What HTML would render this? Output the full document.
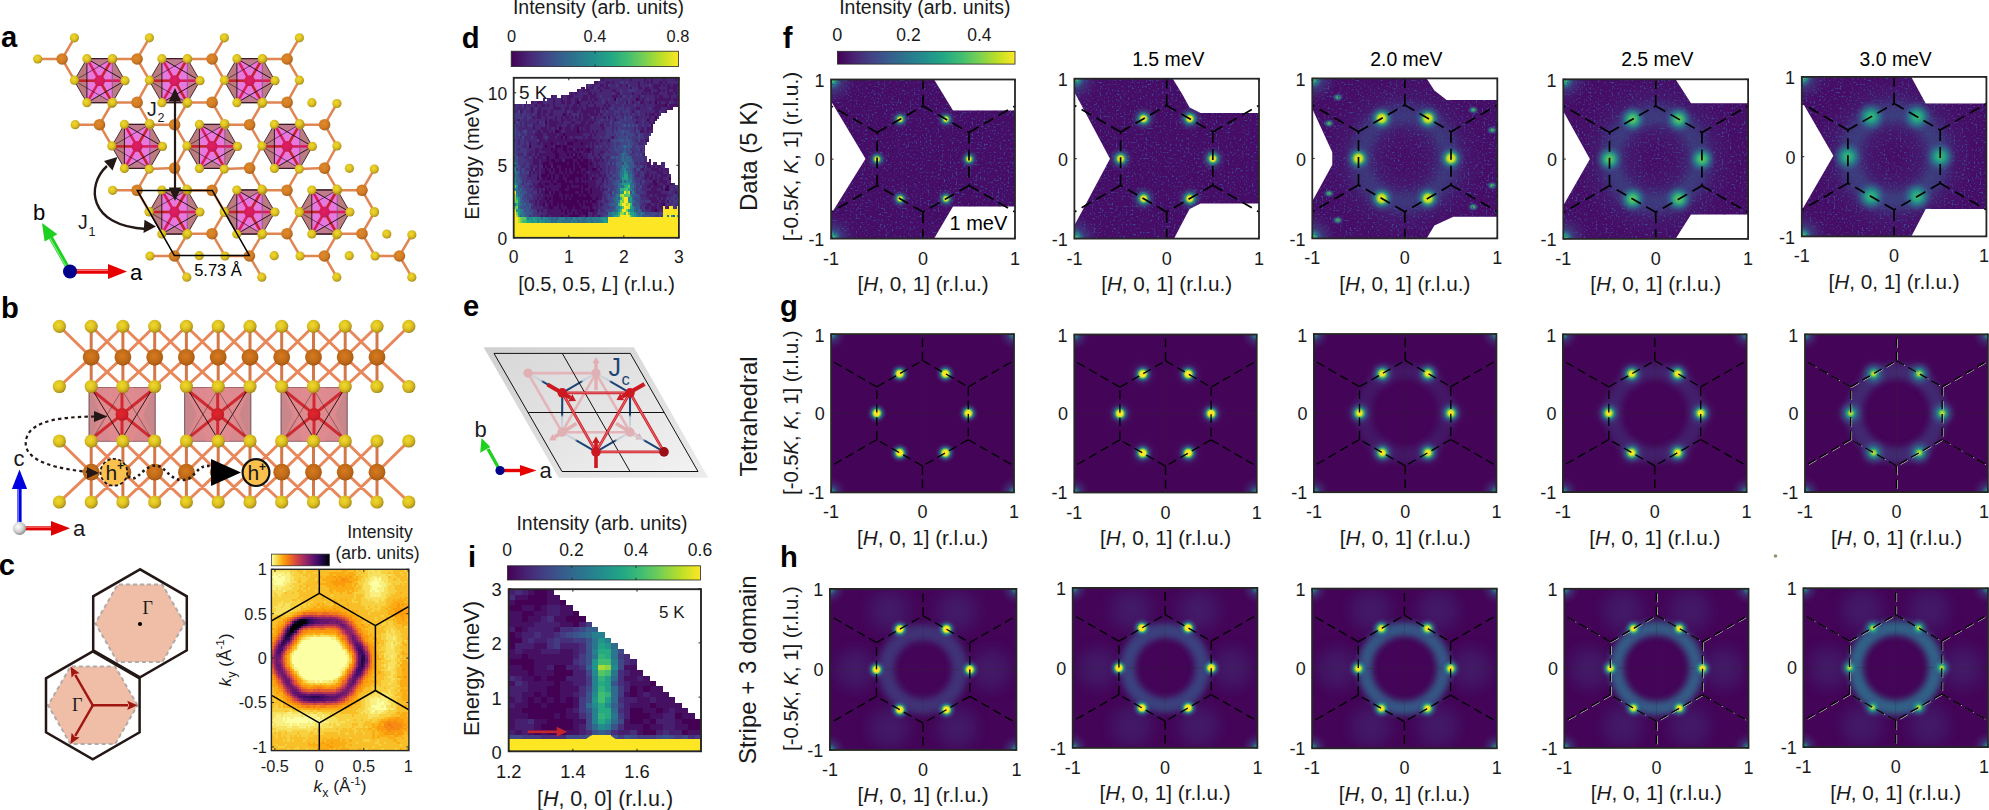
<!DOCTYPE html>
<html><head><meta charset="utf-8"><title>Figure</title>
<style>html,body{margin:0;padding:0;background:#fff}svg{display:block}text{font-family:'Liberation Sans', Arial, Helvetica, sans-serif}</style>
</head><body>
<svg width="1989" height="810" viewBox="0 0 1989 810">
<rect width="1989" height="810" fill="#fff"/>
<defs><filter id="nz" x="0" y="0" width="100%" height="100%" color-interpolation-filters="sRGB"><feTurbulence type="fractalNoise" baseFrequency="0.5" numOctaves="2" seed="7" result="t"/><feColorMatrix in="t" type="matrix" values="0 0 0 0 0.23  0 0 0 0 0.27  0 0 0 0 0.56  3.4 3.4 0 0 -3.62"/><feComposite in2="SourceGraphic" operator="in"/></filter><radialGradient id="sg"><stop offset="0" stop-color="#fde725" stop-opacity="1"/><stop offset="0.25" stop-color="#fde725" stop-opacity="1"/><stop offset="0.36" stop-color="#7ad151" stop-opacity="0.95"/><stop offset="0.5" stop-color="#21908d" stop-opacity="0.75"/><stop offset="0.7" stop-color="#375a8c" stop-opacity="0.4"/><stop offset="1" stop-color="#482475" stop-opacity="0"/></radialGradient><radialGradient id="sg2"><stop offset="0" stop-color="#fde725" stop-opacity="1"/><stop offset="0.2" stop-color="#eae525" stop-opacity="1"/><stop offset="0.33" stop-color="#5ec861" stop-opacity="0.92"/><stop offset="0.5" stop-color="#238b8d" stop-opacity="0.7"/><stop offset="0.72" stop-color="#39578b" stop-opacity="0.35"/><stop offset="1" stop-color="#482475" stop-opacity="0"/></radialGradient><radialGradient id="sg3"><stop offset="0" stop-color="#cae126" stop-opacity="1"/><stop offset="0.14" stop-color="#9bd83c" stop-opacity="0.97"/><stop offset="0.3" stop-color="#22a884" stop-opacity="0.85"/><stop offset="0.55" stop-color="#2c738e" stop-opacity="0.5"/><stop offset="1" stop-color="#44347e" stop-opacity="0"/></radialGradient><radialGradient id="sd1"><stop offset="0" stop-color="#fde725" stop-opacity="1"/><stop offset="0.2" stop-color="#dde326" stop-opacity="1"/><stop offset="0.35" stop-color="#22a884" stop-opacity="0.85"/><stop offset="0.6" stop-color="#306c8e" stop-opacity="0.4"/><stop offset="1" stop-color="#44347e" stop-opacity="0"/></radialGradient><radialGradient id="sd3"><stop offset="0" stop-color="#fde725" stop-opacity="1"/><stop offset="0.25" stop-color="#bddf26" stop-opacity="1"/><stop offset="0.45" stop-color="#229c88" stop-opacity="0.8"/><stop offset="0.7" stop-color="#355f8d" stop-opacity="0.4"/><stop offset="1" stop-color="#44347e" stop-opacity="0"/></radialGradient><radialGradient id="sd4"><stop offset="0" stop-color="#7ad151" stop-opacity="1"/><stop offset="0.3" stop-color="#32b37a" stop-opacity="0.95"/><stop offset="0.55" stop-color="#26848e" stop-opacity="0.7"/><stop offset="0.8" stop-color="#375a8c" stop-opacity="0.3"/><stop offset="1" stop-color="#44347e" stop-opacity="0"/></radialGradient><radialGradient id="sd5"><stop offset="0" stop-color="#42be71" stop-opacity="1"/><stop offset="0.3" stop-color="#22a386" stop-opacity="0.95"/><stop offset="0.6" stop-color="#2a788e" stop-opacity="0.6"/><stop offset="0.85" stop-color="#3b528a" stop-opacity="0.2"/><stop offset="1" stop-color="#44347e" stop-opacity="0"/></radialGradient><radialGradient id="cg"><stop offset="0" stop-color="#5ec861" stop-opacity="1"/><stop offset="0.15" stop-color="#21908d" stop-opacity="0.9"/><stop offset="0.4" stop-color="#355f8d" stop-opacity="0.5"/><stop offset="1" stop-color="#482475" stop-opacity="0"/></radialGradient><radialGradient id="glow"><stop offset="0" stop-color="#461264" stop-opacity="0"/><stop offset="0.25" stop-color="#414487" stop-opacity="0.3"/><stop offset="0.5" stop-color="#3c4f89" stop-opacity="1"/><stop offset="0.75" stop-color="#414487" stop-opacity="0.5"/><stop offset="1" stop-color="#44347e" stop-opacity="0"/></radialGradient><radialGradient id="halo"><stop offset="0" stop-color="#355f8d" stop-opacity="0.5"/><stop offset="0.6" stop-color="#3b528a" stop-opacity="0.3"/><stop offset="1" stop-color="#482475" stop-opacity="0"/></radialGradient><filter id="b3" x="-20%" y="-20%" width="140%" height="140%"><feGaussianBlur stdDeviation="3"/></filter><filter id="b5" x="-20%" y="-20%" width="140%" height="140%"><feGaussianBlur stdDeviation="5"/></filter><filter id="b8" x="-30%" y="-30%" width="160%" height="160%"><feGaussianBlur stdDeviation="8"/></filter><radialGradient id="gY" cx="0.42" cy="0.4" r="0.62"><stop offset="0" stop-color="#eed92e"/><stop offset="0.5" stop-color="#dfc421"/><stop offset="0.85" stop-color="#bfa01b"/><stop offset="1" stop-color="#937b17"/></radialGradient><radialGradient id="gO" cx="0.42" cy="0.4" r="0.62"><stop offset="0" stop-color="#e08a2c"/><stop offset="0.6" stop-color="#d27c24"/><stop offset="0.88" stop-color="#b5681e"/><stop offset="1" stop-color="#96561c"/></radialGradient><radialGradient id="gC" cx="0.45" cy="0.42" r="0.6"><stop offset="0" stop-color="#e01e62"/><stop offset="0.7" stop-color="#d41b5c"/><stop offset="1" stop-color="#b8174f"/></radialGradient><radialGradient id="gR" cx="0.45" cy="0.42" r="0.6"><stop offset="0" stop-color="#e0262e"/><stop offset="0.7" stop-color="#d01f28"/><stop offset="1" stop-color="#b01a22"/></radialGradient><radialGradient id="gW" cx="0.4" cy="0.38" r="0.65"><stop offset="0" stop-color="#ffffff"/><stop offset="0.6" stop-color="#d0d0d0"/><stop offset="1" stop-color="#8a8a8a"/></radialGradient><radialGradient id="gO2" cx="0.45" cy="0.42" r="0.62"><stop offset="0" stop-color="#d67a1e"/><stop offset="0.6" stop-color="#c06a18"/><stop offset="0.9" stop-color="#a85a14"/><stop offset="1" stop-color="#8e4c14"/></radialGradient><linearGradient id="gPl" x1="0" y1="0" x2="1" y2="1"><stop offset="0" stop-color="#d8d8d8"/><stop offset="0.5" stop-color="#e4e4e4"/><stop offset="1" stop-color="#f2f2f2"/></linearGradient><linearGradient id="gPo" x1="0" y1="0" x2="1" y2="1"><stop offset="0" stop-color="#d0d0d0"/><stop offset="1" stop-color="#ececec"/></linearGradient></defs>
<clipPath id="cpf1"><polygon points="831.1,79.5 934.1,79.5 953,110.5 1015,110.5 1015,206.5 953,206.5 934.1,238.6 831.1,238.6 831.1,213.9 865.5,158.7 831.1,101.3"/></clipPath><g clip-path="url(#cpf1)"><rect x="831.1" y="79.5" width="183.9" height="159.1" fill="#470c66"/><circle cx="831.1" cy="79.5" r="26" fill="url(#cg)"/><circle cx="831.1" cy="79.5" r="11" fill="url(#sd4)"/><circle cx="831.1" cy="238.6" r="26" fill="url(#cg)"/><circle cx="831.1" cy="238.6" r="11" fill="url(#sd4)"/><rect x="831.1" y="79.5" width="183.9" height="159.1" fill="#4a8ab0" filter="url(#nz)"/><circle cx="969" cy="159.1" r="10" fill="url(#sd1)"/><circle cx="877.1" cy="159.1" r="10" fill="url(#sd1)"/><circle cx="946" cy="119.3" r="10" fill="url(#sd1)"/><circle cx="900.1" cy="119.3" r="10" fill="url(#sd1)"/><circle cx="946" cy="198.8" r="10" fill="url(#sd1)"/><circle cx="900.1" cy="198.8" r="10" fill="url(#sd1)"/></g><path d="M923 106L969 132.5M969 132.5L969 185.6M969 185.6L923 212.1M923 212.1L877.1 185.6M877.1 185.6L877.1 132.5M877.1 132.5L923 106M923 106L923 79.5M969 132.5L1015 106M969 185.6L1015 212.1M923 212.1L923 238.6M877.1 185.6L831.1 212.1M877.1 132.5L831.1 106" fill="none" stroke="#000" stroke-width="1.7" stroke-dasharray="11 6"/><clipPath id="cpf2"><polygon points="1074.4,78.7 1172.8,78.7 1182.4,94.4 1189.6,107.6 1200.5,113.1 1259,113.1 1259,203.4 1200.5,203.4 1189.6,209 1182.4,222.6 1174.1,238.6 1074.4,238.6 1074.4,225.6 1110,158.8 1074.4,92.1"/></clipPath><g clip-path="url(#cpf2)"><rect x="1074.4" y="78.7" width="184.6" height="159.9" fill="#470c66"/><circle cx="1074.4" cy="78.7" r="26" fill="url(#cg)"/><circle cx="1074.4" cy="78.7" r="11" fill="url(#sd4)"/><circle cx="1074.4" cy="238.6" r="26" fill="url(#cg)"/><circle cx="1074.4" cy="238.6" r="11" fill="url(#sd4)"/><rect x="1074.4" y="78.7" width="184.6" height="159.9" fill="#4a8ab0" filter="url(#nz)"/><circle cx="1212.8" cy="158.7" r="13" fill="url(#sd1)"/><circle cx="1120.6" cy="158.7" r="13" fill="url(#sd1)"/><circle cx="1189.8" cy="118.7" r="13" fill="url(#sd1)"/><circle cx="1143.6" cy="118.7" r="13" fill="url(#sd1)"/><circle cx="1189.8" cy="198.6" r="13" fill="url(#sd1)"/><circle cx="1143.6" cy="198.6" r="13" fill="url(#sd1)"/></g><path d="M1166.7 105.4L1212.8 132M1212.8 132L1212.8 185.3M1212.8 185.3L1166.7 211.9M1166.7 211.9L1120.6 185.3M1120.6 185.3L1120.6 132M1120.6 132L1166.7 105.4M1166.7 105.4L1166.7 78.7M1212.8 132L1259 105.4M1212.8 185.3L1259 211.9M1166.7 211.9L1166.7 238.6M1120.6 185.3L1074.4 211.9M1120.6 132L1074.4 105.4" fill="none" stroke="#000" stroke-width="1.7" stroke-dasharray="11 6"/><clipPath id="cpf3"><polygon points="1312.3,78.4 1426.6,78.4 1434.4,90.4 1446.6,100 1497.3,100 1497.3,216.8 1453.3,216.8 1434.4,225.6 1426.6,238.4 1312.3,238.4 1312.3,201.3 1332.3,164.8 1332.3,152.3 1312.3,108.8"/></clipPath><g clip-path="url(#cpf3)"><rect x="1312.3" y="78.4" width="185" height="160" fill="#470c66"/><circle cx="1404.8" cy="158.4" r="80" fill="url(#glow)" opacity="0.36"/><circle cx="1404.8" cy="158.4" r="45" fill="none" stroke="#32668d" stroke-width="20" opacity="0.3" filter="url(#b5)"/><ellipse cx="1337.8" cy="97.3" rx="6" ry="4.5" fill="url(#sd4)" opacity="0.85"/><ellipse cx="1337.8" cy="220.2" rx="6" ry="4.5" fill="url(#sd4)" opacity="0.85"/><ellipse cx="1492.1" cy="130.1" rx="6" ry="4.5" fill="url(#sd4)" opacity="0.85"/><ellipse cx="1492.1" cy="185.6" rx="6" ry="4.5" fill="url(#sd4)" opacity="0.85"/><ellipse cx="1473.2" cy="109.9" rx="6" ry="4.5" fill="url(#sd4)" opacity="0.85"/><ellipse cx="1473.2" cy="206.9" rx="6" ry="4.5" fill="url(#sd4)" opacity="0.85"/><ellipse cx="1329" cy="123.4" rx="6" ry="4.5" fill="url(#sd4)" opacity="0.85"/><ellipse cx="1329" cy="193.4" rx="6" ry="4.5" fill="url(#sd4)" opacity="0.85"/><circle cx="1312.3" cy="78.4" r="26" fill="url(#cg)"/><circle cx="1312.3" cy="78.4" r="11" fill="url(#sd4)"/><circle cx="1312.3" cy="238.4" r="26" fill="url(#cg)"/><circle cx="1312.3" cy="238.4" r="11" fill="url(#sd4)"/><rect x="1312.3" y="78.4" width="185" height="160" fill="#4a8ab0" filter="url(#nz)"/><circle cx="1451" cy="158.4" r="14.5" fill="url(#sd3)"/><circle cx="1358.5" cy="158.4" r="14.5" fill="url(#sd3)"/><circle cx="1427.9" cy="118.4" r="14.5" fill="url(#sd3)"/><circle cx="1381.7" cy="118.4" r="14.5" fill="url(#sd3)"/><circle cx="1427.9" cy="198.4" r="14.5" fill="url(#sd3)"/><circle cx="1381.7" cy="198.4" r="14.5" fill="url(#sd3)"/></g><path d="M1404.8 105.1L1451 131.7M1451 131.7L1451 185.1M1451 185.1L1404.8 211.7M1404.8 211.7L1358.5 185.1M1358.5 185.1L1358.5 131.7M1358.5 131.7L1404.8 105.1M1404.8 105.1L1404.8 78.4M1451 131.7L1497.3 105.1M1451 185.1L1497.3 211.7M1404.8 211.7L1404.8 238.4M1358.5 185.1L1312.3 211.7M1358.5 131.7L1312.3 105.1" fill="none" stroke="#000" stroke-width="1.7" stroke-dasharray="11 6"/><clipPath id="cpf4"><polygon points="1563.3,79.3 1675.5,79.3 1691,103.2 1748.1,103.2 1748.1,214.5 1691,214.5 1675.5,238.9 1563.3,238.9 1563.3,205.5 1589.9,158.9 1563.3,111.2"/></clipPath><g clip-path="url(#cpf4)"><rect x="1563.3" y="79.3" width="184.8" height="159.6" fill="#470c66"/><circle cx="1655.7" cy="159.1" r="80" fill="url(#glow)" opacity="0.4"/><circle cx="1655.7" cy="159.1" r="45" fill="none" stroke="#32668d" stroke-width="20" opacity="0.33" filter="url(#b5)"/><circle cx="1563.3" cy="79.3" r="26" fill="url(#cg)"/><circle cx="1563.3" cy="79.3" r="11" fill="url(#sd4)"/><circle cx="1563.3" cy="238.9" r="26" fill="url(#cg)"/><circle cx="1563.3" cy="238.9" r="11" fill="url(#sd4)"/><rect x="1563.3" y="79.3" width="184.8" height="159.6" fill="#4a8ab0" filter="url(#nz)"/><circle cx="1701.9" cy="159.1" r="15" fill="url(#sd4)"/><circle cx="1609.5" cy="159.1" r="15" fill="url(#sd4)"/><circle cx="1678.8" cy="119.2" r="15" fill="url(#sd4)"/><circle cx="1632.6" cy="119.2" r="15" fill="url(#sd4)"/><circle cx="1678.8" cy="199" r="15" fill="url(#sd4)"/><circle cx="1632.6" cy="199" r="15" fill="url(#sd4)"/></g><path d="M1655.7 105.9L1701.9 132.5M1701.9 132.5L1701.9 185.7M1701.9 185.7L1655.7 212.3M1655.7 212.3L1609.5 185.7M1609.5 185.7L1609.5 132.5M1609.5 132.5L1655.7 105.9M1655.7 105.9L1655.7 79.3M1701.9 132.5L1748.1 105.9M1701.9 185.7L1748.1 212.3M1655.7 212.3L1655.7 238.9M1609.5 185.7L1563.3 212.3M1609.5 132.5L1563.3 105.9" fill="none" stroke="#000" stroke-width="1.7" stroke-dasharray="11 6"/><clipPath id="cpf5"><polygon points="1801.8,76.9 1911.3,76.9 1925.7,103.5 1986.4,103.5 1986.4,209.1 1925.7,209.1 1911.3,236.4 1801.8,236.4 1801.8,210.2 1833.4,155.7 1801.8,101.3"/></clipPath><g clip-path="url(#cpf5)"><rect x="1801.8" y="76.9" width="184.6" height="159.5" fill="#470c66"/><circle cx="1894.1" cy="156.7" r="80" fill="url(#glow)" opacity="0.42"/><circle cx="1894.1" cy="156.7" r="45" fill="none" stroke="#32668d" stroke-width="20" opacity="0.36" filter="url(#b5)"/><circle cx="1801.8" cy="76.9" r="26" fill="url(#cg)"/><circle cx="1801.8" cy="76.9" r="11" fill="url(#sd4)"/><circle cx="1801.8" cy="236.4" r="26" fill="url(#cg)"/><circle cx="1801.8" cy="236.4" r="11" fill="url(#sd4)"/><rect x="1801.8" y="76.9" width="184.6" height="159.5" fill="#4a8ab0" filter="url(#nz)"/><circle cx="1940.2" cy="156.7" r="16.5" fill="url(#sd5)"/><circle cx="1847.9" cy="156.7" r="16.5" fill="url(#sd5)"/><circle cx="1917.2" cy="116.8" r="16.5" fill="url(#sd5)"/><circle cx="1871" cy="116.8" r="16.5" fill="url(#sd5)"/><circle cx="1917.2" cy="196.5" r="16.5" fill="url(#sd5)"/><circle cx="1871" cy="196.5" r="16.5" fill="url(#sd5)"/></g><path d="M1894.1 103.5L1940.2 130.1M1940.2 130.1L1940.2 183.2M1940.2 183.2L1894.1 209.8M1894.1 209.8L1847.9 183.2M1847.9 183.2L1847.9 130.1M1847.9 130.1L1894.1 103.5M1894.1 103.5L1894.1 76.9M1940.2 130.1L1986.4 103.5M1940.2 183.2L1986.4 209.8M1894.1 209.8L1894.1 236.4M1847.9 183.2L1801.8 209.8M1847.9 130.1L1801.8 103.5" fill="none" stroke="#000" stroke-width="1.7" stroke-dasharray="11 6"/><clipPath id="cpg1"><rect x="831.1" y="334.1" width="182.9" height="158.3"/></clipPath><g clip-path="url(#cpg1)"><rect x="831.1" y="334.1" width="182.9" height="158.3" fill="#440457"/><circle cx="831.1" cy="334.1" r="16" fill="url(#cg)"/><circle cx="831.1" cy="492.4" r="16" fill="url(#cg)"/><circle cx="1014" cy="334.1" r="16" fill="url(#cg)"/><circle cx="1014" cy="492.4" r="16" fill="url(#cg)"/><path d="M922.5 334.1V492.4M831.1 413.2H1014" stroke="#2a2a2a" stroke-width="0.7" opacity="0.4" fill="none"/><circle cx="968.3" cy="413.2" r="10.5" fill="url(#sg)"/><circle cx="876.8" cy="413.2" r="10.5" fill="url(#sg)"/><circle cx="945.4" cy="373.7" r="10.5" fill="url(#sg)"/><circle cx="899.7" cy="373.7" r="10.5" fill="url(#sg)"/><circle cx="945.4" cy="452.8" r="10.5" fill="url(#sg)"/><circle cx="899.7" cy="452.8" r="10.5" fill="url(#sg)"/></g><path d="M922.5 360.5L968.3 386.9M968.3 386.9L968.3 439.6M968.3 439.6L922.5 466M922.5 466L876.8 439.6M876.8 439.6L876.8 386.9M876.8 386.9L922.5 360.5M922.5 360.5L922.5 334.1M968.3 386.9L1014 360.5M968.3 439.6L1014 466M922.5 466L922.5 492.4M876.8 439.6L831.1 466M876.8 386.9L831.1 360.5" fill="none" stroke="#000" stroke-width="1.35" stroke-dasharray="8.8 4.7"/><clipPath id="cpg2"><rect x="1074.3" y="334.5" width="182.4" height="158"/></clipPath><g clip-path="url(#cpg2)"><rect x="1074.3" y="334.5" width="182.4" height="158" fill="#440457"/><circle cx="1211.1" cy="413.5" r="17" fill="url(#halo)" opacity="0.35"/><circle cx="1119.9" cy="413.5" r="17" fill="url(#halo)" opacity="0.35"/><circle cx="1188.3" cy="374" r="17" fill="url(#halo)" opacity="0.35"/><circle cx="1142.7" cy="374" r="17" fill="url(#halo)" opacity="0.35"/><circle cx="1188.3" cy="453" r="17" fill="url(#halo)" opacity="0.35"/><circle cx="1142.7" cy="453" r="17" fill="url(#halo)" opacity="0.35"/><circle cx="1074.3" cy="334.5" r="16" fill="url(#cg)"/><circle cx="1074.3" cy="492.5" r="16" fill="url(#cg)"/><circle cx="1256.7" cy="334.5" r="16" fill="url(#cg)"/><circle cx="1256.7" cy="492.5" r="16" fill="url(#cg)"/><path d="M1165.5 334.5V492.5M1074.3 413.5H1256.7" stroke="#2a2a2a" stroke-width="0.7" opacity="0.4" fill="none"/><circle cx="1211.1" cy="413.5" r="11" fill="url(#sg)"/><circle cx="1119.9" cy="413.5" r="11" fill="url(#sg)"/><circle cx="1188.3" cy="374" r="11" fill="url(#sg)"/><circle cx="1142.7" cy="374" r="11" fill="url(#sg)"/><circle cx="1188.3" cy="453" r="11" fill="url(#sg)"/><circle cx="1142.7" cy="453" r="11" fill="url(#sg)"/></g><path d="M1165.5 360.8L1211.1 387.2M1211.1 387.2L1211.1 439.8M1211.1 439.8L1165.5 466.2M1165.5 466.2L1119.9 439.8M1119.9 439.8L1119.9 387.2M1119.9 387.2L1165.5 360.8M1165.5 360.8L1165.5 334.5M1211.1 387.2L1256.7 360.8M1211.1 439.8L1256.7 466.2M1165.5 466.2L1165.5 492.5M1119.9 439.8L1074.3 466.2M1119.9 387.2L1074.3 360.8" fill="none" stroke="#000" stroke-width="1.35" stroke-dasharray="8.8 4.7"/><clipPath id="cpg3"><rect x="1313.9" y="334" width="182.5" height="158.2"/></clipPath><g clip-path="url(#cpg3)"><rect x="1313.9" y="334" width="182.5" height="158.2" fill="#440457"/><circle cx="1405.2" cy="413.1" r="42" fill="none" stroke="#414487" stroke-width="16" opacity="0.3" filter="url(#b3)"/><circle cx="1450.8" cy="413.1" r="17" fill="url(#halo)" opacity="0.5"/><circle cx="1359.5" cy="413.1" r="17" fill="url(#halo)" opacity="0.5"/><circle cx="1428" cy="373.6" r="17" fill="url(#halo)" opacity="0.5"/><circle cx="1382.3" cy="373.6" r="17" fill="url(#halo)" opacity="0.5"/><circle cx="1428" cy="452.7" r="17" fill="url(#halo)" opacity="0.5"/><circle cx="1382.3" cy="452.7" r="17" fill="url(#halo)" opacity="0.5"/><circle cx="1313.9" cy="334" r="16" fill="url(#cg)"/><circle cx="1313.9" cy="492.2" r="16" fill="url(#cg)"/><circle cx="1496.4" cy="334" r="16" fill="url(#cg)"/><circle cx="1496.4" cy="492.2" r="16" fill="url(#cg)"/><path d="M1405.2 334V492.2M1313.9 413.1H1496.4" stroke="#2a2a2a" stroke-width="0.7" opacity="0.4" fill="none"/><circle cx="1450.8" cy="413.1" r="12" fill="url(#sg2)"/><circle cx="1359.5" cy="413.1" r="12" fill="url(#sg2)"/><circle cx="1428" cy="373.6" r="12" fill="url(#sg2)"/><circle cx="1382.3" cy="373.6" r="12" fill="url(#sg2)"/><circle cx="1428" cy="452.7" r="12" fill="url(#sg2)"/><circle cx="1382.3" cy="452.7" r="12" fill="url(#sg2)"/></g><path d="M1405.2 360.4L1450.8 386.7M1450.8 386.7L1450.8 439.5M1450.8 439.5L1405.2 465.8M1405.2 465.8L1359.5 439.5M1359.5 439.5L1359.5 386.7M1359.5 386.7L1405.2 360.4M1405.2 360.4L1405.2 334M1450.8 386.7L1496.4 360.4M1450.8 439.5L1496.4 465.8M1405.2 465.8L1405.2 492.2M1359.5 439.5L1313.9 465.8M1359.5 386.7L1313.9 360.4" fill="none" stroke="#000" stroke-width="1.35" stroke-dasharray="8.8 4.7"/><clipPath id="cpg4"><rect x="1562.9" y="334.3" width="183.7" height="157.8"/></clipPath><g clip-path="url(#cpg4)"><rect x="1562.9" y="334.3" width="183.7" height="157.8" fill="#440457"/><circle cx="1654.8" cy="413.2" r="42" fill="none" stroke="#3f4988" stroke-width="16" opacity="0.4" filter="url(#b3)"/><circle cx="1700.7" cy="413.2" r="17" fill="url(#halo)" opacity="0.6"/><circle cx="1608.8" cy="413.2" r="17" fill="url(#halo)" opacity="0.6"/><circle cx="1677.7" cy="373.8" r="17" fill="url(#halo)" opacity="0.6"/><circle cx="1631.8" cy="373.8" r="17" fill="url(#halo)" opacity="0.6"/><circle cx="1677.7" cy="452.7" r="17" fill="url(#halo)" opacity="0.6"/><circle cx="1631.8" cy="452.7" r="17" fill="url(#halo)" opacity="0.6"/><circle cx="1562.9" cy="334.3" r="16" fill="url(#cg)"/><circle cx="1562.9" cy="492.1" r="16" fill="url(#cg)"/><circle cx="1746.6" cy="334.3" r="16" fill="url(#cg)"/><circle cx="1746.6" cy="492.1" r="16" fill="url(#cg)"/><path d="M1654.8 334.3V492.1M1562.9 413.2H1746.6" stroke="#2a2a2a" stroke-width="0.7" opacity="0.4" fill="none"/><circle cx="1700.7" cy="413.2" r="12" fill="url(#sg2)"/><circle cx="1608.8" cy="413.2" r="12" fill="url(#sg2)"/><circle cx="1677.7" cy="373.8" r="12" fill="url(#sg2)"/><circle cx="1631.8" cy="373.8" r="12" fill="url(#sg2)"/><circle cx="1677.7" cy="452.7" r="12" fill="url(#sg2)"/><circle cx="1631.8" cy="452.7" r="12" fill="url(#sg2)"/></g><path d="M1654.8 360.6L1700.7 386.9M1700.7 386.9L1700.7 439.5M1700.7 439.5L1654.8 465.8M1654.8 465.8L1608.8 439.5M1608.8 439.5L1608.8 386.9M1608.8 386.9L1654.8 360.6M1654.8 360.6L1654.8 334.3M1700.7 386.9L1746.6 360.6M1700.7 439.5L1746.6 465.8M1654.8 465.8L1654.8 492.1M1608.8 439.5L1562.9 465.8M1608.8 386.9L1562.9 360.6" fill="none" stroke="#000" stroke-width="1.35" stroke-dasharray="8.8 4.7"/><clipPath id="cpg5"><rect x="1805" y="334.3" width="182.9" height="157.8"/></clipPath><g clip-path="url(#cpg5)"><rect x="1805" y="334.3" width="182.9" height="157.8" fill="#440457"/><circle cx="1896.5" cy="413.2" r="42" fill="none" stroke="#3c4f89" stroke-width="16" opacity="0.5" filter="url(#b3)"/><circle cx="1942.2" cy="413.2" r="17" fill="url(#halo)" opacity="0.7"/><circle cx="1850.7" cy="413.2" r="17" fill="url(#halo)" opacity="0.7"/><circle cx="1919.3" cy="373.8" r="17" fill="url(#halo)" opacity="0.7"/><circle cx="1873.6" cy="373.8" r="17" fill="url(#halo)" opacity="0.7"/><circle cx="1919.3" cy="452.7" r="17" fill="url(#halo)" opacity="0.7"/><circle cx="1873.6" cy="452.7" r="17" fill="url(#halo)" opacity="0.7"/><circle cx="1805" cy="334.3" r="16" fill="url(#cg)"/><circle cx="1805" cy="492.1" r="16" fill="url(#cg)"/><circle cx="1987.9" cy="334.3" r="16" fill="url(#cg)"/><circle cx="1987.9" cy="492.1" r="16" fill="url(#cg)"/><path d="M1896.5 334.3V492.1M1805 413.2H1987.9" stroke="#2a2a2a" stroke-width="0.7" opacity="0.4" fill="none"/><circle cx="1942.2" cy="413.2" r="13" fill="url(#sg3)"/><circle cx="1850.7" cy="413.2" r="13" fill="url(#sg3)"/><circle cx="1919.3" cy="373.8" r="13" fill="url(#sg3)"/><circle cx="1873.6" cy="373.8" r="13" fill="url(#sg3)"/><circle cx="1919.3" cy="452.7" r="13" fill="url(#sg3)"/><circle cx="1873.6" cy="452.7" r="13" fill="url(#sg3)"/></g><g transform="translate(0.9,0.6)"><path d="M1896.5 360.6L1942.2 386.9M1942.2 386.9L1942.2 439.5M1942.2 439.5L1896.5 465.8M1896.5 465.8L1850.7 439.5M1850.7 439.5L1850.7 386.9M1850.7 386.9L1896.5 360.6M1896.5 360.6L1896.5 334.3M1942.2 386.9L1987.9 360.6M1942.2 439.5L1987.9 465.8M1896.5 465.8L1896.5 492.1M1850.7 439.5L1805 465.8M1850.7 386.9L1805 360.6" fill="none" stroke="#cfcfcf" stroke-width="0.9" stroke-dasharray="8.8 4.7"/></g><path d="M1896.5 360.6L1942.2 386.9M1942.2 386.9L1942.2 439.5M1942.2 439.5L1896.5 465.8M1896.5 465.8L1850.7 439.5M1850.7 439.5L1850.7 386.9M1850.7 386.9L1896.5 360.6M1896.5 360.6L1896.5 334.3M1942.2 386.9L1987.9 360.6M1942.2 439.5L1987.9 465.8M1896.5 465.8L1896.5 492.1M1850.7 439.5L1805 465.8M1850.7 386.9L1805 360.6" fill="none" stroke="#000" stroke-width="1.35" stroke-dasharray="8.8 4.7"/><clipPath id="cph1"><rect x="829.9" y="588.9" width="186.5" height="161.1"/></clipPath><g clip-path="url(#cph1)"><rect x="829.9" y="588.9" width="186.5" height="161.1" fill="#440457"/><circle cx="990.8" cy="669.5" r="20" fill="#414487" opacity="0.35" filter="url(#b8)"/><circle cx="855.5" cy="669.5" r="20" fill="#414487" opacity="0.35" filter="url(#b8)"/><circle cx="957" cy="611.1" r="20" fill="#414487" opacity="0.35" filter="url(#b8)"/><circle cx="889.3" cy="611.1" r="20" fill="#414487" opacity="0.35" filter="url(#b8)"/><circle cx="957" cy="727.8" r="20" fill="#414487" opacity="0.35" filter="url(#b8)"/><circle cx="889.3" cy="727.8" r="20" fill="#414487" opacity="0.35" filter="url(#b8)"/><circle cx="923.1" cy="669.5" r="37" fill="none" stroke="#3c4f89" stroke-width="16" opacity="0.62" filter="url(#b3)"/><circle cx="829.9" cy="588.9" r="16" fill="url(#cg)"/><circle cx="829.9" cy="750" r="16" fill="url(#cg)"/><circle cx="1016.4" cy="588.9" r="16" fill="url(#cg)"/><circle cx="1016.4" cy="750" r="16" fill="url(#cg)"/><path d="M923.1 588.9V750M829.9 669.5H1016.4" stroke="#2a2a2a" stroke-width="0.7" opacity="0.4" fill="none"/><circle cx="969.8" cy="669.5" r="10.5" fill="url(#sg)"/><circle cx="876.5" cy="669.5" r="10.5" fill="url(#sg)"/><circle cx="946.5" cy="629.2" r="10.5" fill="url(#sg)"/><circle cx="899.8" cy="629.2" r="10.5" fill="url(#sg)"/><circle cx="946.5" cy="709.7" r="10.5" fill="url(#sg)"/><circle cx="899.8" cy="709.7" r="10.5" fill="url(#sg)"/></g><path d="M923.1 615.8L969.8 642.6M969.8 642.6L969.8 696.3M969.8 696.3L923.1 723.2M923.1 723.2L876.5 696.3M876.5 696.3L876.5 642.6M876.5 642.6L923.1 615.8M923.1 615.8L923.1 588.9M969.8 642.6L1016.4 615.8M969.8 696.3L1016.4 723.2M923.1 723.2L923.1 750M876.5 696.3L829.9 723.2M876.5 642.6L829.9 615.8" fill="none" stroke="#000" stroke-width="1.35" stroke-dasharray="8.8 4.7"/><clipPath id="cph2"><rect x="1072.7" y="587.9" width="184.7" height="160"/></clipPath><g clip-path="url(#cph2)"><rect x="1072.7" y="587.9" width="184.7" height="160" fill="#440457"/><circle cx="1232" cy="667.9" r="20" fill="#414487" opacity="0.35" filter="url(#b8)"/><circle cx="1098.1" cy="667.9" r="20" fill="#414487" opacity="0.35" filter="url(#b8)"/><circle cx="1198.5" cy="609.9" r="20" fill="#414487" opacity="0.35" filter="url(#b8)"/><circle cx="1131.6" cy="609.9" r="20" fill="#414487" opacity="0.35" filter="url(#b8)"/><circle cx="1198.5" cy="725.9" r="20" fill="#414487" opacity="0.35" filter="url(#b8)"/><circle cx="1131.6" cy="725.9" r="20" fill="#414487" opacity="0.35" filter="url(#b8)"/><circle cx="1165.1" cy="667.9" r="37.5" fill="none" stroke="#39578b" stroke-width="15" opacity="0.75" filter="url(#b3)"/><circle cx="1072.7" cy="587.9" r="16" fill="url(#cg)"/><circle cx="1072.7" cy="747.9" r="16" fill="url(#cg)"/><circle cx="1257.4" cy="587.9" r="16" fill="url(#cg)"/><circle cx="1257.4" cy="747.9" r="16" fill="url(#cg)"/><path d="M1165.1 587.9V747.9M1072.7 667.9H1257.4" stroke="#2a2a2a" stroke-width="0.7" opacity="0.4" fill="none"/><circle cx="1211.2" cy="667.9" r="10.5" fill="url(#sg)"/><circle cx="1118.9" cy="667.9" r="10.5" fill="url(#sg)"/><circle cx="1188.1" cy="627.9" r="10.5" fill="url(#sg)"/><circle cx="1142" cy="627.9" r="10.5" fill="url(#sg)"/><circle cx="1188.1" cy="707.9" r="10.5" fill="url(#sg)"/><circle cx="1142" cy="707.9" r="10.5" fill="url(#sg)"/></g><path d="M1165.1 614.6L1211.2 641.2M1211.2 641.2L1211.2 694.6M1211.2 694.6L1165.1 721.2M1165.1 721.2L1118.9 694.6M1118.9 694.6L1118.9 641.2M1118.9 641.2L1165.1 614.6M1165.1 614.6L1165.1 587.9M1211.2 641.2L1257.4 614.6M1211.2 694.6L1257.4 721.2M1165.1 721.2L1165.1 747.9M1118.9 694.6L1072.7 721.2M1118.9 641.2L1072.7 614.6" fill="none" stroke="#000" stroke-width="1.35" stroke-dasharray="8.8 4.7"/><clipPath id="cph3"><rect x="1312.1" y="588.6" width="184.7" height="159.7"/></clipPath><g clip-path="url(#cph3)"><rect x="1312.1" y="588.6" width="184.7" height="159.7" fill="#440457"/><circle cx="1471.4" cy="668.5" r="20" fill="#414487" opacity="0.35" filter="url(#b8)"/><circle cx="1337.5" cy="668.5" r="20" fill="#414487" opacity="0.35" filter="url(#b8)"/><circle cx="1437.9" cy="610.6" r="20" fill="#414487" opacity="0.35" filter="url(#b8)"/><circle cx="1371" cy="610.6" r="20" fill="#414487" opacity="0.35" filter="url(#b8)"/><circle cx="1437.9" cy="726.3" r="20" fill="#414487" opacity="0.35" filter="url(#b8)"/><circle cx="1371" cy="726.3" r="20" fill="#414487" opacity="0.35" filter="url(#b8)"/><circle cx="1404.4" cy="668.5" r="39.5" fill="none" stroke="#32668d" stroke-width="14" opacity="0.85" filter="url(#b3)"/><circle cx="1312.1" cy="588.6" r="16" fill="url(#cg)"/><circle cx="1312.1" cy="748.3" r="16" fill="url(#cg)"/><circle cx="1496.8" cy="588.6" r="16" fill="url(#cg)"/><circle cx="1496.8" cy="748.3" r="16" fill="url(#cg)"/><path d="M1404.4 588.6V748.3M1312.1 668.5H1496.8" stroke="#2a2a2a" stroke-width="0.7" opacity="0.4" fill="none"/><circle cx="1450.6" cy="668.5" r="11" fill="url(#sg2)"/><circle cx="1358.3" cy="668.5" r="11" fill="url(#sg2)"/><circle cx="1427.5" cy="628.5" r="11" fill="url(#sg2)"/><circle cx="1381.4" cy="628.5" r="11" fill="url(#sg2)"/><circle cx="1427.5" cy="708.4" r="11" fill="url(#sg2)"/><circle cx="1381.4" cy="708.4" r="11" fill="url(#sg2)"/></g><path d="M1404.4 615.2L1450.6 641.8M1450.6 641.8L1450.6 695.1M1450.6 695.1L1404.4 721.7M1404.4 721.7L1358.3 695.1M1358.3 695.1L1358.3 641.8M1358.3 641.8L1404.4 615.2M1404.4 615.2L1404.4 588.6M1450.6 641.8L1496.8 615.2M1450.6 695.1L1496.8 721.7M1404.4 721.7L1404.4 748.3M1358.3 695.1L1312.1 721.7M1358.3 641.8L1312.1 615.2" fill="none" stroke="#000" stroke-width="1.35" stroke-dasharray="8.8 4.7"/><clipPath id="cph4"><rect x="1564.3" y="588.8" width="184.2" height="159.1"/></clipPath><g clip-path="url(#cph4)"><rect x="1564.3" y="588.8" width="184.2" height="159.1" fill="#440457"/><circle cx="1723.2" cy="668.3" r="20" fill="#414487" opacity="0.35" filter="url(#b8)"/><circle cx="1589.6" cy="668.3" r="20" fill="#414487" opacity="0.35" filter="url(#b8)"/><circle cx="1689.8" cy="610.7" r="20" fill="#414487" opacity="0.35" filter="url(#b8)"/><circle cx="1623" cy="610.7" r="20" fill="#414487" opacity="0.35" filter="url(#b8)"/><circle cx="1689.8" cy="726" r="20" fill="#414487" opacity="0.35" filter="url(#b8)"/><circle cx="1623" cy="726" r="20" fill="#414487" opacity="0.35" filter="url(#b8)"/><circle cx="1656.4" cy="668.3" r="40" fill="none" stroke="#306c8e" stroke-width="14" opacity="0.85" filter="url(#b3)"/><circle cx="1564.3" cy="588.8" r="16" fill="url(#cg)"/><circle cx="1564.3" cy="747.9" r="16" fill="url(#cg)"/><circle cx="1748.5" cy="588.8" r="16" fill="url(#cg)"/><circle cx="1748.5" cy="747.9" r="16" fill="url(#cg)"/><path d="M1656.4 588.8V747.9M1564.3 668.3H1748.5" stroke="#2a2a2a" stroke-width="0.7" opacity="0.4" fill="none"/><circle cx="1702.5" cy="668.3" r="10.5" fill="url(#sg2)"/><circle cx="1610.4" cy="668.3" r="10.5" fill="url(#sg2)"/><circle cx="1679.4" cy="628.6" r="10.5" fill="url(#sg2)"/><circle cx="1633.4" cy="628.6" r="10.5" fill="url(#sg2)"/><circle cx="1679.4" cy="708.1" r="10.5" fill="url(#sg2)"/><circle cx="1633.4" cy="708.1" r="10.5" fill="url(#sg2)"/></g><g transform="translate(0.9,0.6)"><path d="M1656.4 615.3L1702.5 641.8M1702.5 641.8L1702.5 694.9M1702.5 694.9L1656.4 721.4M1656.4 721.4L1610.4 694.9M1610.4 694.9L1610.4 641.8M1610.4 641.8L1656.4 615.3M1656.4 615.3L1656.4 588.8M1702.5 641.8L1748.5 615.3M1702.5 694.9L1748.5 721.4M1656.4 721.4L1656.4 747.9M1610.4 694.9L1564.3 721.4M1610.4 641.8L1564.3 615.3" fill="none" stroke="#cfcfcf" stroke-width="0.9" stroke-dasharray="8.8 4.7"/></g><path d="M1656.4 615.3L1702.5 641.8M1702.5 641.8L1702.5 694.9M1702.5 694.9L1656.4 721.4M1656.4 721.4L1610.4 694.9M1610.4 694.9L1610.4 641.8M1610.4 641.8L1656.4 615.3M1656.4 615.3L1656.4 588.8M1702.5 641.8L1748.5 615.3M1702.5 694.9L1748.5 721.4M1656.4 721.4L1656.4 747.9M1610.4 694.9L1564.3 721.4M1610.4 641.8L1564.3 615.3" fill="none" stroke="#000" stroke-width="1.35" stroke-dasharray="8.8 4.7"/><clipPath id="cph5"><rect x="1803.4" y="588.2" width="184.6" height="158.9"/></clipPath><g clip-path="url(#cph5)"><rect x="1803.4" y="588.2" width="184.6" height="158.9" fill="#440457"/><circle cx="1962.6" cy="667.7" r="20" fill="#414487" opacity="0.35" filter="url(#b8)"/><circle cx="1828.8" cy="667.7" r="20" fill="#414487" opacity="0.35" filter="url(#b8)"/><circle cx="1929.2" cy="610" r="20" fill="#414487" opacity="0.35" filter="url(#b8)"/><circle cx="1862.2" cy="610" r="20" fill="#414487" opacity="0.35" filter="url(#b8)"/><circle cx="1929.2" cy="725.3" r="20" fill="#414487" opacity="0.35" filter="url(#b8)"/><circle cx="1862.2" cy="725.3" r="20" fill="#414487" opacity="0.35" filter="url(#b8)"/><circle cx="1895.7" cy="667.7" r="40" fill="none" stroke="#2d708e" stroke-width="14.5" opacity="0.88" filter="url(#b3)"/><circle cx="1803.4" cy="588.2" r="16" fill="url(#cg)"/><circle cx="1803.4" cy="747.1" r="16" fill="url(#cg)"/><circle cx="1988" cy="588.2" r="16" fill="url(#cg)"/><circle cx="1988" cy="747.1" r="16" fill="url(#cg)"/><path d="M1895.7 588.2V747.1M1803.4 667.7H1988" stroke="#2a2a2a" stroke-width="0.7" opacity="0.4" fill="none"/><circle cx="1941.8" cy="667.7" r="11" fill="url(#sg3)"/><circle cx="1849.6" cy="667.7" r="11" fill="url(#sg3)"/><circle cx="1918.8" cy="627.9" r="11" fill="url(#sg3)"/><circle cx="1872.6" cy="627.9" r="11" fill="url(#sg3)"/><circle cx="1918.8" cy="707.4" r="11" fill="url(#sg3)"/><circle cx="1872.6" cy="707.4" r="11" fill="url(#sg3)"/></g><g transform="translate(0.9,0.6)"><path d="M1895.7 614.7L1941.8 641.2M1941.8 641.2L1941.8 694.1M1941.8 694.1L1895.7 720.6M1895.7 720.6L1849.6 694.1M1849.6 694.1L1849.6 641.2M1849.6 641.2L1895.7 614.7M1895.7 614.7L1895.7 588.2M1941.8 641.2L1988 614.7M1941.8 694.1L1988 720.6M1895.7 720.6L1895.7 747.1M1849.6 694.1L1803.4 720.6M1849.6 641.2L1803.4 614.7" fill="none" stroke="#cfcfcf" stroke-width="0.9" stroke-dasharray="8.8 4.7"/></g><path d="M1895.7 614.7L1941.8 641.2M1941.8 641.2L1941.8 694.1M1941.8 694.1L1895.7 720.6M1895.7 720.6L1849.6 694.1M1849.6 694.1L1849.6 641.2M1849.6 641.2L1895.7 614.7M1895.7 614.7L1895.7 588.2M1941.8 641.2L1988 614.7M1941.8 694.1L1988 720.6M1895.7 720.6L1895.7 747.1M1849.6 694.1L1803.4 720.6M1849.6 641.2L1803.4 614.7" fill="none" stroke="#000" stroke-width="1.35" stroke-dasharray="8.8 4.7"/><rect x="831.1" y="79.5" width="183.9" height="159.1" fill="none" stroke="#262626" stroke-width="1.8"/><path d="M831.1 238.6v-2.5M831.1 79.5v2.5M923 238.6v-2.5M923 79.5v2.5M1015 238.6v-2.5M1015 79.5v2.5M831.1 79.5h2.5M1015 79.5h-2.5M831.1 159.1h2.5M1015 159.1h-2.5M831.1 238.6h2.5M1015 238.6h-2.5" stroke="#262626" stroke-width="1" fill="none"/><text x="831.1" y="264.6" font-size="18" text-anchor="middle" fill="#1a1a1a">-1</text><text x="923" y="264.6" font-size="18" text-anchor="middle" fill="#1a1a1a">0</text><text x="1015" y="264.6" font-size="18" text-anchor="middle" fill="#1a1a1a">1</text><text x="824.4" y="86.8" font-size="18" text-anchor="end" fill="#1a1a1a">1</text><text x="824.7" y="166.4" font-size="18" text-anchor="end" fill="#1a1a1a">0</text><text x="824.4" y="246.1" font-size="18" text-anchor="end" fill="#1a1a1a">-1</text><text x="923" y="291" font-size="20.7" text-anchor="middle" fill="#1a1a1a">[<tspan font-style="italic">H</tspan>, 0, 1] (r.l.u.)</text><rect x="1074.4" y="78.7" width="184.6" height="159.9" fill="none" stroke="#262626" stroke-width="1.8"/><path d="M1074.4 238.6v-2.5M1074.4 78.7v2.5M1166.7 238.6v-2.5M1166.7 78.7v2.5M1259 238.6v-2.5M1259 78.7v2.5M1074.4 78.7h2.5M1259 78.7h-2.5M1074.4 158.7h2.5M1259 158.7h-2.5M1074.4 238.6h2.5M1259 238.6h-2.5" stroke="#262626" stroke-width="1" fill="none"/><text x="1074.4" y="264.6" font-size="18" text-anchor="middle" fill="#1a1a1a">-1</text><text x="1166.7" y="264.6" font-size="18" text-anchor="middle" fill="#1a1a1a">0</text><text x="1259" y="264.6" font-size="18" text-anchor="middle" fill="#1a1a1a">1</text><text x="1067.7" y="86" font-size="18" text-anchor="end" fill="#1a1a1a">1</text><text x="1068" y="166" font-size="18" text-anchor="end" fill="#1a1a1a">0</text><text x="1067.7" y="246.1" font-size="18" text-anchor="end" fill="#1a1a1a">-1</text><text x="1166.7" y="291" font-size="20.7" text-anchor="middle" fill="#1a1a1a">[<tspan font-style="italic">H</tspan>, 0, 1] (r.l.u.)</text><text x="1168.3" y="66" font-size="19.4" text-anchor="middle" fill="#000">1.5 meV</text><rect x="1312.3" y="78.4" width="185" height="160" fill="none" stroke="#262626" stroke-width="1.8"/><path d="M1312.3 238.4v-2.5M1312.3 78.4v2.5M1404.8 238.4v-2.5M1404.8 78.4v2.5M1497.3 238.4v-2.5M1497.3 78.4v2.5M1312.3 78.4h2.5M1497.3 78.4h-2.5M1312.3 158.4h2.5M1497.3 158.4h-2.5M1312.3 238.4h2.5M1497.3 238.4h-2.5" stroke="#262626" stroke-width="1" fill="none"/><text x="1312.3" y="264.4" font-size="18" text-anchor="middle" fill="#1a1a1a">-1</text><text x="1404.8" y="264.4" font-size="18" text-anchor="middle" fill="#1a1a1a">0</text><text x="1497.3" y="264.4" font-size="18" text-anchor="middle" fill="#1a1a1a">1</text><text x="1305.6" y="85.7" font-size="18" text-anchor="end" fill="#1a1a1a">1</text><text x="1305.9" y="165.7" font-size="18" text-anchor="end" fill="#1a1a1a">0</text><text x="1305.6" y="245.9" font-size="18" text-anchor="end" fill="#1a1a1a">-1</text><text x="1404.8" y="290.8" font-size="20.7" text-anchor="middle" fill="#1a1a1a">[<tspan font-style="italic">H</tspan>, 0, 1] (r.l.u.)</text><text x="1406.4" y="66" font-size="19.4" text-anchor="middle" fill="#000">2.0 meV</text><rect x="1563.3" y="79.3" width="184.8" height="159.6" fill="none" stroke="#262626" stroke-width="1.8"/><path d="M1563.3 238.9v-2.5M1563.3 79.3v2.5M1655.7 238.9v-2.5M1655.7 79.3v2.5M1748.1 238.9v-2.5M1748.1 79.3v2.5M1563.3 79.3h2.5M1748.1 79.3h-2.5M1563.3 159.1h2.5M1748.1 159.1h-2.5M1563.3 238.9h2.5M1748.1 238.9h-2.5" stroke="#262626" stroke-width="1" fill="none"/><text x="1563.3" y="264.9" font-size="18" text-anchor="middle" fill="#1a1a1a">-1</text><text x="1655.7" y="264.9" font-size="18" text-anchor="middle" fill="#1a1a1a">0</text><text x="1748.1" y="264.9" font-size="18" text-anchor="middle" fill="#1a1a1a">1</text><text x="1556.6" y="86.6" font-size="18" text-anchor="end" fill="#1a1a1a">1</text><text x="1556.9" y="166.4" font-size="18" text-anchor="end" fill="#1a1a1a">0</text><text x="1556.6" y="246.4" font-size="18" text-anchor="end" fill="#1a1a1a">-1</text><text x="1655.7" y="291.3" font-size="20.7" text-anchor="middle" fill="#1a1a1a">[<tspan font-style="italic">H</tspan>, 0, 1] (r.l.u.)</text><text x="1657.3" y="66" font-size="19.4" text-anchor="middle" fill="#000">2.5 meV</text><rect x="1801.8" y="76.9" width="184.6" height="159.5" fill="none" stroke="#262626" stroke-width="1.8"/><path d="M1801.8 236.4v-2.5M1801.8 76.9v2.5M1894.1 236.4v-2.5M1894.1 76.9v2.5M1986.4 236.4v-2.5M1986.4 76.9v2.5M1801.8 76.9h2.5M1986.4 76.9h-2.5M1801.8 156.7h2.5M1986.4 156.7h-2.5M1801.8 236.4h2.5M1986.4 236.4h-2.5" stroke="#262626" stroke-width="1" fill="none"/><text x="1801.8" y="262.4" font-size="18" text-anchor="middle" fill="#1a1a1a">-1</text><text x="1894.1" y="262.4" font-size="18" text-anchor="middle" fill="#1a1a1a">0</text><text x="1984" y="262.4" font-size="18" text-anchor="middle" fill="#1a1a1a">1</text><text x="1795.1" y="84.2" font-size="18" text-anchor="end" fill="#1a1a1a">1</text><text x="1795.4" y="164" font-size="18" text-anchor="end" fill="#1a1a1a">0</text><text x="1795.1" y="243.9" font-size="18" text-anchor="end" fill="#1a1a1a">-1</text><text x="1894.1" y="288.8" font-size="20.7" text-anchor="middle" fill="#1a1a1a">[<tspan font-style="italic">H</tspan>, 0, 1] (r.l.u.)</text><text x="1895.7" y="66" font-size="19.4" text-anchor="middle" fill="#000">3.0 meV</text><rect x="831.1" y="334.1" width="182.9" height="158.3" fill="none" stroke="#262626" stroke-width="1.8"/><path d="M831.1 492.4v-2.5M831.1 334.1v2.5M922.5 492.4v-2.5M922.5 334.1v2.5M1014 492.4v-2.5M1014 334.1v2.5M831.1 334.1h2.5M1014 334.1h-2.5M831.1 413.2h2.5M1014 413.2h-2.5M831.1 492.4h2.5M1014 492.4h-2.5" stroke="#262626" stroke-width="1" fill="none"/><text x="831.1" y="518.4" font-size="18" text-anchor="middle" fill="#1a1a1a">-1</text><text x="922.5" y="518.4" font-size="18" text-anchor="middle" fill="#1a1a1a">0</text><text x="1014" y="518.4" font-size="18" text-anchor="middle" fill="#1a1a1a">1</text><text x="824.4" y="341.6" font-size="18" text-anchor="end" fill="#1a1a1a">1</text><text x="824.7" y="420.1" font-size="18" text-anchor="end" fill="#1a1a1a">0</text><text x="824.4" y="499.3" font-size="18" text-anchor="end" fill="#1a1a1a">-1</text><text x="922.5" y="544.8" font-size="20.7" text-anchor="middle" fill="#1a1a1a">[<tspan font-style="italic">H</tspan>, 0, 1] (r.l.u.)</text><rect x="1074.3" y="334.5" width="182.4" height="158" fill="none" stroke="#262626" stroke-width="1.8"/><path d="M1074.3 492.5v-2.5M1074.3 334.5v2.5M1165.5 492.5v-2.5M1165.5 334.5v2.5M1256.7 492.5v-2.5M1256.7 334.5v2.5M1074.3 334.5h2.5M1256.7 334.5h-2.5M1074.3 413.5h2.5M1256.7 413.5h-2.5M1074.3 492.5h2.5M1256.7 492.5h-2.5" stroke="#262626" stroke-width="1" fill="none"/><text x="1074.3" y="518.5" font-size="18" text-anchor="middle" fill="#1a1a1a">-1</text><text x="1165.5" y="518.5" font-size="18" text-anchor="middle" fill="#1a1a1a">0</text><text x="1256.7" y="518.5" font-size="18" text-anchor="middle" fill="#1a1a1a">1</text><text x="1067.6" y="342" font-size="18" text-anchor="end" fill="#1a1a1a">1</text><text x="1067.9" y="420.4" font-size="18" text-anchor="end" fill="#1a1a1a">0</text><text x="1067.6" y="499.4" font-size="18" text-anchor="end" fill="#1a1a1a">-1</text><text x="1165.5" y="544.9" font-size="20.7" text-anchor="middle" fill="#1a1a1a">[<tspan font-style="italic">H</tspan>, 0, 1] (r.l.u.)</text><rect x="1313.9" y="334" width="182.5" height="158.2" fill="none" stroke="#262626" stroke-width="1.8"/><path d="M1313.9 492.2v-2.5M1313.9 334v2.5M1405.2 492.2v-2.5M1405.2 334v2.5M1496.4 492.2v-2.5M1496.4 334v2.5M1313.9 334h2.5M1496.4 334h-2.5M1313.9 413.1h2.5M1496.4 413.1h-2.5M1313.9 492.2h2.5M1496.4 492.2h-2.5" stroke="#262626" stroke-width="1" fill="none"/><text x="1313.9" y="518.2" font-size="18" text-anchor="middle" fill="#1a1a1a">-1</text><text x="1405.2" y="518.2" font-size="18" text-anchor="middle" fill="#1a1a1a">0</text><text x="1496.4" y="518.2" font-size="18" text-anchor="middle" fill="#1a1a1a">1</text><text x="1307.2" y="341.5" font-size="18" text-anchor="end" fill="#1a1a1a">1</text><text x="1307.5" y="420" font-size="18" text-anchor="end" fill="#1a1a1a">0</text><text x="1307.2" y="499.1" font-size="18" text-anchor="end" fill="#1a1a1a">-1</text><text x="1405.2" y="544.6" font-size="20.7" text-anchor="middle" fill="#1a1a1a">[<tspan font-style="italic">H</tspan>, 0, 1] (r.l.u.)</text><rect x="1562.9" y="334.3" width="183.7" height="157.8" fill="none" stroke="#262626" stroke-width="1.8"/><path d="M1562.9 492.1v-2.5M1562.9 334.3v2.5M1654.8 492.1v-2.5M1654.8 334.3v2.5M1746.6 492.1v-2.5M1746.6 334.3v2.5M1562.9 334.3h2.5M1746.6 334.3h-2.5M1562.9 413.2h2.5M1746.6 413.2h-2.5M1562.9 492.1h2.5M1746.6 492.1h-2.5" stroke="#262626" stroke-width="1" fill="none"/><text x="1562.9" y="518.1" font-size="18" text-anchor="middle" fill="#1a1a1a">-1</text><text x="1654.8" y="518.1" font-size="18" text-anchor="middle" fill="#1a1a1a">0</text><text x="1746.6" y="518.1" font-size="18" text-anchor="middle" fill="#1a1a1a">1</text><text x="1556.2" y="341.8" font-size="18" text-anchor="end" fill="#1a1a1a">1</text><text x="1556.5" y="420.1" font-size="18" text-anchor="end" fill="#1a1a1a">0</text><text x="1556.2" y="499" font-size="18" text-anchor="end" fill="#1a1a1a">-1</text><text x="1654.8" y="544.5" font-size="20.7" text-anchor="middle" fill="#1a1a1a">[<tspan font-style="italic">H</tspan>, 0, 1] (r.l.u.)</text><rect x="1805" y="334.3" width="182.9" height="157.8" fill="none" stroke="#262626" stroke-width="1.8"/><path d="M1805 492.1v-2.5M1805 334.3v2.5M1896.5 492.1v-2.5M1896.5 334.3v2.5M1987.9 492.1v-2.5M1987.9 334.3v2.5M1805 334.3h2.5M1987.9 334.3h-2.5M1805 413.2h2.5M1987.9 413.2h-2.5M1805 492.1h2.5M1987.9 492.1h-2.5" stroke="#262626" stroke-width="1" fill="none"/><text x="1805" y="518.1" font-size="18" text-anchor="middle" fill="#1a1a1a">-1</text><text x="1896.5" y="518.1" font-size="18" text-anchor="middle" fill="#1a1a1a">0</text><text x="1984" y="518.1" font-size="18" text-anchor="middle" fill="#1a1a1a">1</text><text x="1798.3" y="341.8" font-size="18" text-anchor="end" fill="#1a1a1a">1</text><text x="1798.6" y="420.1" font-size="18" text-anchor="end" fill="#1a1a1a">0</text><text x="1798.3" y="499" font-size="18" text-anchor="end" fill="#1a1a1a">-1</text><text x="1896.5" y="544.5" font-size="20.7" text-anchor="middle" fill="#1a1a1a">[<tspan font-style="italic">H</tspan>, 0, 1] (r.l.u.)</text><rect x="829.9" y="588.9" width="186.5" height="161.1" fill="none" stroke="#262626" stroke-width="1.8"/><path d="M829.9 750v-2.5M829.9 588.9v2.5M923.1 750v-2.5M923.1 588.9v2.5M1016.4 750v-2.5M1016.4 588.9v2.5M829.9 588.9h2.5M1016.4 588.9h-2.5M829.9 669.5h2.5M1016.4 669.5h-2.5M829.9 750h2.5M1016.4 750h-2.5" stroke="#262626" stroke-width="1" fill="none"/><text x="829.9" y="776" font-size="18" text-anchor="middle" fill="#1a1a1a">-1</text><text x="923.1" y="776" font-size="18" text-anchor="middle" fill="#1a1a1a">0</text><text x="1016.4" y="776" font-size="18" text-anchor="middle" fill="#1a1a1a">1</text><text x="823.2" y="595.8" font-size="18" text-anchor="end" fill="#1a1a1a">1</text><text x="823.5" y="676.2" font-size="18" text-anchor="end" fill="#1a1a1a">0</text><text x="823.2" y="756.8" font-size="18" text-anchor="end" fill="#1a1a1a">-1</text><text x="923.1" y="802.4" font-size="20.7" text-anchor="middle" fill="#1a1a1a">[<tspan font-style="italic">H</tspan>, 0, 1] (r.l.u.)</text><rect x="1072.7" y="587.9" width="184.7" height="160" fill="none" stroke="#262626" stroke-width="1.8"/><path d="M1072.7 747.9v-2.5M1072.7 587.9v2.5M1165.1 747.9v-2.5M1165.1 587.9v2.5M1257.4 747.9v-2.5M1257.4 587.9v2.5M1072.7 587.9h2.5M1257.4 587.9h-2.5M1072.7 667.9h2.5M1257.4 667.9h-2.5M1072.7 747.9h2.5M1257.4 747.9h-2.5" stroke="#262626" stroke-width="1" fill="none"/><text x="1072.7" y="773.9" font-size="18" text-anchor="middle" fill="#1a1a1a">-1</text><text x="1165.1" y="773.9" font-size="18" text-anchor="middle" fill="#1a1a1a">0</text><text x="1257.4" y="773.9" font-size="18" text-anchor="middle" fill="#1a1a1a">1</text><text x="1066" y="594.8" font-size="18" text-anchor="end" fill="#1a1a1a">1</text><text x="1066.3" y="674.6" font-size="18" text-anchor="end" fill="#1a1a1a">0</text><text x="1066" y="754.7" font-size="18" text-anchor="end" fill="#1a1a1a">-1</text><text x="1165.1" y="800.3" font-size="20.7" text-anchor="middle" fill="#1a1a1a">[<tspan font-style="italic">H</tspan>, 0, 1] (r.l.u.)</text><rect x="1312.1" y="588.6" width="184.7" height="159.7" fill="none" stroke="#262626" stroke-width="1.8"/><path d="M1312.1 748.3v-2.5M1312.1 588.6v2.5M1404.4 748.3v-2.5M1404.4 588.6v2.5M1496.8 748.3v-2.5M1496.8 588.6v2.5M1312.1 588.6h2.5M1496.8 588.6h-2.5M1312.1 668.5h2.5M1496.8 668.5h-2.5M1312.1 748.3h2.5M1496.8 748.3h-2.5" stroke="#262626" stroke-width="1" fill="none"/><text x="1312.1" y="774.3" font-size="18" text-anchor="middle" fill="#1a1a1a">-1</text><text x="1404.4" y="774.3" font-size="18" text-anchor="middle" fill="#1a1a1a">0</text><text x="1496.8" y="774.3" font-size="18" text-anchor="middle" fill="#1a1a1a">1</text><text x="1305.4" y="595.5" font-size="18" text-anchor="end" fill="#1a1a1a">1</text><text x="1305.7" y="675.2" font-size="18" text-anchor="end" fill="#1a1a1a">0</text><text x="1305.4" y="755.1" font-size="18" text-anchor="end" fill="#1a1a1a">-1</text><text x="1404.4" y="800.7" font-size="20.7" text-anchor="middle" fill="#1a1a1a">[<tspan font-style="italic">H</tspan>, 0, 1] (r.l.u.)</text><rect x="1564.3" y="588.8" width="184.2" height="159.1" fill="none" stroke="#262626" stroke-width="1.8"/><path d="M1564.3 747.9v-2.5M1564.3 588.8v2.5M1656.4 747.9v-2.5M1656.4 588.8v2.5M1748.5 747.9v-2.5M1748.5 588.8v2.5M1564.3 588.8h2.5M1748.5 588.8h-2.5M1564.3 668.3h2.5M1748.5 668.3h-2.5M1564.3 747.9h2.5M1748.5 747.9h-2.5" stroke="#262626" stroke-width="1" fill="none"/><text x="1564.3" y="773.9" font-size="18" text-anchor="middle" fill="#1a1a1a">-1</text><text x="1656.4" y="773.9" font-size="18" text-anchor="middle" fill="#1a1a1a">0</text><text x="1748.5" y="773.9" font-size="18" text-anchor="middle" fill="#1a1a1a">1</text><text x="1557.6" y="595.7" font-size="18" text-anchor="end" fill="#1a1a1a">1</text><text x="1557.9" y="675" font-size="18" text-anchor="end" fill="#1a1a1a">0</text><text x="1557.6" y="754.7" font-size="18" text-anchor="end" fill="#1a1a1a">-1</text><text x="1656.4" y="800.3" font-size="20.7" text-anchor="middle" fill="#1a1a1a">[<tspan font-style="italic">H</tspan>, 0, 1] (r.l.u.)</text><rect x="1803.4" y="588.2" width="184.6" height="158.9" fill="none" stroke="#262626" stroke-width="1.8"/><path d="M1803.4 747.1v-2.5M1803.4 588.2v2.5M1895.7 747.1v-2.5M1895.7 588.2v2.5M1988 747.1v-2.5M1988 588.2v2.5M1803.4 588.2h2.5M1988 588.2h-2.5M1803.4 667.7h2.5M1988 667.7h-2.5M1803.4 747.1h2.5M1988 747.1h-2.5" stroke="#262626" stroke-width="1" fill="none"/><text x="1803.4" y="773.1" font-size="18" text-anchor="middle" fill="#1a1a1a">-1</text><text x="1895.7" y="773.1" font-size="18" text-anchor="middle" fill="#1a1a1a">0</text><text x="1984" y="773.1" font-size="18" text-anchor="middle" fill="#1a1a1a">1</text><text x="1796.7" y="595.1" font-size="18" text-anchor="end" fill="#1a1a1a">1</text><text x="1797" y="674.4" font-size="18" text-anchor="end" fill="#1a1a1a">0</text><text x="1796.7" y="753.9" font-size="18" text-anchor="end" fill="#1a1a1a">-1</text><text x="1895.7" y="799.5" font-size="20.7" text-anchor="middle" fill="#1a1a1a">[<tspan font-style="italic">H</tspan>, 0, 1] (r.l.u.)</text><text x="1007.3" y="230" font-size="20" text-anchor="end" fill="#000">1 meV</text><linearGradient id="virg"><stop offset="0" stop-color="#440154"/><stop offset="0.1" stop-color="#482475"/><stop offset="0.2" stop-color="#414487"/><stop offset="0.3" stop-color="#355f8d"/><stop offset="0.4" stop-color="#2a788e"/><stop offset="0.5" stop-color="#21908d"/><stop offset="0.6" stop-color="#22a884"/><stop offset="0.7" stop-color="#42be71"/><stop offset="0.8" stop-color="#7ad151"/><stop offset="0.9" stop-color="#bddf26"/><stop offset="1" stop-color="#fde725"/></linearGradient><rect x="837.4" y="51.3" width="177.6" height="12.8" fill="url(#virg)" stroke="#262626" stroke-width="0.8"/><text x="837.2" y="40.6" font-size="18" text-anchor="middle" fill="#1a1a1a">0</text><text x="908.5" y="40.6" font-size="17.5" text-anchor="middle" fill="#1a1a1a">0.2</text><text x="979.4" y="40.6" font-size="17.5" text-anchor="middle" fill="#1a1a1a">0.4</text><text x="924.8" y="14.3" font-size="19.5" text-anchor="middle" fill="#1a1a1a">Intensity (arb. units)</text><text x="782.8" y="47.6" font-size="29.2" font-weight="bold" fill="#000">f</text><text x="780" y="315.7" font-size="29.2" font-weight="bold" fill="#000">g</text><text x="780" y="566.9" font-size="29.2" font-weight="bold" fill="#000">h</text><text x="756.7" y="156.3" font-size="24" text-anchor="middle" fill="#1a1a1a" transform="rotate(-90 756.7 156.3)">Data (5 K)</text><text x="756.7" y="416.4" font-size="24" text-anchor="middle" fill="#1a1a1a" transform="rotate(-90 756.7 416.4)">Tetrahedral</text><text x="756.2" y="669.7" font-size="24" text-anchor="middle" fill="#1a1a1a" transform="rotate(-90 756.2 669.7)">Stripe + 3 domain</text><text x="798.3" y="156.5" font-size="20.9" text-anchor="middle" fill="#1a1a1a" transform="rotate(-90 798.3 156.5)">[-0.5<tspan font-style="italic">K</tspan>, <tspan font-style="italic">K</tspan>, 1] (r.l.u.)</text><text x="798.3" y="412.7" font-size="20.3" text-anchor="middle" fill="#1a1a1a" transform="rotate(-90 798.3 412.7)">[-0.5<tspan font-style="italic">K</tspan>, <tspan font-style="italic">K</tspan>, 1] (r.l.u.)</text><text x="798" y="668.6" font-size="20.3" text-anchor="middle" fill="#1a1a1a" transform="rotate(-90 798 668.6)">[-0.5<tspan font-style="italic">K</tspan>, <tspan font-style="italic">K</tspan>, 1] (r.l.u.)</text><circle cx="1775.5" cy="556" r="1.8" fill="#8a9a6a"/><path d="M62.1 59L37.7 59M62.1 59L74.4 37.8M62.1 59L74.4 80.2M137.1 59L112.7 59M137.1 59L149.4 37.8M137.1 59L149.4 80.2M212.1 59L187.7 59M212.1 59L224.4 37.8M212.1 59L224.4 80.2M287.1 59L262.7 59M287.1 59L299.4 37.8M287.1 59L299.4 80.2M99.5 124.7L75.2 124.7M99.5 124.7L111.8 103.5M99.5 124.7L111.8 145.9M174.6 124.7L150.2 124.7M174.6 124.7L186.9 103.5M174.6 124.7L186.9 145.9M249.6 124.7L225.2 124.7M249.6 124.7L261.9 103.5M249.6 124.7L261.9 145.9M324.6 124.7L300.2 124.7M324.6 124.7L336.9 103.5M324.6 124.7L336.9 145.9M137 190.3L112.6 190.3M137 190.3L149.3 169.1M137 190.3L149.3 211.5M212 190.3L187.6 190.3M212 190.3L224.3 169.1M212 190.3L224.3 211.5M287 190.3L262.6 190.3M287 190.3L299.3 169.1M287 190.3L299.3 211.5M362 190.3L337.6 190.3M362 190.3L374.3 169.1M362 190.3L374.3 211.5M174.4 256L150 256M174.4 256L186.8 234.8M174.4 256L186.8 277.2M249.4 256L225 256M249.4 256L261.8 234.8M249.4 256L261.8 277.2M324.4 256L300.1 256M324.4 256L336.8 234.8M324.4 256L336.8 277.2M399.4 256L375.1 256M399.4 256L411.8 234.8M399.4 256L411.8 277.2M137.1 102.4L112.7 102.4M137.1 102.4L149.4 80.2M137.1 102.4L149.4 123.6M212.1 102.4L187.7 102.4M212.1 102.4L224.4 80.2M212.1 102.4L224.4 123.6M287.1 102.4L262.7 102.4M287.1 102.4L299.4 80.2M287.1 102.4L299.4 123.6M174.6 168.1L149.3 169.1M174.6 168.1L186.9 145.9M174.6 168.1L186.9 189.2M249.6 168.1L224.3 169.1M249.6 168.1L261.9 145.9M249.6 168.1L261.9 189.2M324.6 168.1L299.3 169.1M324.6 168.1L336.9 145.9M324.6 168.1L336.9 189.2M212 233.7L187.6 233.7M212 233.7L224.3 212.5M212 233.7L225 256M287 233.7L262.6 233.7M287 233.7L299.3 212.5M287 233.7L300.1 256M362 233.7L337.6 233.7M362 233.7L374.3 212.5M362 233.7L375.1 256" stroke="#e08652" stroke-width="2.5" fill="none" stroke-linecap="round"/><polygon points="86.9,58.7 112.3,58.7 125,80.7 112.3,102.7 86.9,102.7 74.2,80.7" fill="#bb7c80" stroke="#3a1c20" stroke-width="0.9" stroke-linejoin="round"/><polygon points="86.9,58.7 99.6,66.1 112.3,58.7 112.3,102.7 99.6,95.3 86.9,102.7" fill="#e678de"/><polygon points="112.3,73.4 125,80.7 112.3,88" fill="#c9789a"/><polygon points="86.9,58.7 99.6,66.1 112.3,58.7" fill="#c07c8c"/><polygon points="86.9,102.7 99.6,95.3 112.3,102.7" fill="#c07c8c"/><path d="M99.6 80.7L112.3 58.7" stroke="#c4242e" stroke-width="2.6"/><path d="M99.6 80.7L112.3 102.7" stroke="#c4242e" stroke-width="2.6"/><path d="M99.6 80.7L74.2 80.7" stroke="#c4242e" stroke-width="2.6"/><path d="M99.6 80.7L86.9 58.7" stroke="#d81f5c" stroke-width="2.6"/><path d="M99.6 80.7L125 80.7" stroke="#d81f5c" stroke-width="2.6"/><path d="M99.6 80.7L86.9 102.7" stroke="#d81f5c" stroke-width="2.6"/><path d="M74.2 80.7L112.3 58.7M74.2 80.7L112.3 102.7" stroke="#2a1018" stroke-width="0.6" fill="none"/><path d="M112.3 58.7L112.3 102.7" stroke="#8a4a9a" stroke-width="0.8" fill="none"/><path d="M86.9 58.7L86.9 102.7L125 80.7Z" stroke="#1a0a10" stroke-width="0.9" fill="none" stroke-linejoin="round"/><path d="M86.9 58.7L112.3 58.7M86.9 102.7L112.3 102.7" stroke="#3a1c24" stroke-width="1.3" fill="none"/><circle cx="99.6" cy="80.7" r="5.4" fill="url(#gC)"/><polygon points="161.9,58.7 187.3,58.7 200,80.7 187.3,102.7 161.9,102.7 149.2,80.7" fill="#bb7c80" stroke="#3a1c20" stroke-width="0.9" stroke-linejoin="round"/><polygon points="161.9,58.7 174.6,66.1 187.3,58.7 187.3,102.7 174.6,95.3 161.9,102.7" fill="#e678de"/><polygon points="187.3,73.4 200,80.7 187.3,88" fill="#c9789a"/><polygon points="161.9,58.7 174.6,66.1 187.3,58.7" fill="#c07c8c"/><polygon points="161.9,102.7 174.6,95.3 187.3,102.7" fill="#c07c8c"/><path d="M174.6 80.7L187.3 58.7" stroke="#c4242e" stroke-width="2.6"/><path d="M174.6 80.7L187.3 102.7" stroke="#c4242e" stroke-width="2.6"/><path d="M174.6 80.7L149.2 80.7" stroke="#c4242e" stroke-width="2.6"/><path d="M174.6 80.7L161.9 58.7" stroke="#d81f5c" stroke-width="2.6"/><path d="M174.6 80.7L200 80.7" stroke="#d81f5c" stroke-width="2.6"/><path d="M174.6 80.7L161.9 102.7" stroke="#d81f5c" stroke-width="2.6"/><path d="M149.2 80.7L187.3 58.7M149.2 80.7L187.3 102.7" stroke="#2a1018" stroke-width="0.6" fill="none"/><path d="M187.3 58.7L187.3 102.7" stroke="#8a4a9a" stroke-width="0.8" fill="none"/><path d="M161.9 58.7L161.9 102.7L200 80.7Z" stroke="#1a0a10" stroke-width="0.9" fill="none" stroke-linejoin="round"/><path d="M161.9 58.7L187.3 58.7M161.9 102.7L187.3 102.7" stroke="#3a1c24" stroke-width="1.3" fill="none"/><circle cx="174.6" cy="80.7" r="5.4" fill="url(#gC)"/><polygon points="236.9,58.7 262.3,58.7 275,80.7 262.3,102.7 236.9,102.7 224.2,80.7" fill="#bb7c80" stroke="#3a1c20" stroke-width="0.9" stroke-linejoin="round"/><polygon points="236.9,58.7 249.6,66.1 262.3,58.7 262.3,102.7 249.6,95.3 236.9,102.7" fill="#e678de"/><polygon points="262.3,73.4 275,80.7 262.3,88" fill="#c9789a"/><polygon points="236.9,58.7 249.6,66.1 262.3,58.7" fill="#c07c8c"/><polygon points="236.9,102.7 249.6,95.3 262.3,102.7" fill="#c07c8c"/><path d="M249.6 80.7L262.3 58.7" stroke="#c4242e" stroke-width="2.6"/><path d="M249.6 80.7L262.3 102.7" stroke="#c4242e" stroke-width="2.6"/><path d="M249.6 80.7L224.2 80.7" stroke="#c4242e" stroke-width="2.6"/><path d="M249.6 80.7L236.9 58.7" stroke="#d81f5c" stroke-width="2.6"/><path d="M249.6 80.7L275 80.7" stroke="#d81f5c" stroke-width="2.6"/><path d="M249.6 80.7L236.9 102.7" stroke="#d81f5c" stroke-width="2.6"/><path d="M224.2 80.7L262.3 58.7M224.2 80.7L262.3 102.7" stroke="#2a1018" stroke-width="0.6" fill="none"/><path d="M262.3 58.7L262.3 102.7" stroke="#8a4a9a" stroke-width="0.8" fill="none"/><path d="M236.9 58.7L236.9 102.7L275 80.7Z" stroke="#1a0a10" stroke-width="0.9" fill="none" stroke-linejoin="round"/><path d="M236.9 58.7L262.3 58.7M236.9 102.7L262.3 102.7" stroke="#3a1c24" stroke-width="1.3" fill="none"/><circle cx="249.6" cy="80.7" r="5.4" fill="url(#gC)"/><polygon points="124.4,124.4 149.8,124.4 162.5,146.4 149.8,168.4 124.4,168.4 111.7,146.4" fill="#bb7c80" stroke="#3a1c20" stroke-width="0.9" stroke-linejoin="round"/><polygon points="124.4,124.4 137.1,131.7 149.8,124.4 149.8,168.4 137.1,161 124.4,168.4" fill="#e678de"/><polygon points="149.8,139.1 162.5,146.4 149.8,153.6" fill="#c9789a"/><polygon points="124.4,124.4 137.1,131.7 149.8,124.4" fill="#c07c8c"/><polygon points="124.4,168.4 137.1,161 149.8,168.4" fill="#c07c8c"/><path d="M137.1 146.4L149.8 124.4" stroke="#c4242e" stroke-width="2.6"/><path d="M137.1 146.4L149.8 168.4" stroke="#c4242e" stroke-width="2.6"/><path d="M137.1 146.4L111.7 146.4" stroke="#c4242e" stroke-width="2.6"/><path d="M137.1 146.4L124.4 124.4" stroke="#d81f5c" stroke-width="2.6"/><path d="M137.1 146.4L162.5 146.4" stroke="#d81f5c" stroke-width="2.6"/><path d="M137.1 146.4L124.4 168.4" stroke="#d81f5c" stroke-width="2.6"/><path d="M111.7 146.4L149.8 124.4M111.7 146.4L149.8 168.4" stroke="#2a1018" stroke-width="0.6" fill="none"/><path d="M149.8 124.4L149.8 168.4" stroke="#8a4a9a" stroke-width="0.8" fill="none"/><path d="M124.4 124.4L124.4 168.4L162.5 146.4Z" stroke="#1a0a10" stroke-width="0.9" fill="none" stroke-linejoin="round"/><path d="M124.4 124.4L149.8 124.4M124.4 168.4L149.8 168.4" stroke="#3a1c24" stroke-width="1.3" fill="none"/><circle cx="137.1" cy="146.4" r="5.4" fill="url(#gC)"/><polygon points="199.4,124.4 224.8,124.4 237.5,146.4 224.8,168.4 199.4,168.4 186.7,146.4" fill="#bb7c80" stroke="#3a1c20" stroke-width="0.9" stroke-linejoin="round"/><polygon points="199.4,124.4 212.1,131.7 224.8,124.4 224.8,168.4 212.1,161 199.4,168.4" fill="#e678de"/><polygon points="224.8,139.1 237.5,146.4 224.8,153.6" fill="#c9789a"/><polygon points="199.4,124.4 212.1,131.7 224.8,124.4" fill="#c07c8c"/><polygon points="199.4,168.4 212.1,161 224.8,168.4" fill="#c07c8c"/><path d="M212.1 146.4L224.8 124.4" stroke="#c4242e" stroke-width="2.6"/><path d="M212.1 146.4L224.8 168.4" stroke="#c4242e" stroke-width="2.6"/><path d="M212.1 146.4L186.7 146.4" stroke="#c4242e" stroke-width="2.6"/><path d="M212.1 146.4L199.4 124.4" stroke="#d81f5c" stroke-width="2.6"/><path d="M212.1 146.4L237.5 146.4" stroke="#d81f5c" stroke-width="2.6"/><path d="M212.1 146.4L199.4 168.4" stroke="#d81f5c" stroke-width="2.6"/><path d="M186.7 146.4L224.8 124.4M186.7 146.4L224.8 168.4" stroke="#2a1018" stroke-width="0.6" fill="none"/><path d="M224.8 124.4L224.8 168.4" stroke="#8a4a9a" stroke-width="0.8" fill="none"/><path d="M199.4 124.4L199.4 168.4L237.5 146.4Z" stroke="#1a0a10" stroke-width="0.9" fill="none" stroke-linejoin="round"/><path d="M199.4 124.4L224.8 124.4M199.4 168.4L224.8 168.4" stroke="#3a1c24" stroke-width="1.3" fill="none"/><circle cx="212.1" cy="146.4" r="5.4" fill="url(#gC)"/><polygon points="274.4,124.4 299.8,124.4 312.4,146.4 299.8,168.4 274.4,168.4 261.7,146.4" fill="#bb7c80" stroke="#3a1c20" stroke-width="0.9" stroke-linejoin="round"/><polygon points="274.4,124.4 287.1,131.7 299.8,124.4 299.8,168.4 287.1,161 274.4,168.4" fill="#e678de"/><polygon points="299.8,139.1 312.4,146.4 299.8,153.6" fill="#c9789a"/><polygon points="274.4,124.4 287.1,131.7 299.8,124.4" fill="#c07c8c"/><polygon points="274.4,168.4 287.1,161 299.8,168.4" fill="#c07c8c"/><path d="M287.1 146.4L299.8 124.4" stroke="#c4242e" stroke-width="2.6"/><path d="M287.1 146.4L299.8 168.4" stroke="#c4242e" stroke-width="2.6"/><path d="M287.1 146.4L261.7 146.4" stroke="#c4242e" stroke-width="2.6"/><path d="M287.1 146.4L274.4 124.4" stroke="#d81f5c" stroke-width="2.6"/><path d="M287.1 146.4L312.4 146.4" stroke="#d81f5c" stroke-width="2.6"/><path d="M287.1 146.4L274.4 168.4" stroke="#d81f5c" stroke-width="2.6"/><path d="M261.7 146.4L299.8 124.4M261.7 146.4L299.8 168.4" stroke="#2a1018" stroke-width="0.6" fill="none"/><path d="M299.8 124.4L299.8 168.4" stroke="#8a4a9a" stroke-width="0.8" fill="none"/><path d="M274.4 124.4L274.4 168.4L312.4 146.4Z" stroke="#1a0a10" stroke-width="0.9" fill="none" stroke-linejoin="round"/><path d="M274.4 124.4L299.8 124.4M274.4 168.4L299.8 168.4" stroke="#3a1c24" stroke-width="1.3" fill="none"/><circle cx="287.1" cy="146.4" r="5.4" fill="url(#gC)"/><polygon points="161.8,190 187.2,190 199.9,212 187.2,234 161.8,234 149.1,212" fill="#bb7c80" stroke="#3a1c20" stroke-width="0.9" stroke-linejoin="round"/><polygon points="161.8,190 174.5,197.4 187.2,190 187.2,234 174.5,226.6 161.8,234" fill="#e678de"/><polygon points="187.2,204.7 199.9,212 187.2,219.3" fill="#c9789a"/><polygon points="161.8,190 174.5,197.4 187.2,190" fill="#c07c8c"/><polygon points="161.8,234 174.5,226.6 187.2,234" fill="#c07c8c"/><path d="M174.5 212L187.2 190" stroke="#c4242e" stroke-width="2.6"/><path d="M174.5 212L187.2 234" stroke="#c4242e" stroke-width="2.6"/><path d="M174.5 212L149.1 212" stroke="#c4242e" stroke-width="2.6"/><path d="M174.5 212L161.8 190" stroke="#d81f5c" stroke-width="2.6"/><path d="M174.5 212L199.9 212" stroke="#d81f5c" stroke-width="2.6"/><path d="M174.5 212L161.8 234" stroke="#d81f5c" stroke-width="2.6"/><path d="M149.1 212L187.2 190M149.1 212L187.2 234" stroke="#2a1018" stroke-width="0.6" fill="none"/><path d="M187.2 190L187.2 234" stroke="#8a4a9a" stroke-width="0.8" fill="none"/><path d="M161.8 190L161.8 234L199.9 212Z" stroke="#1a0a10" stroke-width="0.9" fill="none" stroke-linejoin="round"/><path d="M161.8 190L187.2 190M161.8 234L187.2 234" stroke="#3a1c24" stroke-width="1.3" fill="none"/><circle cx="174.5" cy="212" r="5.4" fill="url(#gC)"/><polygon points="236.8,190 262.2,190 274.9,212 262.2,234 236.8,234 224.1,212" fill="#bb7c80" stroke="#3a1c20" stroke-width="0.9" stroke-linejoin="round"/><polygon points="236.8,190 249.5,197.4 262.2,190 262.2,234 249.5,226.6 236.8,234" fill="#e678de"/><polygon points="262.2,204.7 274.9,212 262.2,219.3" fill="#c9789a"/><polygon points="236.8,190 249.5,197.4 262.2,190" fill="#c07c8c"/><polygon points="236.8,234 249.5,226.6 262.2,234" fill="#c07c8c"/><path d="M249.5 212L262.2 190" stroke="#c4242e" stroke-width="2.6"/><path d="M249.5 212L262.2 234" stroke="#c4242e" stroke-width="2.6"/><path d="M249.5 212L224.1 212" stroke="#c4242e" stroke-width="2.6"/><path d="M249.5 212L236.8 190" stroke="#d81f5c" stroke-width="2.6"/><path d="M249.5 212L274.9 212" stroke="#d81f5c" stroke-width="2.6"/><path d="M249.5 212L236.8 234" stroke="#d81f5c" stroke-width="2.6"/><path d="M224.1 212L262.2 190M224.1 212L262.2 234" stroke="#2a1018" stroke-width="0.6" fill="none"/><path d="M262.2 190L262.2 234" stroke="#8a4a9a" stroke-width="0.8" fill="none"/><path d="M236.8 190L236.8 234L274.9 212Z" stroke="#1a0a10" stroke-width="0.9" fill="none" stroke-linejoin="round"/><path d="M236.8 190L262.2 190M236.8 234L262.2 234" stroke="#3a1c24" stroke-width="1.3" fill="none"/><circle cx="249.5" cy="212" r="5.4" fill="url(#gC)"/><polygon points="311.8,190 337.2,190 349.9,212 337.2,234 311.8,234 299.1,212" fill="#bb7c80" stroke="#3a1c20" stroke-width="0.9" stroke-linejoin="round"/><polygon points="311.8,190 324.5,197.4 337.2,190 337.2,234 324.5,226.6 311.8,234" fill="#e678de"/><polygon points="337.2,204.7 349.9,212 337.2,219.3" fill="#c9789a"/><polygon points="311.8,190 324.5,197.4 337.2,190" fill="#c07c8c"/><polygon points="311.8,234 324.5,226.6 337.2,234" fill="#c07c8c"/><path d="M324.5 212L337.2 190" stroke="#c4242e" stroke-width="2.6"/><path d="M324.5 212L337.2 234" stroke="#c4242e" stroke-width="2.6"/><path d="M324.5 212L299.1 212" stroke="#c4242e" stroke-width="2.6"/><path d="M324.5 212L311.8 190" stroke="#d81f5c" stroke-width="2.6"/><path d="M324.5 212L349.9 212" stroke="#d81f5c" stroke-width="2.6"/><path d="M324.5 212L311.8 234" stroke="#d81f5c" stroke-width="2.6"/><path d="M299.1 212L337.2 190M299.1 212L337.2 234" stroke="#2a1018" stroke-width="0.6" fill="none"/><path d="M337.2 190L337.2 234" stroke="#8a4a9a" stroke-width="0.8" fill="none"/><path d="M311.8 190L311.8 234L349.9 212Z" stroke="#1a0a10" stroke-width="0.9" fill="none" stroke-linejoin="round"/><path d="M311.8 190L337.2 190M311.8 234L337.2 234" stroke="#3a1c24" stroke-width="1.3" fill="none"/><circle cx="324.5" cy="212" r="5.4" fill="url(#gC)"/><circle cx="62.1" cy="59" r="5.8" fill="url(#gO)"/><circle cx="137.1" cy="59" r="5.8" fill="url(#gO)"/><circle cx="212.1" cy="59" r="5.8" fill="url(#gO)"/><circle cx="287.1" cy="59" r="5.8" fill="url(#gO)"/><circle cx="99.5" cy="124.7" r="5.8" fill="url(#gO)"/><circle cx="174.6" cy="124.7" r="5.8" fill="url(#gO)"/><circle cx="249.6" cy="124.7" r="5.8" fill="url(#gO)"/><circle cx="324.6" cy="124.7" r="5.8" fill="url(#gO)"/><circle cx="137" cy="190.3" r="5.8" fill="url(#gO)"/><circle cx="212" cy="190.3" r="5.8" fill="url(#gO)"/><circle cx="287" cy="190.3" r="5.8" fill="url(#gO)"/><circle cx="362" cy="190.3" r="5.8" fill="url(#gO)"/><circle cx="174.4" cy="256" r="5.8" fill="url(#gO)"/><circle cx="249.4" cy="256" r="5.8" fill="url(#gO)"/><circle cx="324.4" cy="256" r="5.8" fill="url(#gO)"/><circle cx="399.4" cy="256" r="5.8" fill="url(#gO)"/><circle cx="137.1" cy="102.4" r="5.8" fill="url(#gO)"/><circle cx="212.1" cy="102.4" r="5.8" fill="url(#gO)"/><circle cx="287.1" cy="102.4" r="5.8" fill="url(#gO)"/><circle cx="174.6" cy="168.1" r="5.8" fill="url(#gO)"/><circle cx="249.6" cy="168.1" r="5.8" fill="url(#gO)"/><circle cx="324.6" cy="168.1" r="5.8" fill="url(#gO)"/><circle cx="212" cy="233.7" r="5.8" fill="url(#gO)"/><circle cx="287" cy="233.7" r="5.8" fill="url(#gO)"/><circle cx="362" cy="233.7" r="5.8" fill="url(#gO)"/><circle cx="37.7" cy="59" r="4.6" fill="url(#gY)"/><circle cx="74.4" cy="37.8" r="4.6" fill="url(#gY)"/><circle cx="74.4" cy="80.2" r="4.6" fill="url(#gY)"/><circle cx="112.7" cy="59" r="4.6" fill="url(#gY)"/><circle cx="149.4" cy="37.8" r="4.6" fill="url(#gY)"/><circle cx="149.4" cy="80.2" r="4.6" fill="url(#gY)"/><circle cx="187.7" cy="59" r="4.6" fill="url(#gY)"/><circle cx="224.4" cy="37.8" r="4.6" fill="url(#gY)"/><circle cx="224.4" cy="80.2" r="4.6" fill="url(#gY)"/><circle cx="262.7" cy="59" r="4.6" fill="url(#gY)"/><circle cx="299.4" cy="37.8" r="4.6" fill="url(#gY)"/><circle cx="299.4" cy="80.2" r="4.6" fill="url(#gY)"/><circle cx="75.2" cy="124.7" r="4.6" fill="url(#gY)"/><circle cx="111.8" cy="103.5" r="4.6" fill="url(#gY)"/><circle cx="111.8" cy="145.9" r="4.6" fill="url(#gY)"/><circle cx="150.2" cy="124.7" r="4.6" fill="url(#gY)"/><circle cx="186.9" cy="103.5" r="4.6" fill="url(#gY)"/><circle cx="186.9" cy="145.9" r="4.6" fill="url(#gY)"/><circle cx="225.2" cy="124.7" r="4.6" fill="url(#gY)"/><circle cx="261.9" cy="103.5" r="4.6" fill="url(#gY)"/><circle cx="261.9" cy="145.9" r="4.6" fill="url(#gY)"/><circle cx="300.2" cy="124.7" r="4.6" fill="url(#gY)"/><circle cx="336.9" cy="103.5" r="4.6" fill="url(#gY)"/><circle cx="336.9" cy="145.9" r="4.6" fill="url(#gY)"/><circle cx="112.6" cy="190.3" r="4.6" fill="url(#gY)"/><circle cx="149.3" cy="169.1" r="4.6" fill="url(#gY)"/><circle cx="149.3" cy="211.5" r="4.6" fill="url(#gY)"/><circle cx="187.6" cy="190.3" r="4.6" fill="url(#gY)"/><circle cx="224.3" cy="169.1" r="4.6" fill="url(#gY)"/><circle cx="224.3" cy="211.5" r="4.6" fill="url(#gY)"/><circle cx="262.6" cy="190.3" r="4.6" fill="url(#gY)"/><circle cx="299.3" cy="169.1" r="4.6" fill="url(#gY)"/><circle cx="299.3" cy="211.5" r="4.6" fill="url(#gY)"/><circle cx="337.6" cy="190.3" r="4.6" fill="url(#gY)"/><circle cx="374.3" cy="169.1" r="4.6" fill="url(#gY)"/><circle cx="374.3" cy="211.5" r="4.6" fill="url(#gY)"/><circle cx="150" cy="256" r="4.6" fill="url(#gY)"/><circle cx="186.8" cy="234.8" r="4.6" fill="url(#gY)"/><circle cx="186.8" cy="277.2" r="4.6" fill="url(#gY)"/><circle cx="225" cy="256" r="4.6" fill="url(#gY)"/><circle cx="261.8" cy="234.8" r="4.6" fill="url(#gY)"/><circle cx="261.8" cy="277.2" r="4.6" fill="url(#gY)"/><circle cx="300.1" cy="256" r="4.6" fill="url(#gY)"/><circle cx="336.8" cy="234.8" r="4.6" fill="url(#gY)"/><circle cx="336.8" cy="277.2" r="4.6" fill="url(#gY)"/><circle cx="375.1" cy="256" r="4.6" fill="url(#gY)"/><circle cx="411.8" cy="234.8" r="4.6" fill="url(#gY)"/><circle cx="411.8" cy="277.2" r="4.6" fill="url(#gY)"/><circle cx="112.7" cy="102.4" r="4.6" fill="url(#gY)"/><circle cx="149.4" cy="123.6" r="4.6" fill="url(#gY)"/><circle cx="187.7" cy="102.4" r="4.6" fill="url(#gY)"/><circle cx="224.4" cy="123.6" r="4.6" fill="url(#gY)"/><circle cx="262.7" cy="102.4" r="4.6" fill="url(#gY)"/><circle cx="299.4" cy="123.6" r="4.6" fill="url(#gY)"/><circle cx="186.9" cy="189.2" r="4.6" fill="url(#gY)"/><circle cx="261.9" cy="189.2" r="4.6" fill="url(#gY)"/><circle cx="336.9" cy="189.2" r="4.6" fill="url(#gY)"/><circle cx="187.6" cy="233.7" r="4.6" fill="url(#gY)"/><circle cx="224.3" cy="212.5" r="4.6" fill="url(#gY)"/><circle cx="262.6" cy="233.7" r="4.6" fill="url(#gY)"/><circle cx="299.3" cy="212.5" r="4.6" fill="url(#gY)"/><circle cx="337.6" cy="233.7" r="4.6" fill="url(#gY)"/><circle cx="374.3" cy="212.5" r="4.6" fill="url(#gY)"/><circle cx="125" cy="80.7" r="4.6" fill="url(#gY)"/><circle cx="86.9" cy="58.7" r="4.6" fill="url(#gY)"/><circle cx="112.3" cy="58.7" r="4.6" fill="url(#gY)"/><circle cx="86.9" cy="102.7" r="4.6" fill="url(#gY)"/><circle cx="200" cy="80.7" r="4.6" fill="url(#gY)"/><circle cx="161.9" cy="58.7" r="4.6" fill="url(#gY)"/><circle cx="187.3" cy="58.7" r="4.6" fill="url(#gY)"/><circle cx="161.9" cy="102.7" r="4.6" fill="url(#gY)"/><circle cx="275" cy="80.7" r="4.6" fill="url(#gY)"/><circle cx="236.9" cy="58.7" r="4.6" fill="url(#gY)"/><circle cx="262.3" cy="58.7" r="4.6" fill="url(#gY)"/><circle cx="236.9" cy="102.7" r="4.6" fill="url(#gY)"/><circle cx="162.5" cy="146.4" r="4.6" fill="url(#gY)"/><circle cx="124.4" cy="124.4" r="4.6" fill="url(#gY)"/><circle cx="124.4" cy="168.4" r="4.6" fill="url(#gY)"/><circle cx="237.5" cy="146.4" r="4.6" fill="url(#gY)"/><circle cx="199.4" cy="124.4" r="4.6" fill="url(#gY)"/><circle cx="199.4" cy="168.4" r="4.6" fill="url(#gY)"/><circle cx="312.4" cy="146.4" r="4.6" fill="url(#gY)"/><circle cx="274.4" cy="124.4" r="4.6" fill="url(#gY)"/><circle cx="274.4" cy="168.4" r="4.6" fill="url(#gY)"/><circle cx="149.1" cy="212" r="4.6" fill="url(#gY)"/><circle cx="199.9" cy="212" r="4.6" fill="url(#gY)"/><circle cx="161.8" cy="190" r="4.6" fill="url(#gY)"/><circle cx="161.8" cy="234" r="4.6" fill="url(#gY)"/><circle cx="274.9" cy="212" r="4.6" fill="url(#gY)"/><circle cx="236.8" cy="190" r="4.6" fill="url(#gY)"/><circle cx="236.8" cy="234" r="4.6" fill="url(#gY)"/><circle cx="349.9" cy="212" r="4.6" fill="url(#gY)"/><circle cx="311.8" cy="190" r="4.6" fill="url(#gY)"/><circle cx="311.8" cy="234" r="4.6" fill="url(#gY)"/><circle cx="311.9" cy="102.7" r="4.6" fill="url(#gY)"/><circle cx="349.4" cy="168.3" r="4.6" fill="url(#gY)"/><circle cx="386.8" cy="234" r="4.6" fill="url(#gY)"/><circle cx="199.2" cy="255.7" r="4.6" fill="url(#gY)"/><circle cx="274.2" cy="255.7" r="4.6" fill="url(#gY)"/><circle cx="349.2" cy="255.7" r="4.6" fill="url(#gY)"/><path d="M137.3 190.4H212.3L249.3 255.4H174.3Z" fill="none" stroke="#000" stroke-width="1.5" stroke-linejoin="miter"/><path d="M175 100V190" stroke="#231815" stroke-width="2.2" fill="none"/><path d="M175 88l-6.2 13.5h12.4zM175 201l-6.2 -13.5h12.4z" fill="#231815"/><path d="M107 166C86 185 88 226 146 229" stroke="#231815" stroke-width="2.4" fill="none"/><path d="M117.5 157l-13.5 4 8.5 9.5zM156 226.5l-11.5 -6.8 -1 13.4z" fill="#231815"/><text x="147" y="116" font-size="19.5" fill="#1a1a1a">J</text><text x="157.5" y="122" font-size="12.5" fill="#1a1a1a">2</text><text x="78" y="229" font-size="19.5" fill="#1a1a1a">J</text><text x="88.5" y="235.5" font-size="12.5" fill="#1a1a1a">1</text><text x="218" y="275.8" font-size="16.5" text-anchor="middle" fill="#000">5.73 Å</text><path d="M70 271.5H108" stroke="#e60000" stroke-width="4.4"/><path d="M70 270.4H108" stroke="#ff8a8a" stroke-width="0.9"/><path d="M127 271.5l-19 -7.5v15z" fill="#e60000"/><path d="M70 271.5L50.7 237.3" stroke="#20d020" stroke-width="4.4"/><path d="M69.1 272L49.8 237.8" stroke="#a4f5a4" stroke-width="0.9"/><path d="M42 223L57.4 234.2L44.6 241.6Z" fill="#20d020"/><circle cx="70" cy="271.5" r="7" fill="#00008b"/><text x="130" y="279.5" font-size="22" fill="#000">a</text><text x="33" y="220" font-size="22" fill="#000">b</text><text x="1" y="46.8" font-size="29.2" font-weight="bold" fill="#000">a</text><path d="M91.2 326.3V386.5M122.9 326.3V386.5M154.7 326.3V386.5M186.4 326.3V386.5M218.2 326.3V386.5M250 326.3V386.5M281.7 326.3V386.5M313.5 326.3V386.5M345.2 326.3V386.5M377 326.3V386.5" stroke="#d4784a" stroke-width="3" fill="none"/><path d="M91.2 357.3L59.4 326.3M91.2 357.3L59.4 386.5M91.2 357.3L122.9 326.3M91.2 357.3L122.9 386.5M122.9 357.3L91.2 326.3M122.9 357.3L91.2 386.5M122.9 357.3L154.7 326.3M122.9 357.3L154.7 386.5M154.7 357.3L122.9 326.3M154.7 357.3L122.9 386.5M154.7 357.3L186.4 326.3M154.7 357.3L186.4 386.5M186.4 357.3L154.7 326.3M186.4 357.3L154.7 386.5M186.4 357.3L218.2 326.3M186.4 357.3L218.2 386.5M218.2 357.3L186.4 326.3M218.2 357.3L186.4 386.5M218.2 357.3L250 326.3M218.2 357.3L250 386.5M250 357.3L218.2 326.3M250 357.3L218.2 386.5M250 357.3L281.7 326.3M250 357.3L281.7 386.5M281.7 357.3L250 326.3M281.7 357.3L250 386.5M281.7 357.3L313.5 326.3M281.7 357.3L313.5 386.5M313.5 357.3L281.7 326.3M313.5 357.3L281.7 386.5M313.5 357.3L345.2 326.3M313.5 357.3L345.2 386.5M345.2 357.3L313.5 326.3M345.2 357.3L313.5 386.5M345.2 357.3L377 326.3M345.2 357.3L377 386.5M377 357.3L345.2 326.3M377 357.3L345.2 386.5M377 357.3L408.8 326.3M377 357.3L408.8 386.5" stroke="#e8875a" stroke-width="3" fill="none"/><path d="M91.2 441V502M122.9 441V502M154.7 441V502M186.4 441V502M218.2 441V502M250 441V502M281.7 441V502M313.5 441V502M345.2 441V502M377 441V502" stroke="#d4784a" stroke-width="3" fill="none"/><path d="M91.2 472.2L59.4 441M91.2 472.2L59.4 502M91.2 472.2L122.9 441M91.2 472.2L122.9 502M122.9 472.2L91.2 441M122.9 472.2L91.2 502M122.9 472.2L154.7 441M122.9 472.2L154.7 502M154.7 472.2L122.9 441M154.7 472.2L122.9 502M154.7 472.2L186.4 441M154.7 472.2L186.4 502M186.4 472.2L154.7 441M186.4 472.2L154.7 502M186.4 472.2L218.2 441M186.4 472.2L218.2 502M218.2 472.2L186.4 441M218.2 472.2L186.4 502M218.2 472.2L250 441M218.2 472.2L250 502M250 472.2L218.2 441M250 472.2L218.2 502M250 472.2L281.7 441M250 472.2L281.7 502M281.7 472.2L250 441M281.7 472.2L250 502M281.7 472.2L313.5 441M281.7 472.2L313.5 502M313.5 472.2L281.7 441M313.5 472.2L281.7 502M313.5 472.2L345.2 441M313.5 472.2L345.2 502M345.2 472.2L313.5 441M345.2 472.2L313.5 502M345.2 472.2L377 441M345.2 472.2L377 502M377 472.2L345.2 441M377 472.2L345.2 502M377 472.2L408.8 441M377 472.2L408.8 502" stroke="#e8875a" stroke-width="3" fill="none"/><rect x="89" y="387.5" width="66.2" height="53.7" fill="#c9878c" stroke="#5a3a3e" stroke-width="0.8"/><polygon points="90,387.5 122,387.5 154.2,387.5 133,441.2 111,441.2" fill="#e28a90" opacity="0.75"/><polygon points="90,441.2 154.2,441.2 133,387.5 111,387.5" fill="#e28a90" opacity="0.55"/><path d="M90 388.5L154.2 440.2M90 440.2L154.2 388.5M122 387.5V441.2" stroke="#cf2a32" stroke-width="3" fill="none"/><path d="M91 387.5L123.5 441.2M153.2 387.5L120.5 441.2" stroke="#1a0a0a" stroke-width="0.9" fill="none"/><path d="M91 441.2L123.5 387.5M153.2 441.2L120.5 387.5" stroke="#4a2a2a" stroke-width="0.5" fill="none"/><circle cx="122" cy="414.4" r="6.4" fill="url(#gR)"/><rect x="184.7" y="387.5" width="66.2" height="53.7" fill="#c9878c" stroke="#5a3a3e" stroke-width="0.8"/><polygon points="185.7,387.5 217.7,387.5 249.9,387.5 228.7,441.2 206.7,441.2" fill="#e28a90" opacity="0.75"/><polygon points="185.7,441.2 249.9,441.2 228.7,387.5 206.7,387.5" fill="#e28a90" opacity="0.55"/><path d="M185.7 388.5L249.9 440.2M185.7 440.2L249.9 388.5M217.7 387.5V441.2" stroke="#cf2a32" stroke-width="3" fill="none"/><path d="M186.7 387.5L219.2 441.2M248.9 387.5L216.2 441.2" stroke="#1a0a0a" stroke-width="0.9" fill="none"/><path d="M186.7 441.2L219.2 387.5M248.9 441.2L216.2 387.5" stroke="#4a2a2a" stroke-width="0.5" fill="none"/><circle cx="217.7" cy="414.4" r="6.4" fill="url(#gR)"/><rect x="281" y="387.5" width="66.2" height="53.7" fill="#c9878c" stroke="#5a3a3e" stroke-width="0.8"/><polygon points="282,387.5 314,387.5 346.2,387.5 325,441.2 303,441.2" fill="#e28a90" opacity="0.75"/><polygon points="282,441.2 346.2,441.2 325,387.5 303,387.5" fill="#e28a90" opacity="0.55"/><path d="M282 388.5L346.2 440.2M282 440.2L346.2 388.5M314 387.5V441.2" stroke="#cf2a32" stroke-width="3" fill="none"/><path d="M283 387.5L315.5 441.2M345.2 387.5L312.5 441.2" stroke="#1a0a0a" stroke-width="0.9" fill="none"/><path d="M283 441.2L315.5 387.5M345.2 441.2L312.5 387.5" stroke="#4a2a2a" stroke-width="0.5" fill="none"/><circle cx="314" cy="414.4" r="6.4" fill="url(#gR)"/><circle cx="91.2" cy="357.3" r="8.4" fill="url(#gO2)"/><circle cx="122.9" cy="357.3" r="8.4" fill="url(#gO2)"/><circle cx="154.7" cy="357.3" r="8.4" fill="url(#gO2)"/><circle cx="186.4" cy="357.3" r="8.4" fill="url(#gO2)"/><circle cx="218.2" cy="357.3" r="8.4" fill="url(#gO2)"/><circle cx="250" cy="357.3" r="8.4" fill="url(#gO2)"/><circle cx="281.7" cy="357.3" r="8.4" fill="url(#gO2)"/><circle cx="313.5" cy="357.3" r="8.4" fill="url(#gO2)"/><circle cx="345.2" cy="357.3" r="8.4" fill="url(#gO2)"/><circle cx="377" cy="357.3" r="8.4" fill="url(#gO2)"/><circle cx="91.2" cy="472.2" r="8.4" fill="url(#gO2)"/><circle cx="122.9" cy="472.2" r="8.4" fill="url(#gO2)"/><circle cx="154.7" cy="472.2" r="8.4" fill="url(#gO2)"/><circle cx="186.4" cy="472.2" r="8.4" fill="url(#gO2)"/><circle cx="218.2" cy="472.2" r="8.4" fill="url(#gO2)"/><circle cx="281.7" cy="472.2" r="8.4" fill="url(#gO2)"/><circle cx="313.5" cy="472.2" r="8.4" fill="url(#gO2)"/><circle cx="345.2" cy="472.2" r="8.4" fill="url(#gO2)"/><circle cx="377" cy="472.2" r="8.4" fill="url(#gO2)"/><circle cx="59.4" cy="326.3" r="6.6" fill="url(#gY)"/><circle cx="91.2" cy="326.3" r="6.6" fill="url(#gY)"/><circle cx="122.9" cy="326.3" r="6.6" fill="url(#gY)"/><circle cx="154.7" cy="326.3" r="6.6" fill="url(#gY)"/><circle cx="186.4" cy="326.3" r="6.6" fill="url(#gY)"/><circle cx="218.2" cy="326.3" r="6.6" fill="url(#gY)"/><circle cx="250" cy="326.3" r="6.6" fill="url(#gY)"/><circle cx="281.7" cy="326.3" r="6.6" fill="url(#gY)"/><circle cx="313.5" cy="326.3" r="6.6" fill="url(#gY)"/><circle cx="345.2" cy="326.3" r="6.6" fill="url(#gY)"/><circle cx="377" cy="326.3" r="6.6" fill="url(#gY)"/><circle cx="408.8" cy="326.3" r="6.6" fill="url(#gY)"/><circle cx="59.4" cy="386.5" r="6.6" fill="url(#gY)"/><circle cx="91.2" cy="386.5" r="6.6" fill="url(#gY)"/><circle cx="122.9" cy="386.5" r="6.6" fill="url(#gY)"/><circle cx="154.7" cy="386.5" r="6.6" fill="url(#gY)"/><circle cx="186.4" cy="386.5" r="6.6" fill="url(#gY)"/><circle cx="218.2" cy="386.5" r="6.6" fill="url(#gY)"/><circle cx="250" cy="386.5" r="6.6" fill="url(#gY)"/><circle cx="281.7" cy="386.5" r="6.6" fill="url(#gY)"/><circle cx="313.5" cy="386.5" r="6.6" fill="url(#gY)"/><circle cx="345.2" cy="386.5" r="6.6" fill="url(#gY)"/><circle cx="377" cy="386.5" r="6.6" fill="url(#gY)"/><circle cx="408.8" cy="386.5" r="6.6" fill="url(#gY)"/><circle cx="59.4" cy="441" r="6.6" fill="url(#gY)"/><circle cx="91.2" cy="441" r="6.6" fill="url(#gY)"/><circle cx="122.9" cy="441" r="6.6" fill="url(#gY)"/><circle cx="154.7" cy="441" r="6.6" fill="url(#gY)"/><circle cx="186.4" cy="441" r="6.6" fill="url(#gY)"/><circle cx="218.2" cy="441" r="6.6" fill="url(#gY)"/><circle cx="250" cy="441" r="6.6" fill="url(#gY)"/><circle cx="281.7" cy="441" r="6.6" fill="url(#gY)"/><circle cx="313.5" cy="441" r="6.6" fill="url(#gY)"/><circle cx="345.2" cy="441" r="6.6" fill="url(#gY)"/><circle cx="377" cy="441" r="6.6" fill="url(#gY)"/><circle cx="408.8" cy="441" r="6.6" fill="url(#gY)"/><circle cx="59.4" cy="502" r="6.6" fill="url(#gY)"/><circle cx="91.2" cy="502" r="6.6" fill="url(#gY)"/><circle cx="122.9" cy="502" r="6.6" fill="url(#gY)"/><circle cx="154.7" cy="502" r="6.6" fill="url(#gY)"/><circle cx="186.4" cy="502" r="6.6" fill="url(#gY)"/><circle cx="218.2" cy="502" r="6.6" fill="url(#gY)"/><circle cx="250" cy="502" r="6.6" fill="url(#gY)"/><circle cx="281.7" cy="502" r="6.6" fill="url(#gY)"/><circle cx="313.5" cy="502" r="6.6" fill="url(#gY)"/><circle cx="345.2" cy="502" r="6.6" fill="url(#gY)"/><circle cx="377" cy="502" r="6.6" fill="url(#gY)"/><circle cx="408.8" cy="502" r="6.6" fill="url(#gY)"/><circle cx="113.9" cy="472.3" r="13.4" fill="#fbc04e" stroke="#1a1a1a" stroke-width="1.8" stroke-dasharray="3.2 2.4"/><circle cx="256" cy="472.6" r="13.4" fill="#fbc04e" stroke="#111" stroke-width="2.2"/><text x="105.5" y="479.5" font-size="21" fill="#1a1a1a">h</text><text x="117" y="470" font-size="12" font-weight="bold" fill="#1a1a1a">+</text><text x="247.5" y="480" font-size="21" fill="#1a1a1a">h</text><text x="259" y="470.5" font-size="12" font-weight="bold" fill="#1a1a1a">+</text><path d="M96 472.5C60 470 22 462 26 440C30 418 70 417 94 416.5" stroke="#231815" stroke-width="2.2" fill="none" stroke-dasharray="3.4 3.2"/><path d="M107.5 416.5l-13.5 -5.5v11zM99 473l-12 -6v11.5z" fill="#231815"/><path d="M128 476C136 484 140 470 152 466C164 462 168 480 182 480C196 480 196 464 210 466" stroke="#231815" stroke-width="2.6" fill="none" stroke-dasharray="2.6 3.2"/><path d="M241 472.5l-30 -13.5v27z" fill="#000"/><path d="M19.5 530V489" stroke="#0000e0" stroke-width="4.2"/><path d="M18.4 530V489" stroke="#8a8aff" stroke-width="0.9"/><path d="M19.5 469.5l-7.6 19.5h15.2z" fill="#0000e0"/><path d="M22 528.3H52" stroke="#e00000" stroke-width="4.2"/><path d="M22 527.2H52" stroke="#ff8a8a" stroke-width="0.9"/><path d="M70 528.3l-19 -7.4v14.8z" fill="#e00000"/><circle cx="19.5" cy="528.3" r="6.6" fill="url(#gW)"/><text x="73" y="535.5" font-size="22" fill="#1a1a1a">a</text><text x="13.5" y="465.5" font-size="22" fill="#1a1a1a">c</text><text x="1" y="317.9" font-size="29.2" font-weight="bold" fill="#000">b</text><g shape-rendering="crispEdges"><path d="M289.73 630.49h4.58v2.27h-4.58zM289.73 628.22h6.88v2.27h-6.88zM292.02 625.96h6.88v2.27h-6.88zM294.32 623.69h9.17v2.27h-9.17zM296.61 621.42h9.17v2.27h-9.17z" fill="#000004"/><path d="M292.02 623.69h2.29v2.27h-2.29zM301.19 619.16h4.58v2.27h-4.58z" fill="#080418"/><path d="M287.44 635.02h2.29v2.27h-2.29zM287.44 632.75h4.58v2.27h-4.58zM289.73 625.96h2.29v2.27h-2.29zM298.9 625.96h2.29v2.27h-2.29zM294.32 621.42h2.29v2.27h-2.29zM305.77 621.42h2.29v2.27h-2.29zM298.9 619.16h2.29v2.27h-2.29zM305.77 619.16h2.29v2.27h-2.29z" fill="#10082b"/><path d="M360.77 664.48h2.29v2.27h-2.29zM360.77 662.22h2.29v2.27h-2.29zM360.77 659.95h2.29v2.27h-2.29zM360.77 657.68h2.29v2.27h-2.29zM285.15 637.29h2.29v2.27h-2.29zM285.15 635.02h2.29v2.27h-2.29zM287.44 630.49h2.29v2.27h-2.29z" fill="#1b0b3e"/><path d="M310.36 696.21h9.17v2.27h-9.17zM363.07 659.95h2.29v2.27h-2.29zM363.07 657.68h2.29v2.27h-2.29zM360.77 655.42h4.58v2.27h-4.58zM360.77 650.88h2.29v2.27h-2.29zM280.57 644.09h2.29v2.27h-2.29zM282.86 641.82h2.29v2.27h-2.29zM282.86 639.55h2.29v2.27h-2.29zM287.44 637.29h2.29v2.27h-2.29zM296.61 628.22h2.29v2.27h-2.29zM303.48 623.69h2.29v2.27h-2.29zM308.07 621.42h2.29v2.27h-2.29zM308.07 619.16h2.29v2.27h-2.29z" fill="#2b0b50"/><path d="M312.65 698.48h2.29v2.27h-2.29zM303.48 696.21h6.88v2.27h-6.88zM319.52 696.21h4.58v2.27h-4.58zM356.19 673.55h2.29v2.27h-2.29zM358.48 669.01h2.29v2.27h-2.29zM358.48 666.75h4.58v2.27h-4.58zM363.07 662.22h2.29v2.27h-2.29zM360.77 653.15h2.29v2.27h-2.29zM358.48 648.62h2.29v2.27h-2.29zM280.57 641.82h2.29v2.27h-2.29zM285.15 639.55h2.29v2.27h-2.29zM289.73 635.02h2.29v2.27h-2.29zM285.15 632.75h2.29v2.27h-2.29zM294.32 630.49h2.29v2.27h-2.29zM287.44 628.22h2.29v2.27h-2.29zM310.36 621.42h2.29v2.27h-2.29zM296.61 619.16h2.29v2.27h-2.29zM310.36 619.16h2.29v2.27h-2.29z" fill="#3b0a61"/><path d="M308.07 698.48h4.58v2.27h-4.58zM314.94 698.48h9.17v2.27h-9.17zM298.9 696.21h4.58v2.27h-4.58zM324.11 696.21h4.58v2.27h-4.58zM356.19 671.28h4.58v2.27h-4.58zM356.19 669.01h2.29v2.27h-2.29zM360.77 669.01h2.29v2.27h-2.29zM358.48 664.48h2.29v2.27h-2.29zM363.07 664.48h2.29v2.27h-2.29zM358.48 662.22h2.29v2.27h-2.29zM358.48 653.15h2.29v2.27h-2.29zM363.07 653.15h2.29v2.27h-2.29zM278.27 650.88h2.29v2.27h-2.29zM358.48 650.88h2.29v2.27h-2.29zM278.27 648.62h4.58v2.27h-4.58zM360.77 648.62h2.29v2.27h-2.29zM278.27 646.35h4.58v2.27h-4.58zM358.48 646.35h2.29v2.27h-2.29zM282.86 644.09h2.29v2.27h-2.29zM356.19 644.09h2.29v2.27h-2.29zM285.15 641.82h2.29v2.27h-2.29zM287.44 639.55h2.29v2.27h-2.29zM282.86 637.29h2.29v2.27h-2.29zM292.02 632.75h2.29v2.27h-2.29zM305.77 623.69h2.29v2.27h-2.29zM312.65 621.42h2.29v2.27h-2.29zM312.65 619.16h4.58v2.27h-4.58z" fill="#4b0d69"/><path d="M303.48 698.48h4.58v2.27h-4.58zM324.11 698.48h4.58v2.27h-4.58zM330.98 698.48h2.29v2.27h-2.29zM328.69 696.21h9.17v2.27h-9.17zM296.61 693.94h9.17v2.27h-9.17zM310.36 693.94h13.75v2.27h-13.75zM294.32 691.68h4.58v2.27h-4.58zM351.61 680.35h2.29v2.27h-2.29zM353.9 678.08h2.29v2.27h-2.29zM353.9 675.81h4.58v2.27h-4.58zM353.9 673.55h2.29v2.27h-2.29zM358.48 673.55h2.29v2.27h-2.29zM363.07 666.75h2.29v2.27h-2.29zM358.48 659.95h2.29v2.27h-2.29zM358.48 657.68h2.29v2.27h-2.29zM358.48 655.42h2.29v2.27h-2.29zM275.98 653.15h4.58v2.27h-4.58zM275.98 650.88h2.29v2.27h-2.29zM356.19 646.35h2.29v2.27h-2.29zM360.77 646.35h2.29v2.27h-2.29zM278.27 644.09h2.29v2.27h-2.29zM358.48 644.09h2.29v2.27h-2.29zM356.19 641.82h2.29v2.27h-2.29zM280.57 639.55h2.29v2.27h-2.29zM292.02 621.42h2.29v2.27h-2.29zM314.94 621.42h4.58v2.27h-4.58zM317.23 619.16h4.58v2.27h-4.58z" fill="#5a126c"/><path d="M328.69 698.48h2.29v2.27h-2.29zM333.27 698.48h2.29v2.27h-2.29zM296.61 696.21h2.29v2.27h-2.29zM337.86 696.21h2.29v2.27h-2.29zM294.32 693.94h2.29v2.27h-2.29zM305.77 693.94h4.58v2.27h-4.58zM324.11 693.94h2.29v2.27h-2.29zM335.57 693.94h6.88v2.27h-6.88zM292.02 691.68h2.29v2.27h-2.29zM298.9 691.68h2.29v2.27h-2.29zM342.44 691.68h2.29v2.27h-2.29zM292.02 689.41h4.58v2.27h-4.58zM292.02 687.14h2.29v2.27h-2.29zM347.02 687.14h2.29v2.27h-2.29zM289.73 684.88h2.29v2.27h-2.29zM349.32 684.88h2.29v2.27h-2.29zM287.44 682.61h2.29v2.27h-2.29zM349.32 682.61h4.58v2.27h-4.58zM285.15 680.35h4.58v2.27h-4.58zM353.9 680.35h2.29v2.27h-2.29zM285.15 678.08h2.29v2.27h-2.29zM351.61 678.08h2.29v2.27h-2.29zM282.86 675.81h4.58v2.27h-4.58zM351.61 675.81h2.29v2.27h-2.29zM282.86 673.55h2.29v2.27h-2.29zM280.57 671.28h2.29v2.27h-2.29zM360.77 671.28h2.29v2.27h-2.29zM278.27 669.01h2.29v2.27h-2.29zM278.27 666.75h2.29v2.27h-2.29zM356.19 666.75h2.29v2.27h-2.29zM275.98 664.48h4.58v2.27h-4.58zM275.98 662.22h2.29v2.27h-2.29zM275.98 659.95h2.29v2.27h-2.29zM365.36 659.95h2.29v2.27h-2.29zM275.98 657.68h2.29v2.27h-2.29zM365.36 657.68h2.29v2.27h-2.29zM275.98 655.42h4.58v2.27h-4.58zM363.07 650.88h2.29v2.27h-2.29zM275.98 648.62h2.29v2.27h-2.29zM356.19 648.62h2.29v2.27h-2.29zM353.9 644.09h2.29v2.27h-2.29zM353.9 641.82h2.29v2.27h-2.29zM353.9 639.55h2.29v2.27h-2.29zM289.73 637.29h2.29v2.27h-2.29zM351.61 637.29h2.29v2.27h-2.29zM282.86 635.02h2.29v2.27h-2.29zM351.61 635.02h2.29v2.27h-2.29zM285.15 630.49h2.29v2.27h-2.29zM301.19 625.96h2.29v2.27h-2.29zM289.73 623.69h2.29v2.27h-2.29zM308.07 623.69h2.29v2.27h-2.29zM340.15 623.69h4.58v2.27h-4.58zM319.52 621.42h9.17v2.27h-9.17zM335.57 621.42h2.29v2.27h-2.29zM321.82 619.16h11.46v2.27h-11.46zM303.48 616.89h9.17v2.27h-9.17z" fill="#69176e"/><path d="M312.65 700.74h2.29v2.27h-2.29zM301.19 698.48h2.29v2.27h-2.29zM335.57 698.48h2.29v2.27h-2.29zM340.15 696.21h2.29v2.27h-2.29zM326.4 693.94h9.17v2.27h-9.17zM342.44 693.94h2.29v2.27h-2.29zM340.15 691.68h2.29v2.27h-2.29zM344.73 691.68h2.29v2.27h-2.29zM289.73 689.41h2.29v2.27h-2.29zM344.73 689.41h4.58v2.27h-4.58zM289.73 687.14h2.29v2.27h-2.29zM287.44 684.88h2.29v2.27h-2.29zM285.15 682.61h2.29v2.27h-2.29zM349.32 680.35h2.29v2.27h-2.29zM282.86 678.08h2.29v2.27h-2.29zM287.44 678.08h2.29v2.27h-2.29zM356.19 678.08h2.29v2.27h-2.29zM280.57 673.55h2.29v2.27h-2.29zM278.27 671.28h2.29v2.27h-2.29zM353.9 671.28h2.29v2.27h-2.29zM280.57 669.01h2.29v2.27h-2.29zM275.98 666.75h2.29v2.27h-2.29zM280.57 666.75h2.29v2.27h-2.29zM278.27 662.22h2.29v2.27h-2.29zM365.36 662.22h2.29v2.27h-2.29zM278.27 657.68h2.29v2.27h-2.29zM273.69 655.42h2.29v2.27h-2.29zM365.36 655.42h2.29v2.27h-2.29zM280.57 650.88h2.29v2.27h-2.29zM363.07 648.62h2.29v2.27h-2.29zM282.86 646.35h2.29v2.27h-2.29zM285.15 644.09h2.29v2.27h-2.29zM358.48 641.82h2.29v2.27h-2.29zM351.61 639.55h2.29v2.27h-2.29zM356.19 639.55h2.29v2.27h-2.29zM353.9 637.29h2.29v2.27h-2.29zM292.02 635.02h2.29v2.27h-2.29zM344.73 628.22h2.29v2.27h-2.29zM287.44 625.96h2.29v2.27h-2.29zM342.44 625.96h4.58v2.27h-4.58zM310.36 623.69h2.29v2.27h-2.29zM328.69 621.42h6.87v2.27h-6.87zM337.86 621.42h4.58v2.27h-4.58zM333.27 619.16h4.58v2.27h-4.58zM301.19 616.89h2.29v2.27h-2.29zM312.65 616.89h4.58v2.27h-4.58z" fill="#781c6c"/><path d="M308.07 700.74h4.58v2.27h-4.58zM314.94 700.74h4.58v2.27h-4.58zM321.82 700.74h4.58v2.27h-4.58zM298.9 698.48h2.29v2.27h-2.29zM344.73 693.94h2.29v2.27h-2.29zM301.19 691.68h2.29v2.27h-2.29zM337.86 691.68h2.29v2.27h-2.29zM347.02 691.68h2.29v2.27h-2.29zM296.61 689.41h2.29v2.27h-2.29zM342.44 689.41h2.29v2.27h-2.29zM287.44 687.14h2.29v2.27h-2.29zM294.32 687.14h2.29v2.27h-2.29zM344.73 687.14h2.29v2.27h-2.29zM349.32 687.14h2.29v2.27h-2.29zM292.02 684.88h2.29v2.27h-2.29zM347.02 684.88h2.29v2.27h-2.29zM351.61 684.88h2.29v2.27h-2.29zM289.73 682.61h2.29v2.27h-2.29zM347.02 682.61h2.29v2.27h-2.29zM353.9 682.61h2.29v2.27h-2.29zM282.86 680.35h2.29v2.27h-2.29zM349.32 678.08h2.29v2.27h-2.29zM280.57 675.81h2.29v2.27h-2.29zM358.48 675.81h2.29v2.27h-2.29zM285.15 673.55h2.29v2.27h-2.29zM351.61 673.55h2.29v2.27h-2.29zM282.86 671.28h2.29v2.27h-2.29zM275.98 669.01h2.29v2.27h-2.29zM363.07 669.01h2.29v2.27h-2.29zM273.69 662.22h2.29v2.27h-2.29zM273.69 659.95h2.29v2.27h-2.29zM278.27 659.95h2.29v2.27h-2.29zM273.69 657.68h2.29v2.27h-2.29zM273.69 653.15h2.29v2.27h-2.29zM356.19 650.88h2.29v2.27h-2.29zM275.98 646.35h2.29v2.27h-2.29zM353.9 646.35h2.29v2.27h-2.29zM360.77 644.09h2.29v2.27h-2.29zM278.27 641.82h2.29v2.27h-2.29zM287.44 641.82h2.29v2.27h-2.29zM351.61 641.82h2.29v2.27h-2.29zM280.57 637.29h2.29v2.27h-2.29zM349.32 635.02h2.29v2.27h-2.29zM353.9 635.02h2.29v2.27h-2.29zM282.86 632.75h2.29v2.27h-2.29zM349.32 632.75h4.58v2.27h-4.58zM347.02 630.49h4.58v2.27h-4.58zM347.02 628.22h2.29v2.27h-2.29zM312.65 623.69h2.29v2.27h-2.29zM337.86 623.69h2.29v2.27h-2.29zM344.73 623.69h2.29v2.27h-2.29zM294.32 619.16h2.29v2.27h-2.29zM337.86 619.16h2.29v2.27h-2.29zM317.23 616.89h2.29v2.27h-2.29zM321.82 616.89h4.58v2.27h-4.58zM328.69 616.89h2.29v2.27h-2.29z" fill="#872269"/><path d="M305.77 700.74h2.29v2.27h-2.29zM319.52 700.74h2.29v2.27h-2.29zM328.69 700.74h2.29v2.27h-2.29zM337.86 698.48h2.29v2.27h-2.29zM294.32 696.21h2.29v2.27h-2.29zM342.44 696.21h2.29v2.27h-2.29zM292.02 693.94h2.29v2.27h-2.29zM289.73 691.68h2.29v2.27h-2.29zM303.48 691.68h2.29v2.27h-2.29zM335.57 691.68h2.29v2.27h-2.29zM349.32 689.41h2.29v2.27h-2.29zM285.15 684.88h2.29v2.27h-2.29zM289.73 680.35h2.29v2.27h-2.29zM280.57 678.08h2.29v2.27h-2.29zM278.27 673.55h2.29v2.27h-2.29zM360.77 673.55h2.29v2.27h-2.29zM282.86 669.01h2.29v2.27h-2.29zM353.9 669.01h2.29v2.27h-2.29zM273.69 664.48h2.29v2.27h-2.29zM280.57 664.48h2.29v2.27h-2.29zM356.19 664.48h2.29v2.27h-2.29zM365.36 664.48h2.29v2.27h-2.29zM356.19 662.22h2.29v2.27h-2.29zM280.57 653.15h2.29v2.27h-2.29zM356.19 653.15h2.29v2.27h-2.29zM365.36 653.15h2.29v2.27h-2.29zM273.69 650.88h2.29v2.27h-2.29zM365.36 650.88h2.29v2.27h-2.29zM273.69 648.62h2.29v2.27h-2.29zM282.86 648.62h2.29v2.27h-2.29zM289.73 639.55h2.29v2.27h-2.29zM349.32 637.29h2.29v2.27h-2.29zM356.19 637.29h2.29v2.27h-2.29zM294.32 632.75h2.29v2.27h-2.29zM347.02 632.75h2.29v2.27h-2.29zM344.73 630.49h2.29v2.27h-2.29zM285.15 628.22h2.29v2.27h-2.29zM298.9 628.22h2.29v2.27h-2.29zM342.44 628.22h2.29v2.27h-2.29zM349.32 628.22h2.29v2.27h-2.29zM303.48 625.96h2.29v2.27h-2.29zM340.15 625.96h2.29v2.27h-2.29zM347.02 625.96h2.29v2.27h-2.29zM314.94 623.69h9.17v2.27h-9.17zM335.57 623.69h2.29v2.27h-2.29zM342.44 621.42h2.29v2.27h-2.29zM340.15 619.16h2.29v2.27h-2.29zM298.9 616.89h2.29v2.27h-2.29zM319.52 616.89h2.29v2.27h-2.29zM326.4 616.89h2.29v2.27h-2.29zM330.98 616.89h4.58v2.27h-4.58z" fill="#962766"/><path d="M303.48 700.74h2.29v2.27h-2.29zM326.4 700.74h2.29v2.27h-2.29zM330.98 700.74h4.58v2.27h-4.58zM296.61 698.48h2.29v2.27h-2.29zM340.15 698.48h2.29v2.27h-2.29zM305.77 691.68h2.29v2.27h-2.29zM310.36 691.68h11.46v2.27h-11.46zM287.44 689.41h2.29v2.27h-2.29zM298.9 689.41h2.29v2.27h-2.29zM340.15 689.41h2.29v2.27h-2.29zM351.61 687.14h2.29v2.27h-2.29zM344.73 684.88h2.29v2.27h-2.29zM282.86 682.61h2.29v2.27h-2.29zM347.02 680.35h2.29v2.27h-2.29zM356.19 680.35h2.29v2.27h-2.29zM278.27 675.81h2.29v2.27h-2.29zM287.44 675.81h2.29v2.27h-2.29zM275.98 671.28h2.29v2.27h-2.29zM285.15 671.28h2.29v2.27h-2.29zM351.61 671.28h2.29v2.27h-2.29zM273.69 666.75h2.29v2.27h-2.29zM280.57 662.22h2.29v2.27h-2.29zM356.19 659.95h2.29v2.27h-2.29zM356.19 657.68h2.29v2.27h-2.29zM280.57 655.42h2.29v2.27h-2.29zM356.19 655.42h2.29v2.27h-2.29zM353.9 648.62h2.29v2.27h-2.29zM285.15 646.35h2.29v2.27h-2.29zM363.07 646.35h2.29v2.27h-2.29zM275.98 644.09h2.29v2.27h-2.29zM351.61 644.09h2.29v2.27h-2.29zM360.77 641.82h2.29v2.27h-2.29zM278.27 639.55h2.29v2.27h-2.29zM349.32 639.55h2.29v2.27h-2.29zM358.48 639.55h2.29v2.27h-2.29zM292.02 637.29h2.29v2.27h-2.29zM280.57 635.02h2.29v2.27h-2.29zM296.61 630.49h2.29v2.27h-2.29zM351.61 630.49h2.29v2.27h-2.29zM349.32 625.96h2.29v2.27h-2.29zM324.11 623.69h11.46v2.27h-11.46zM347.02 623.69h2.29v2.27h-2.29zM344.73 621.42h2.29v2.27h-2.29zM335.57 616.89h2.29v2.27h-2.29z" fill="#a52e5f"/><path d="M301.19 700.74h2.29v2.27h-2.29zM335.57 700.74h2.29v2.27h-2.29zM344.73 696.21h2.29v2.27h-2.29zM289.73 693.94h2.29v2.27h-2.29zM347.02 693.94h2.29v2.27h-2.29zM308.07 691.68h2.29v2.27h-2.29zM321.82 691.68h13.75v2.27h-13.75zM285.15 687.14h2.29v2.27h-2.29zM296.61 687.14h2.29v2.27h-2.29zM342.44 687.14h2.29v2.27h-2.29zM294.32 684.88h2.29v2.27h-2.29zM353.9 684.88h2.29v2.27h-2.29zM292.02 682.61h2.29v2.27h-2.29zM280.57 680.35h2.29v2.27h-2.29zM289.73 678.08h2.29v2.27h-2.29zM358.48 678.08h2.29v2.27h-2.29zM349.32 675.81h2.29v2.27h-2.29zM363.07 671.28h2.29v2.27h-2.29zM273.69 669.01h2.29v2.27h-2.29zM282.86 666.75h2.29v2.27h-2.29zM353.9 666.75h2.29v2.27h-2.29zM365.36 666.75h2.29v2.27h-2.29zM271.4 662.22h2.29v2.27h-2.29zM271.4 659.95h2.29v2.27h-2.29zM280.57 659.95h2.29v2.27h-2.29zM367.65 659.95h2.29v2.27h-2.29zM271.4 657.68h2.29v2.27h-2.29zM280.57 657.68h2.29v2.27h-2.29zM271.4 655.42h2.29v2.27h-2.29zM282.86 650.88h2.29v2.27h-2.29zM273.69 646.35h2.29v2.27h-2.29zM287.44 644.09h2.29v2.27h-2.29zM349.32 641.82h2.29v2.27h-2.29zM347.02 635.02h2.29v2.27h-2.29zM356.19 635.02h2.29v2.27h-2.29zM344.73 632.75h2.29v2.27h-2.29zM353.9 632.75h2.29v2.27h-2.29zM282.86 630.49h2.29v2.27h-2.29zM305.77 625.96h2.29v2.27h-2.29zM337.86 625.96h2.29v2.27h-2.29zM287.44 623.69h2.29v2.27h-2.29zM289.73 621.42h2.29v2.27h-2.29zM342.44 619.16h2.29v2.27h-2.29zM296.61 616.89h2.29v2.27h-2.29zM305.77 614.62h6.88v2.27h-6.88z" fill="#b43458"/><path d="M342.44 698.48h2.29v2.27h-2.29zM292.02 696.21h2.29v2.27h-2.29zM287.44 691.68h2.29v2.27h-2.29zM349.32 691.68h2.29v2.27h-2.29zM337.86 689.41h2.29v2.27h-2.29zM351.61 689.41h2.29v2.27h-2.29zM282.86 684.88h2.29v2.27h-2.29zM344.73 682.61h2.29v2.27h-2.29zM356.19 682.61h2.29v2.27h-2.29zM292.02 680.35h2.29v2.27h-2.29zM347.02 678.08h2.29v2.27h-2.29zM360.77 675.81h2.29v2.27h-2.29zM275.98 673.55h2.29v2.27h-2.29zM287.44 673.55h2.29v2.27h-2.29zM349.32 673.55h2.29v2.27h-2.29zM367.65 662.22h2.29v2.27h-2.29zM367.65 657.68h2.29v2.27h-2.29zM367.65 655.42h2.29v2.27h-2.29zM271.4 653.15h2.29v2.27h-2.29zM353.9 650.88h2.29v2.27h-2.29zM285.15 648.62h2.29v2.27h-2.29zM365.36 648.62h2.29v2.27h-2.29zM351.61 646.35h2.29v2.27h-2.29zM275.98 641.82h2.29v2.27h-2.29zM289.73 641.82h2.29v2.27h-2.29zM347.02 637.29h2.29v2.27h-2.29zM358.48 637.29h2.29v2.27h-2.29zM342.44 630.49h2.29v2.27h-2.29zM353.9 630.49h2.29v2.27h-2.29zM301.19 628.22h2.29v2.27h-2.29zM340.15 628.22h2.29v2.27h-2.29zM351.61 628.22h2.29v2.27h-2.29zM285.15 625.96h2.29v2.27h-2.29zM308.07 625.96h4.58v2.27h-4.58zM335.57 625.96h2.29v2.27h-2.29zM292.02 619.16h2.29v2.27h-2.29zM337.86 616.89h2.29v2.27h-2.29zM303.48 614.62h2.29v2.27h-2.29zM312.65 614.62h4.58v2.27h-4.58zM319.52 614.62h6.88v2.27h-6.88zM328.69 614.62h2.29v2.27h-2.29z" fill="#c23c4f"/><path d="M312.65 703.01h4.58v2.27h-4.58zM324.11 703.01h4.58v2.27h-4.58zM298.9 700.74h2.29v2.27h-2.29zM337.86 700.74h2.29v2.27h-2.29zM294.32 698.48h2.29v2.27h-2.29zM285.15 689.41h2.29v2.27h-2.29zM301.19 689.41h2.29v2.27h-2.29zM335.57 689.41h2.29v2.27h-2.29zM340.15 687.14h2.29v2.27h-2.29zM353.9 687.14h2.29v2.27h-2.29zM342.44 684.88h2.29v2.27h-2.29zM358.48 680.35h2.29v2.27h-2.29zM278.27 678.08h2.29v2.27h-2.29zM289.73 675.81h2.29v2.27h-2.29zM363.07 673.55h2.29v2.27h-2.29zM273.69 671.28h2.29v2.27h-2.29zM285.15 669.01h2.29v2.27h-2.29zM365.36 669.01h2.29v2.27h-2.29zM271.4 664.48h2.29v2.27h-2.29zM282.86 664.48h2.29v2.27h-2.29zM353.9 664.48h2.29v2.27h-2.29zM367.65 664.48h2.29v2.27h-2.29zM282.86 653.15h2.29v2.27h-2.29zM367.65 653.15h2.29v2.27h-2.29zM271.4 650.88h2.29v2.27h-2.29zM365.36 646.35h2.29v2.27h-2.29zM363.07 644.09h2.29v2.27h-2.29zM275.98 639.55h2.29v2.27h-2.29zM278.27 637.29h2.29v2.27h-2.29zM294.32 635.02h2.29v2.27h-2.29zM280.57 632.75h2.29v2.27h-2.29zM296.61 632.75h2.29v2.27h-2.29zM356.19 632.75h2.29v2.27h-2.29zM282.86 628.22h2.29v2.27h-2.29zM312.65 625.96h2.29v2.27h-2.29zM317.23 625.96h6.88v2.27h-6.88zM349.32 623.69h2.29v2.27h-2.29zM347.02 621.42h2.29v2.27h-2.29zM294.32 616.89h2.29v2.27h-2.29zM340.15 616.89h2.29v2.27h-2.29zM301.19 614.62h2.29v2.27h-2.29zM317.23 614.62h2.29v2.27h-2.29zM326.4 614.62h2.29v2.27h-2.29zM330.98 614.62h2.29v2.27h-2.29z" fill="#ce4546"/><path d="M303.48 703.01h9.17v2.27h-9.17zM317.23 703.01h6.88v2.27h-6.88zM328.69 703.01h4.58v2.27h-4.58zM340.15 700.74h2.29v2.27h-2.29zM347.02 696.21h2.29v2.27h-2.29zM349.32 693.94h2.29v2.27h-2.29zM351.61 691.68h2.29v2.27h-2.29zM303.48 689.41h2.29v2.27h-2.29zM312.65 689.41h2.29v2.27h-2.29zM317.23 689.41h2.29v2.27h-2.29zM282.86 687.14h2.29v2.27h-2.29zM298.9 687.14h2.29v2.27h-2.29zM296.61 684.88h2.29v2.27h-2.29zM356.19 684.88h2.29v2.27h-2.29zM280.57 682.61h2.29v2.27h-2.29zM294.32 682.61h2.29v2.27h-2.29zM292.02 678.08h2.29v2.27h-2.29zM360.77 678.08h2.29v2.27h-2.29zM275.98 675.81h2.29v2.27h-2.29zM347.02 675.81h2.29v2.27h-2.29zM287.44 671.28h2.29v2.27h-2.29zM351.61 669.01h2.29v2.27h-2.29zM271.4 666.75h2.29v2.27h-2.29zM282.86 662.22h2.29v2.27h-2.29zM353.9 662.22h2.29v2.27h-2.29zM353.9 653.15h2.29v2.27h-2.29zM367.65 650.88h2.29v2.27h-2.29zM271.4 648.62h2.29v2.27h-2.29zM287.44 646.35h2.29v2.27h-2.29zM273.69 644.09h2.29v2.27h-2.29zM349.32 644.09h2.29v2.27h-2.29zM292.02 639.55h2.29v2.27h-2.29zM347.02 639.55h2.29v2.27h-2.29zM360.77 639.55h2.29v2.27h-2.29zM344.73 635.02h2.29v2.27h-2.29zM358.48 635.02h2.29v2.27h-2.29zM342.44 632.75h2.29v2.27h-2.29zM298.9 630.49h2.29v2.27h-2.29zM337.86 628.22h2.29v2.27h-2.29zM314.94 625.96h2.29v2.27h-2.29zM324.11 625.96h11.46v2.27h-11.46zM351.61 625.96h2.29v2.27h-2.29zM344.73 619.16h2.29v2.27h-2.29zM342.44 616.89h2.29v2.27h-2.29zM333.27 614.62h4.58v2.27h-4.58z" fill="#db4f3c"/><path d="M301.19 703.01h2.29v2.27h-2.29zM333.27 703.01h4.58v2.27h-4.58zM296.61 700.74h2.29v2.27h-2.29zM342.44 700.74h2.29v2.27h-2.29zM292.02 698.48h2.29v2.27h-2.29zM344.73 698.48h2.29v2.27h-2.29zM289.73 696.21h2.29v2.27h-2.29zM287.44 693.94h2.29v2.27h-2.29zM305.77 689.41h4.58v2.27h-4.58zM314.94 689.41h2.29v2.27h-2.29zM319.52 689.41h16.04v2.27h-16.04zM353.9 689.41h2.29v2.27h-2.29zM337.86 687.14h2.29v2.27h-2.29zM342.44 682.61h2.29v2.27h-2.29zM358.48 682.61h2.29v2.27h-2.29zM278.27 680.35h2.29v2.27h-2.29zM294.32 680.35h2.29v2.27h-2.29zM344.73 680.35h2.29v2.27h-2.29zM289.73 673.55h2.29v2.27h-2.29zM349.32 671.28h2.29v2.27h-2.29zM365.36 671.28h2.29v2.27h-2.29zM285.15 666.75h2.29v2.27h-2.29zM351.61 666.75h2.29v2.27h-2.29zM367.65 666.75h2.29v2.27h-2.29zM282.86 659.95h2.29v2.27h-2.29zM282.86 657.68h2.29v2.27h-2.29zM353.9 657.68h2.29v2.27h-2.29zM282.86 655.42h2.29v2.27h-2.29zM353.9 655.42h2.29v2.27h-2.29zM351.61 648.62h2.29v2.27h-2.29zM289.73 644.09h2.29v2.27h-2.29zM273.69 641.82h2.29v2.27h-2.29zM363.07 641.82h2.29v2.27h-2.29zM294.32 637.29h2.29v2.27h-2.29zM278.27 635.02h2.29v2.27h-2.29zM280.57 630.49h2.29v2.27h-2.29zM340.15 630.49h2.29v2.27h-2.29zM356.19 630.49h2.29v2.27h-2.29zM303.48 628.22h4.58v2.27h-4.58zM353.9 628.22h2.29v2.27h-2.29zM285.15 623.69h2.29v2.27h-2.29zM287.44 621.42h2.29v2.27h-2.29zM349.32 621.42h2.29v2.27h-2.29zM289.73 619.16h2.29v2.27h-2.29zM347.02 619.16h2.29v2.27h-2.29zM298.9 614.62h2.29v2.27h-2.29zM337.86 614.62h2.29v2.27h-2.29z" fill="#e45d30"/><path d="M337.86 703.01h2.29v2.27h-2.29zM294.32 700.74h2.29v2.27h-2.29zM347.02 698.48h2.29v2.27h-2.29zM351.61 693.94h2.29v2.27h-2.29zM285.15 691.68h2.29v2.27h-2.29zM282.86 689.41h2.29v2.27h-2.29zM310.36 689.41h2.29v2.27h-2.29zM301.19 687.14h2.29v2.27h-2.29zM335.57 687.14h2.29v2.27h-2.29zM356.19 687.14h2.29v2.27h-2.29zM280.57 684.88h2.29v2.27h-2.29zM298.9 684.88h2.29v2.27h-2.29zM340.15 684.88h2.29v2.27h-2.29zM278.27 682.61h2.29v2.27h-2.29zM296.61 682.61h2.29v2.27h-2.29zM342.44 680.35h2.29v2.27h-2.29zM360.77 680.35h2.29v2.27h-2.29zM275.98 678.08h2.29v2.27h-2.29zM344.73 678.08h2.29v2.27h-2.29zM292.02 675.81h2.29v2.27h-2.29zM363.07 675.81h2.29v2.27h-2.29zM273.69 673.55h2.29v2.27h-2.29zM347.02 673.55h2.29v2.27h-2.29zM271.4 671.28h2.29v2.27h-2.29zM271.4 669.01h2.29v2.27h-2.29zM287.44 669.01h2.29v2.27h-2.29zM369.94 662.22h2.29v2.27h-2.29zM353.9 659.95h2.29v2.27h-2.29zM369.94 659.95h2.29v2.27h-2.29zM369.94 657.68h2.29v2.27h-2.29zM369.94 655.42h2.29v2.27h-2.29zM285.15 653.15h2.29v2.27h-2.29zM285.15 650.88h2.29v2.27h-2.29zM351.61 650.88h2.29v2.27h-2.29zM367.65 648.62h2.29v2.27h-2.29zM271.4 646.35h2.29v2.27h-2.29zM349.32 646.35h2.29v2.27h-2.29zM365.36 644.09h2.29v2.27h-2.29zM292.02 641.82h2.29v2.27h-2.29zM347.02 641.82h2.29v2.27h-2.29zM275.98 637.29h2.29v2.27h-2.29zM344.73 637.29h2.29v2.27h-2.29zM360.77 637.29h2.29v2.27h-2.29zM296.61 635.02h2.29v2.27h-2.29zM278.27 632.75h2.29v2.27h-2.29zM298.9 632.75h2.29v2.27h-2.29zM358.48 632.75h2.29v2.27h-2.29zM301.19 630.49h2.29v2.27h-2.29zM310.36 628.22h2.29v2.27h-2.29zM319.52 628.22h4.58v2.27h-4.58zM335.57 628.22h2.29v2.27h-2.29zM282.86 625.96h2.29v2.27h-2.29zM353.9 625.96h2.29v2.27h-2.29zM351.61 623.69h2.29v2.27h-2.29zM292.02 616.89h2.29v2.27h-2.29zM344.73 616.89h2.29v2.27h-2.29zM296.61 614.62h2.29v2.27h-2.29zM340.15 614.62h2.29v2.27h-2.29zM303.48 612.36h2.29v2.27h-2.29zM308.07 612.36h9.17v2.27h-9.17zM321.82 612.36h6.88v2.27h-6.88z" fill="#ec6b24"/><path d="M390.57 725.67h2.29v2.27h-2.29zM388.27 723.4h2.29v2.27h-2.29zM305.77 705.27h4.58v2.27h-4.58zM312.65 705.27h2.29v2.27h-2.29zM319.52 705.27h6.88v2.27h-6.88zM296.61 703.01h4.58v2.27h-4.58zM340.15 703.01h2.29v2.27h-2.29zM292.02 700.74h2.29v2.27h-2.29zM289.73 698.48h2.29v2.27h-2.29zM287.44 696.21h2.29v2.27h-2.29zM349.32 696.21h2.29v2.27h-2.29zM285.15 693.94h2.29v2.27h-2.29zM282.86 691.68h2.29v2.27h-2.29zM353.9 691.68h2.29v2.27h-2.29zM280.57 687.14h2.29v2.27h-2.29zM303.48 687.14h2.29v2.27h-2.29zM317.23 687.14h4.58v2.27h-4.58zM278.27 684.88h2.29v2.27h-2.29zM358.48 684.88h2.29v2.27h-2.29zM340.15 682.61h2.29v2.27h-2.29zM275.98 680.35h2.29v2.27h-2.29zM294.32 678.08h2.29v2.27h-2.29zM363.07 678.08h2.29v2.27h-2.29zM273.69 675.81h2.29v2.27h-2.29zM344.73 675.81h2.29v2.27h-2.29zM292.02 673.55h2.29v2.27h-2.29zM365.36 673.55h2.29v2.27h-2.29zM289.73 671.28h2.29v2.27h-2.29zM347.02 671.28h2.29v2.27h-2.29zM349.32 669.01h2.29v2.27h-2.29zM367.65 669.01h2.29v2.27h-2.29zM287.44 666.75h2.29v2.27h-2.29zM369.94 666.75h2.29v2.27h-2.29zM285.15 664.48h2.29v2.27h-2.29zM351.61 664.48h2.29v2.27h-2.29zM369.94 664.48h2.29v2.27h-2.29zM285.15 662.22h2.29v2.27h-2.29zM285.15 657.68h2.29v2.27h-2.29zM351.61 655.42h2.29v2.27h-2.29zM369.94 653.15h2.29v2.27h-2.29zM287.44 648.62h2.29v2.27h-2.29zM349.32 648.62h2.29v2.27h-2.29zM289.73 646.35h2.29v2.27h-2.29zM367.65 646.35h2.29v2.27h-2.29zM271.4 644.09h2.29v2.27h-2.29zM292.02 644.09h2.29v2.27h-2.29zM347.02 644.09h2.29v2.27h-2.29zM271.4 641.82h2.29v2.27h-2.29zM365.36 641.82h2.29v2.27h-2.29zM273.69 639.55h2.29v2.27h-2.29zM294.32 639.55h2.29v2.27h-2.29zM344.73 639.55h2.29v2.27h-2.29zM363.07 639.55h2.29v2.27h-2.29zM342.44 637.29h2.29v2.27h-2.29zM342.44 635.02h2.29v2.27h-2.29zM337.86 632.75h4.58v2.27h-4.58zM337.86 630.49h2.29v2.27h-2.29zM280.57 628.22h2.29v2.27h-2.29zM308.07 628.22h2.29v2.27h-2.29zM312.65 628.22h6.88v2.27h-6.88zM324.11 628.22h2.29v2.27h-2.29zM330.98 628.22h4.58v2.27h-4.58zM356.19 628.22h2.29v2.27h-2.29zM353.9 623.69h2.29v2.27h-2.29zM285.15 621.42h2.29v2.27h-2.29zM351.61 621.42h2.29v2.27h-2.29zM287.44 619.16h2.29v2.27h-2.29zM289.73 616.89h2.29v2.27h-2.29zM347.02 616.89h2.29v2.27h-2.29zM342.44 614.62h2.29v2.27h-2.29zM305.77 612.36h2.29v2.27h-2.29zM317.23 612.36h4.58v2.27h-4.58zM328.69 612.36h9.17v2.27h-9.17z" fill="#f37a18"/><path d="M388.27 730.2h2.29v2.27h-2.29zM385.98 727.94h13.75v2.27h-13.75zM383.69 725.67h6.88v2.27h-6.88zM392.86 725.67h9.17v2.27h-9.17zM383.69 723.4h4.58v2.27h-4.58zM390.57 723.4h11.46v2.27h-11.46zM385.98 721.14h4.58v2.27h-4.58zM392.86 721.14h4.58v2.27h-4.58zM301.19 705.27h4.58v2.27h-4.58zM310.36 705.27h2.29v2.27h-2.29zM314.94 705.27h4.58v2.27h-4.58zM326.4 705.27h11.46v2.27h-11.46zM294.32 703.01h2.29v2.27h-2.29zM342.44 703.01h2.29v2.27h-2.29zM289.73 700.74h2.29v2.27h-2.29zM344.73 700.74h4.58v2.27h-4.58zM287.44 698.48h2.29v2.27h-2.29zM349.32 698.48h2.29v2.27h-2.29zM351.61 696.21h2.29v2.27h-2.29zM353.9 693.94h2.29v2.27h-2.29zM280.57 689.41h2.29v2.27h-2.29zM356.19 689.41h2.29v2.27h-2.29zM278.27 687.14h2.29v2.27h-2.29zM305.77 687.14h2.29v2.27h-2.29zM310.36 687.14h6.88v2.27h-6.88zM321.82 687.14h4.58v2.27h-4.58zM328.69 687.14h6.87v2.27h-6.87zM358.48 687.14h2.29v2.27h-2.29zM301.19 684.88h2.29v2.27h-2.29zM337.86 684.88h2.29v2.27h-2.29zM275.98 682.61h2.29v2.27h-2.29zM298.9 682.61h2.29v2.27h-2.29zM360.77 682.61h2.29v2.27h-2.29zM296.61 680.35h2.29v2.27h-2.29zM273.69 678.08h2.29v2.27h-2.29zM342.44 678.08h2.29v2.27h-2.29zM294.32 675.81h2.29v2.27h-2.29zM365.36 675.81h2.29v2.27h-2.29zM271.4 673.55h2.29v2.27h-2.29zM344.73 673.55h2.29v2.27h-2.29zM367.65 671.28h2.29v2.27h-2.29zM347.02 669.01h2.29v2.27h-2.29zM369.94 669.01h2.29v2.27h-2.29zM349.32 666.75h2.29v2.27h-2.29zM351.61 662.22h2.29v2.27h-2.29zM285.15 659.95h2.29v2.27h-2.29zM351.61 659.95h2.29v2.27h-2.29zM351.61 657.68h2.29v2.27h-2.29zM285.15 655.42h2.29v2.27h-2.29zM351.61 653.15h2.29v2.27h-2.29zM287.44 650.88h2.29v2.27h-2.29zM369.94 650.88h2.29v2.27h-2.29zM369.94 648.62h2.29v2.27h-2.29zM347.02 646.35h2.29v2.27h-2.29zM367.65 644.09h2.29v2.27h-2.29zM294.32 641.82h2.29v2.27h-2.29zM344.73 641.82h2.29v2.27h-2.29zM273.69 637.29h2.29v2.27h-2.29zM296.61 637.29h2.29v2.27h-2.29zM363.07 637.29h2.29v2.27h-2.29zM275.98 635.02h2.29v2.27h-2.29zM360.77 635.02h2.29v2.27h-2.29zM301.19 632.75h2.29v2.27h-2.29zM360.77 632.75h2.29v2.27h-2.29zM278.27 630.49h2.29v2.27h-2.29zM303.48 630.49h4.58v2.27h-4.58zM335.57 630.49h2.29v2.27h-2.29zM358.48 630.49h2.29v2.27h-2.29zM278.27 628.22h2.29v2.27h-2.29zM326.4 628.22h4.58v2.27h-4.58zM358.48 628.22h2.29v2.27h-2.29zM280.57 625.96h2.29v2.27h-2.29zM356.19 625.96h2.29v2.27h-2.29zM282.86 623.69h2.29v2.27h-2.29zM349.32 619.16h2.29v2.27h-2.29zM349.32 616.89h2.29v2.27h-2.29zM294.32 614.62h2.29v2.27h-2.29zM344.73 614.62h2.29v2.27h-2.29zM301.19 612.36h2.29v2.27h-2.29zM337.86 612.36h4.58v2.27h-4.58zM324.11 610.09h2.29v2.27h-2.29zM328.69 610.09h2.29v2.27h-2.29zM342.44 578.37h2.29v2.27h-2.29z" fill="#f78a13"/><path d="M328.69 746.07h4.58v2.27h-4.58zM326.4 743.8h2.29v2.27h-2.29zM321.82 741.53h2.29v2.27h-2.29zM330.98 741.53h2.29v2.27h-2.29zM395.15 734.74h2.29v2.27h-2.29zM383.69 732.47h11.46v2.27h-11.46zM397.44 732.47h6.88v2.27h-6.88zM381.4 730.2h2.29v2.27h-2.29zM385.98 730.2h2.29v2.27h-2.29zM390.57 730.2h11.46v2.27h-11.46zM376.82 727.94h9.17v2.27h-9.17zM399.73 727.94h6.88v2.27h-6.88zM376.82 725.67h6.88v2.27h-6.88zM402.02 725.67h2.29v2.27h-2.29zM406.61 725.67h2.29v2.27h-2.29zM379.11 723.4h2.29v2.27h-2.29zM402.02 723.4h4.58v2.27h-4.58zM381.4 721.14h4.58v2.27h-4.58zM390.57 721.14h2.29v2.27h-2.29zM397.44 721.14h6.88v2.27h-6.88zM406.61 721.14h2.29v2.27h-2.29zM388.27 718.87h16.04v2.27h-16.04zM395.15 716.61h4.58v2.27h-4.58zM312.65 707.54h2.29v2.27h-2.29zM317.23 707.54h2.29v2.27h-2.29zM296.61 705.27h4.58v2.27h-4.58zM337.86 705.27h4.58v2.27h-4.58zM347.02 705.27h2.29v2.27h-2.29zM292.02 703.01h2.29v2.27h-2.29zM344.73 703.01h4.58v2.27h-4.58zM287.44 700.74h2.29v2.27h-2.29zM349.32 700.74h2.29v2.27h-2.29zM285.15 698.48h2.29v2.27h-2.29zM351.61 698.48h2.29v2.27h-2.29zM282.86 696.21h4.58v2.27h-4.58zM353.9 696.21h2.29v2.27h-2.29zM282.86 693.94h2.29v2.27h-2.29zM356.19 693.94h2.29v2.27h-2.29zM275.98 691.68h2.29v2.27h-2.29zM356.19 691.68h2.29v2.27h-2.29zM278.27 689.41h2.29v2.27h-2.29zM358.48 689.41h4.58v2.27h-4.58zM308.07 687.14h2.29v2.27h-2.29zM326.4 687.14h2.29v2.27h-2.29zM360.77 687.14h2.29v2.27h-2.29zM273.69 684.88h2.29v2.27h-2.29zM303.48 684.88h4.58v2.27h-4.58zM312.65 684.88h11.46v2.27h-11.46zM330.98 684.88h6.88v2.27h-6.88zM360.77 684.88h4.58v2.27h-4.58zM273.69 682.61h2.29v2.27h-2.29zM335.57 682.61h4.58v2.27h-4.58zM363.07 682.61h2.29v2.27h-2.29zM273.69 680.35h2.29v2.27h-2.29zM298.9 680.35h2.29v2.27h-2.29zM340.15 680.35h2.29v2.27h-2.29zM363.07 680.35h4.58v2.27h-4.58zM271.4 678.08h2.29v2.27h-2.29zM296.61 678.08h2.29v2.27h-2.29zM340.15 678.08h2.29v2.27h-2.29zM365.36 678.08h2.29v2.27h-2.29zM271.4 675.81h2.29v2.27h-2.29zM342.44 675.81h2.29v2.27h-2.29zM367.65 675.81h2.29v2.27h-2.29zM404.32 675.81h2.29v2.27h-2.29zM294.32 673.55h2.29v2.27h-2.29zM367.65 673.55h4.58v2.27h-4.58zM292.02 671.28h2.29v2.27h-2.29zM369.94 671.28h2.29v2.27h-2.29zM289.73 669.01h2.29v2.27h-2.29zM402.02 669.01h2.29v2.27h-2.29zM372.23 666.75h2.29v2.27h-2.29zM287.44 664.48h2.29v2.27h-2.29zM349.32 664.48h2.29v2.27h-2.29zM372.23 664.48h2.29v2.27h-2.29zM372.23 662.22h2.29v2.27h-2.29zM372.23 659.95h2.29v2.27h-2.29zM372.23 657.68h2.29v2.27h-2.29zM372.23 655.42h2.29v2.27h-2.29zM287.44 653.15h2.29v2.27h-2.29zM372.23 653.15h2.29v2.27h-2.29zM349.32 650.88h2.29v2.27h-2.29zM372.23 650.88h2.29v2.27h-2.29zM289.73 648.62h2.29v2.27h-2.29zM372.23 648.62h2.29v2.27h-2.29zM369.94 646.35h4.58v2.27h-4.58zM344.73 644.09h2.29v2.27h-2.29zM369.94 644.09h2.29v2.27h-2.29zM367.65 641.82h2.29v2.27h-2.29zM271.4 639.55h2.29v2.27h-2.29zM342.44 639.55h2.29v2.27h-2.29zM365.36 639.55h2.29v2.27h-2.29zM271.4 637.29h2.29v2.27h-2.29zM340.15 637.29h2.29v2.27h-2.29zM365.36 637.29h2.29v2.27h-2.29zM273.69 635.02h2.29v2.27h-2.29zM298.9 635.02h4.58v2.27h-4.58zM337.86 635.02h4.58v2.27h-4.58zM363.07 635.02h4.58v2.27h-4.58zM275.98 632.75h2.29v2.27h-2.29zM303.48 632.75h2.29v2.27h-2.29zM335.57 632.75h2.29v2.27h-2.29zM363.07 632.75h2.29v2.27h-2.29zM275.98 630.49h2.29v2.27h-2.29zM308.07 630.49h27.5v2.27h-27.5zM360.77 630.49h2.29v2.27h-2.29zM278.27 625.96h2.29v2.27h-2.29zM280.57 623.69h2.29v2.27h-2.29zM356.19 623.69h2.29v2.27h-2.29zM360.77 623.69h2.29v2.27h-2.29zM282.86 621.42h2.29v2.27h-2.29zM353.9 621.42h2.29v2.27h-2.29zM282.86 619.16h4.58v2.27h-4.58zM351.61 619.16h4.58v2.27h-4.58zM402.02 619.16h2.29v2.27h-2.29zM287.44 616.89h2.29v2.27h-2.29zM402.02 616.89h2.29v2.27h-2.29zM292.02 614.62h2.29v2.27h-2.29zM347.02 614.62h4.58v2.27h-4.58zM395.15 614.62h2.29v2.27h-2.29zM399.73 614.62h4.58v2.27h-4.58zM296.61 612.36h4.58v2.27h-4.58zM342.44 612.36h4.58v2.27h-4.58zM395.15 612.36h11.46v2.27h-11.46zM305.77 610.09h18.33v2.27h-18.33zM326.4 610.09h2.29v2.27h-2.29zM330.98 610.09h9.17v2.27h-9.17zM395.15 610.09h9.17v2.27h-9.17zM406.61 610.09h2.29v2.27h-2.29zM321.82 607.83h2.29v2.27h-2.29zM333.27 607.83h2.29v2.27h-2.29zM392.86 607.83h11.46v2.27h-11.46zM397.44 605.56h2.29v2.27h-2.29zM397.44 603.29h2.29v2.27h-2.29zM402.02 603.29h2.29v2.27h-2.29zM335.57 585.16h2.29v2.27h-2.29zM342.44 585.16h2.29v2.27h-2.29zM333.27 582.9h11.46v2.27h-11.46zM330.98 580.63h20.62v2.27h-20.62zM335.57 578.37h2.29v2.27h-2.29zM340.15 578.37h2.29v2.27h-2.29zM344.73 578.37h4.58v2.27h-4.58zM333.27 576.1h2.29v2.27h-2.29zM337.86 576.1h4.58v2.27h-4.58zM344.73 576.1h2.29v2.27h-2.29zM349.32 576.1h2.29v2.27h-2.29z" fill="#fa9b0d"/><path d="M317.23 748.33h11.46v2.27h-11.46zM330.98 748.33h2.29v2.27h-2.29zM335.57 748.33h2.29v2.27h-2.29zM340.15 748.33h9.17v2.27h-9.17zM358.48 748.33h2.29v2.27h-2.29zM399.73 748.33h2.29v2.27h-2.29zM312.65 746.07h2.29v2.27h-2.29zM317.23 746.07h11.46v2.27h-11.46zM333.27 746.07h6.88v2.27h-6.88zM342.44 746.07h2.29v2.27h-2.29zM308.07 743.8h18.33v2.27h-18.33zM328.69 743.8h16.04v2.27h-16.04zM349.32 743.8h2.29v2.27h-2.29zM308.07 741.53h2.29v2.27h-2.29zM312.65 741.53h2.29v2.27h-2.29zM319.52 741.53h2.29v2.27h-2.29zM324.11 741.53h6.88v2.27h-6.88zM333.27 741.53h13.75v2.27h-13.75zM397.44 741.53h2.29v2.27h-2.29zM321.82 739.27h2.29v2.27h-2.29zM326.4 739.27h13.75v2.27h-13.75zM342.44 739.27h2.29v2.27h-2.29zM349.32 739.27h2.29v2.27h-2.29zM392.86 739.27h4.58v2.27h-4.58zM324.11 737h2.29v2.27h-2.29zM330.98 737h2.29v2.27h-2.29zM337.86 737h2.29v2.27h-2.29zM372.23 737h2.29v2.27h-2.29zM376.82 737h2.29v2.27h-2.29zM388.27 737h6.88v2.27h-6.88zM402.02 737h2.29v2.27h-2.29zM372.23 734.74h2.29v2.27h-2.29zM376.82 734.74h13.75v2.27h-13.75zM392.86 734.74h2.29v2.27h-2.29zM397.44 734.74h4.58v2.27h-4.58zM372.23 732.47h2.29v2.27h-2.29zM379.11 732.47h4.58v2.27h-4.58zM395.15 732.47h2.29v2.27h-2.29zM406.61 732.47h2.29v2.27h-2.29zM372.23 730.2h2.29v2.27h-2.29zM376.82 730.2h4.58v2.27h-4.58zM383.69 730.2h2.29v2.27h-2.29zM402.02 730.2h6.88v2.27h-6.88zM367.65 727.94h4.58v2.27h-4.58zM374.52 727.94h2.29v2.27h-2.29zM406.61 727.94h2.29v2.27h-2.29zM372.23 725.67h4.58v2.27h-4.58zM404.32 725.67h2.29v2.27h-2.29zM372.23 723.4h2.29v2.27h-2.29zM376.82 723.4h2.29v2.27h-2.29zM381.4 723.4h2.29v2.27h-2.29zM406.61 723.4h2.29v2.27h-2.29zM379.11 721.14h2.29v2.27h-2.29zM404.32 721.14h2.29v2.27h-2.29zM381.4 718.87h6.88v2.27h-6.88zM404.32 718.87h4.58v2.27h-4.58zM388.27 716.61h6.88v2.27h-6.88zM399.73 716.61h9.17v2.27h-9.17zM399.73 714.34h6.88v2.27h-6.88zM397.44 712.07h2.29v2.27h-2.29zM402.02 712.07h6.88v2.27h-6.88zM298.9 707.54h2.29v2.27h-2.29zM303.48 707.54h9.17v2.27h-9.17zM314.94 707.54h2.29v2.27h-2.29zM319.52 707.54h22.92v2.27h-22.92zM344.73 707.54h2.29v2.27h-2.29zM282.86 705.27h2.29v2.27h-2.29zM287.44 705.27h9.17v2.27h-9.17zM342.44 705.27h4.58v2.27h-4.58zM349.32 705.27h2.29v2.27h-2.29zM402.02 705.27h4.58v2.27h-4.58zM282.86 703.01h2.29v2.27h-2.29zM287.44 703.01h4.58v2.27h-4.58zM349.32 703.01h2.29v2.27h-2.29zM353.9 703.01h2.29v2.27h-2.29zM282.86 700.74h4.58v2.27h-4.58zM351.61 700.74h2.29v2.27h-2.29zM406.61 700.74h2.29v2.27h-2.29zM278.27 698.48h2.29v2.27h-2.29zM282.86 698.48h2.29v2.27h-2.29zM353.9 698.48h4.58v2.27h-4.58zM402.02 698.48h6.88v2.27h-6.88zM275.98 696.21h2.29v2.27h-2.29zM280.57 696.21h2.29v2.27h-2.29zM356.19 696.21h2.29v2.27h-2.29zM402.02 696.21h6.88v2.27h-6.88zM273.69 693.94h2.29v2.27h-2.29zM278.27 693.94h4.58v2.27h-4.58zM402.02 693.94h6.88v2.27h-6.88zM278.27 691.68h4.58v2.27h-4.58zM358.48 691.68h2.29v2.27h-2.29zM402.02 691.68h4.58v2.27h-4.58zM273.69 689.41h4.58v2.27h-4.58zM399.73 689.41h9.17v2.27h-9.17zM273.69 687.14h4.58v2.27h-4.58zM363.07 687.14h2.29v2.27h-2.29zM402.02 687.14h2.29v2.27h-2.29zM406.61 687.14h2.29v2.27h-2.29zM271.4 684.88h2.29v2.27h-2.29zM275.98 684.88h2.29v2.27h-2.29zM308.07 684.88h4.58v2.27h-4.58zM324.11 684.88h6.88v2.27h-6.88zM365.36 684.88h4.58v2.27h-4.58zM399.73 684.88h9.17v2.27h-9.17zM271.4 682.61h2.29v2.27h-2.29zM301.19 682.61h4.58v2.27h-4.58zM365.36 682.61h6.88v2.27h-6.88zM399.73 682.61h9.17v2.27h-9.17zM271.4 680.35h2.29v2.27h-2.29zM301.19 680.35h2.29v2.27h-2.29zM337.86 680.35h2.29v2.27h-2.29zM367.65 680.35h9.17v2.27h-9.17zM399.73 680.35h9.17v2.27h-9.17zM298.9 678.08h2.29v2.27h-2.29zM367.65 678.08h4.58v2.27h-4.58zM402.02 678.08h6.88v2.27h-6.88zM296.61 675.81h2.29v2.27h-2.29zM369.94 675.81h4.58v2.27h-4.58zM397.44 675.81h6.88v2.27h-6.88zM406.61 675.81h2.29v2.27h-2.29zM374.52 673.55h2.29v2.27h-2.29zM402.02 673.55h6.88v2.27h-6.88zM344.73 671.28h2.29v2.27h-2.29zM372.23 671.28h2.29v2.27h-2.29zM376.82 671.28h4.58v2.27h-4.58zM402.02 671.28h6.88v2.27h-6.88zM292.02 669.01h2.29v2.27h-2.29zM372.23 669.01h4.58v2.27h-4.58zM404.32 669.01h4.58v2.27h-4.58zM289.73 666.75h2.29v2.27h-2.29zM374.52 666.75h2.29v2.27h-2.29zM402.02 666.75h6.88v2.27h-6.88zM374.52 664.48h2.29v2.27h-2.29zM399.73 664.48h9.17v2.27h-9.17zM287.44 662.22h2.29v2.27h-2.29zM374.52 662.22h2.29v2.27h-2.29zM402.02 662.22h6.88v2.27h-6.88zM287.44 659.95h2.29v2.27h-2.29zM374.52 659.95h2.29v2.27h-2.29zM402.02 659.95h4.58v2.27h-4.58zM287.44 657.68h2.29v2.27h-2.29zM374.52 657.68h6.88v2.27h-6.88zM287.44 655.42h2.29v2.27h-2.29zM374.52 655.42h4.58v2.27h-4.58zM349.32 653.15h2.29v2.27h-2.29zM374.52 653.15h2.29v2.27h-2.29zM402.02 653.15h4.58v2.27h-4.58zM289.73 650.88h2.29v2.27h-2.29zM374.52 650.88h2.29v2.27h-2.29zM402.02 650.88h2.29v2.27h-2.29zM347.02 648.62h2.29v2.27h-2.29zM292.02 646.35h2.29v2.27h-2.29zM344.73 646.35h2.29v2.27h-2.29zM294.32 644.09h2.29v2.27h-2.29zM372.23 644.09h2.29v2.27h-2.29zM404.32 644.09h2.29v2.27h-2.29zM342.44 641.82h2.29v2.27h-2.29zM369.94 641.82h4.58v2.27h-4.58zM376.82 641.82h2.29v2.27h-2.29zM402.02 641.82h2.29v2.27h-2.29zM296.61 639.55h2.29v2.27h-2.29zM340.15 639.55h2.29v2.27h-2.29zM367.65 639.55h4.58v2.27h-4.58zM374.52 639.55h2.29v2.27h-2.29zM298.9 637.29h2.29v2.27h-2.29zM367.65 637.29h2.29v2.27h-2.29zM372.23 637.29h4.58v2.27h-4.58zM406.61 637.29h2.29v2.27h-2.29zM271.4 635.02h2.29v2.27h-2.29zM335.57 635.02h2.29v2.27h-2.29zM367.65 635.02h4.58v2.27h-4.58zM271.4 632.75h4.58v2.27h-4.58zM305.77 632.75h6.88v2.27h-6.88zM314.94 632.75h4.58v2.27h-4.58zM324.11 632.75h11.46v2.27h-11.46zM365.36 632.75h2.29v2.27h-2.29zM369.94 632.75h2.29v2.27h-2.29zM273.69 630.49h2.29v2.27h-2.29zM363.07 630.49h4.58v2.27h-4.58zM271.4 628.22h6.88v2.27h-6.88zM360.77 628.22h4.58v2.27h-4.58zM275.98 625.96h2.29v2.27h-2.29zM358.48 625.96h9.17v2.27h-9.17zM402.02 625.96h2.29v2.27h-2.29zM275.98 623.69h4.58v2.27h-4.58zM358.48 623.69h2.29v2.27h-2.29zM363.07 623.69h2.29v2.27h-2.29zM367.65 623.69h2.29v2.27h-2.29zM402.02 623.69h4.58v2.27h-4.58zM278.27 621.42h4.58v2.27h-4.58zM356.19 621.42h4.58v2.27h-4.58zM397.44 621.42h11.46v2.27h-11.46zM356.19 619.16h6.88v2.27h-6.88zM392.86 619.16h2.29v2.27h-2.29zM397.44 619.16h4.58v2.27h-4.58zM404.32 619.16h2.29v2.27h-2.29zM278.27 616.89h2.29v2.27h-2.29zM285.15 616.89h2.29v2.27h-2.29zM351.61 616.89h6.88v2.27h-6.88zM385.98 616.89h2.29v2.27h-2.29zM395.15 616.89h6.88v2.27h-6.88zM404.32 616.89h4.58v2.27h-4.58zM351.61 614.62h6.88v2.27h-6.88zM390.57 614.62h4.58v2.27h-4.58zM397.44 614.62h2.29v2.27h-2.29zM404.32 614.62h4.58v2.27h-4.58zM294.32 612.36h2.29v2.27h-2.29zM347.02 612.36h9.17v2.27h-9.17zM388.27 612.36h6.88v2.27h-6.88zM406.61 612.36h2.29v2.27h-2.29zM301.19 610.09h4.58v2.27h-4.58zM340.15 610.09h6.88v2.27h-6.88zM351.61 610.09h2.29v2.27h-2.29zM356.19 610.09h2.29v2.27h-2.29zM388.27 610.09h6.88v2.27h-6.88zM404.32 610.09h2.29v2.27h-2.29zM310.36 607.83h11.46v2.27h-11.46zM324.11 607.83h9.17v2.27h-9.17zM335.57 607.83h9.17v2.27h-9.17zM347.02 607.83h2.29v2.27h-2.29zM385.98 607.83h2.29v2.27h-2.29zM390.57 607.83h2.29v2.27h-2.29zM404.32 607.83h4.58v2.27h-4.58zM312.65 605.56h4.58v2.27h-4.58zM319.52 605.56h9.17v2.27h-9.17zM330.98 605.56h13.75v2.27h-13.75zM388.27 605.56h9.17v2.27h-9.17zM399.73 605.56h9.17v2.27h-9.17zM317.23 603.29h2.29v2.27h-2.29zM321.82 603.29h2.29v2.27h-2.29zM333.27 603.29h2.29v2.27h-2.29zM347.02 603.29h2.29v2.27h-2.29zM390.57 603.29h6.88v2.27h-6.88zM399.73 603.29h2.29v2.27h-2.29zM404.32 603.29h4.58v2.27h-4.58zM335.57 601.03h2.29v2.27h-2.29zM392.86 601.03h11.46v2.27h-11.46zM406.61 601.03h2.29v2.27h-2.29zM333.27 598.76h2.29v2.27h-2.29zM340.15 598.76h2.29v2.27h-2.29zM344.73 598.76h2.29v2.27h-2.29zM392.86 598.76h2.29v2.27h-2.29zM397.44 598.76h9.17v2.27h-9.17zM321.82 596.5h2.29v2.27h-2.29zM399.73 596.5h2.29v2.27h-2.29zM404.32 596.5h4.58v2.27h-4.58zM330.98 591.96h2.29v2.27h-2.29zM340.15 591.96h2.29v2.27h-2.29zM347.02 591.96h4.58v2.27h-4.58zM399.73 591.96h2.29v2.27h-2.29zM328.69 589.7h4.58v2.27h-4.58zM335.57 589.7h9.17v2.27h-9.17zM347.02 589.7h2.29v2.27h-2.29zM351.61 589.7h2.29v2.27h-2.29zM328.69 587.43h25.21v2.27h-25.21zM305.77 585.16h2.29v2.27h-2.29zM326.4 585.16h9.17v2.27h-9.17zM337.86 585.16h4.58v2.27h-4.58zM344.73 585.16h6.88v2.27h-6.88zM353.9 585.16h2.29v2.27h-2.29zM319.52 582.9h13.75v2.27h-13.75zM344.73 582.9h6.88v2.27h-6.88zM353.9 582.9h4.58v2.27h-4.58zM317.23 580.63h2.29v2.27h-2.29zM326.4 580.63h4.58v2.27h-4.58zM351.61 580.63h2.29v2.27h-2.29zM321.82 578.37h13.75v2.27h-13.75zM337.86 578.37h2.29v2.27h-2.29zM349.32 578.37h9.17v2.27h-9.17zM319.52 576.1h2.29v2.27h-2.29zM326.4 576.1h6.88v2.27h-6.88zM335.57 576.1h2.29v2.27h-2.29zM342.44 576.1h2.29v2.27h-2.29zM347.02 576.1h2.29v2.27h-2.29zM351.61 576.1h2.29v2.27h-2.29zM356.19 576.1h2.29v2.27h-2.29zM328.69 573.83h4.58v2.27h-4.58zM335.57 573.83h20.62v2.27h-20.62zM328.69 571.57h16.04v2.27h-16.04zM347.02 571.57h6.88v2.27h-6.88zM342.44 569.3h4.58v2.27h-4.58zM353.9 569.3h2.29v2.27h-2.29z" fill="#fbac13"/><path d="M273.69 748.33h13.75v2.27h-13.75zM289.73 748.33h4.58v2.27h-4.58zM298.9 748.33h6.88v2.27h-6.88zM308.07 748.33h9.17v2.27h-9.17zM328.69 748.33h2.29v2.27h-2.29zM333.27 748.33h2.29v2.27h-2.29zM337.86 748.33h2.29v2.27h-2.29zM349.32 748.33h9.17v2.27h-9.17zM360.77 748.33h4.58v2.27h-4.58zM367.65 748.33h13.75v2.27h-13.75zM383.69 748.33h11.46v2.27h-11.46zM397.44 748.33h2.29v2.27h-2.29zM402.02 748.33h6.88v2.27h-6.88zM271.4 746.07h6.88v2.27h-6.88zM285.15 746.07h11.46v2.27h-11.46zM298.9 746.07h13.75v2.27h-13.75zM314.94 746.07h2.29v2.27h-2.29zM340.15 746.07h2.29v2.27h-2.29zM344.73 746.07h27.5v2.27h-27.5zM374.52 746.07h32.08v2.27h-32.08zM271.4 743.8h4.58v2.27h-4.58zM278.27 743.8h6.88v2.27h-6.88zM287.44 743.8h20.62v2.27h-20.62zM344.73 743.8h4.58v2.27h-4.58zM351.61 743.8h27.5v2.27h-27.5zM381.4 743.8h18.33v2.27h-18.33zM402.02 743.8h6.88v2.27h-6.88zM271.4 741.53h36.67v2.27h-36.67zM310.36 741.53h2.29v2.27h-2.29zM314.94 741.53h4.58v2.27h-4.58zM347.02 741.53h9.17v2.27h-9.17zM358.48 741.53h16.04v2.27h-16.04zM379.11 741.53h4.58v2.27h-4.58zM385.98 741.53h11.46v2.27h-11.46zM399.73 741.53h9.17v2.27h-9.17zM271.4 739.27h11.46v2.27h-11.46zM285.15 739.27h2.29v2.27h-2.29zM289.73 739.27h2.29v2.27h-2.29zM294.32 739.27h9.17v2.27h-9.17zM305.77 739.27h16.04v2.27h-16.04zM324.11 739.27h2.29v2.27h-2.29zM340.15 739.27h2.29v2.27h-2.29zM344.73 739.27h4.58v2.27h-4.58zM351.61 739.27h11.46v2.27h-11.46zM369.94 739.27h6.88v2.27h-6.88zM379.11 739.27h13.75v2.27h-13.75zM397.44 739.27h11.46v2.27h-11.46zM271.4 737h4.58v2.27h-4.58zM278.27 737h9.17v2.27h-9.17zM289.73 737h16.04v2.27h-16.04zM308.07 737h16.04v2.27h-16.04zM326.4 737h4.58v2.27h-4.58zM333.27 737h4.58v2.27h-4.58zM340.15 737h9.17v2.27h-9.17zM351.61 737h20.62v2.27h-20.62zM374.52 737h2.29v2.27h-2.29zM379.11 737h9.17v2.27h-9.17zM395.15 737h6.88v2.27h-6.88zM404.32 737h4.58v2.27h-4.58zM271.4 734.74h2.29v2.27h-2.29zM278.27 734.74h2.29v2.27h-2.29zM282.86 734.74h2.29v2.27h-2.29zM289.73 734.74h2.29v2.27h-2.29zM294.32 734.74h2.29v2.27h-2.29zM298.9 734.74h2.29v2.27h-2.29zM308.07 734.74h2.29v2.27h-2.29zM312.65 734.74h59.58v2.27h-59.58zM374.52 734.74h2.29v2.27h-2.29zM390.57 734.74h2.29v2.27h-2.29zM402.02 734.74h6.88v2.27h-6.88zM273.69 732.47h2.29v2.27h-2.29zM278.27 732.47h2.29v2.27h-2.29zM285.15 732.47h2.29v2.27h-2.29zM296.61 732.47h2.29v2.27h-2.29zM310.36 732.47h2.29v2.27h-2.29zM324.11 732.47h13.75v2.27h-13.75zM340.15 732.47h4.58v2.27h-4.58zM349.32 732.47h4.58v2.27h-4.58zM356.19 732.47h6.88v2.27h-6.88zM365.36 732.47h6.88v2.27h-6.88zM374.52 732.47h4.58v2.27h-4.58zM404.32 732.47h2.29v2.27h-2.29zM317.23 730.2h2.29v2.27h-2.29zM340.15 730.2h13.75v2.27h-13.75zM358.48 730.2h2.29v2.27h-2.29zM363.07 730.2h9.17v2.27h-9.17zM374.52 730.2h2.29v2.27h-2.29zM335.57 727.94h2.29v2.27h-2.29zM342.44 727.94h4.58v2.27h-4.58zM349.32 727.94h2.29v2.27h-2.29zM356.19 727.94h11.46v2.27h-11.46zM372.23 727.94h2.29v2.27h-2.29zM351.61 725.67h2.29v2.27h-2.29zM363.07 725.67h2.29v2.27h-2.29zM367.65 725.67h4.58v2.27h-4.58zM351.61 723.4h6.88v2.27h-6.88zM363.07 723.4h9.17v2.27h-9.17zM374.52 723.4h2.29v2.27h-2.29zM365.36 721.14h6.88v2.27h-6.88zM374.52 721.14h4.58v2.27h-4.58zM353.9 718.87h2.29v2.27h-2.29zM360.77 718.87h2.29v2.27h-2.29zM369.94 718.87h2.29v2.27h-2.29zM376.82 718.87h4.58v2.27h-4.58zM383.69 716.61h4.58v2.27h-4.58zM351.61 714.34h2.29v2.27h-2.29zM390.57 714.34h9.17v2.27h-9.17zM406.61 714.34h2.29v2.27h-2.29zM330.98 712.07h2.29v2.27h-2.29zM340.15 712.07h18.33v2.27h-18.33zM395.15 712.07h2.29v2.27h-2.29zM399.73 712.07h2.29v2.27h-2.29zM285.15 709.81h2.29v2.27h-2.29zM310.36 709.81h2.29v2.27h-2.29zM317.23 709.81h38.96v2.27h-38.96zM397.44 709.81h11.46v2.27h-11.46zM292.02 707.54h6.88v2.27h-6.88zM301.19 707.54h2.29v2.27h-2.29zM342.44 707.54h2.29v2.27h-2.29zM347.02 707.54h11.46v2.27h-11.46zM397.44 707.54h11.46v2.27h-11.46zM271.4 705.27h2.29v2.27h-2.29zM278.27 705.27h2.29v2.27h-2.29zM285.15 705.27h2.29v2.27h-2.29zM351.61 705.27h9.17v2.27h-9.17zM397.44 705.27h4.58v2.27h-4.58zM406.61 705.27h2.29v2.27h-2.29zM271.4 703.01h4.58v2.27h-4.58zM278.27 703.01h2.29v2.27h-2.29zM285.15 703.01h2.29v2.27h-2.29zM351.61 703.01h2.29v2.27h-2.29zM356.19 703.01h4.58v2.27h-4.58zM399.73 703.01h9.17v2.27h-9.17zM271.4 700.74h11.46v2.27h-11.46zM353.9 700.74h6.88v2.27h-6.88zM397.44 700.74h9.17v2.27h-9.17zM271.4 698.48h2.29v2.27h-2.29zM275.98 698.48h2.29v2.27h-2.29zM280.57 698.48h2.29v2.27h-2.29zM358.48 698.48h2.29v2.27h-2.29zM397.44 698.48h4.58v2.27h-4.58zM271.4 696.21h4.58v2.27h-4.58zM278.27 696.21h2.29v2.27h-2.29zM358.48 696.21h4.58v2.27h-4.58zM399.73 696.21h2.29v2.27h-2.29zM271.4 693.94h2.29v2.27h-2.29zM275.98 693.94h2.29v2.27h-2.29zM358.48 693.94h6.88v2.27h-6.88zM395.15 693.94h6.88v2.27h-6.88zM271.4 691.68h4.58v2.27h-4.58zM360.77 691.68h6.88v2.27h-6.88zM397.44 691.68h4.58v2.27h-4.58zM406.61 691.68h2.29v2.27h-2.29zM271.4 689.41h2.29v2.27h-2.29zM363.07 689.41h11.46v2.27h-11.46zM395.15 689.41h2.29v2.27h-2.29zM271.4 687.14h2.29v2.27h-2.29zM365.36 687.14h6.88v2.27h-6.88zM383.69 687.14h2.29v2.27h-2.29zM397.44 687.14h4.58v2.27h-4.58zM404.32 687.14h2.29v2.27h-2.29zM369.94 684.88h4.58v2.27h-4.58zM379.11 684.88h2.29v2.27h-2.29zM305.77 682.61h4.58v2.27h-4.58zM312.65 682.61h2.29v2.27h-2.29zM319.52 682.61h2.29v2.27h-2.29zM324.11 682.61h2.29v2.27h-2.29zM330.98 682.61h4.58v2.27h-4.58zM372.23 682.61h9.17v2.27h-9.17zM397.44 682.61h2.29v2.27h-2.29zM376.82 680.35h4.58v2.27h-4.58zM397.44 680.35h2.29v2.27h-2.29zM337.86 678.08h2.29v2.27h-2.29zM372.23 678.08h11.46v2.27h-11.46zM399.73 678.08h2.29v2.27h-2.29zM340.15 675.81h2.29v2.27h-2.29zM374.52 675.81h9.17v2.27h-9.17zM342.44 673.55h2.29v2.27h-2.29zM372.23 673.55h2.29v2.27h-2.29zM376.82 673.55h9.17v2.27h-9.17zM397.44 673.55h4.58v2.27h-4.58zM294.32 671.28h2.29v2.27h-2.29zM374.52 671.28h2.29v2.27h-2.29zM381.4 671.28h2.29v2.27h-2.29zM397.44 671.28h4.58v2.27h-4.58zM344.73 669.01h2.29v2.27h-2.29zM376.82 669.01h4.58v2.27h-4.58zM397.44 669.01h4.58v2.27h-4.58zM347.02 666.75h2.29v2.27h-2.29zM376.82 666.75h6.88v2.27h-6.88zM397.44 666.75h4.58v2.27h-4.58zM376.82 664.48h4.58v2.27h-4.58zM349.32 662.22h2.29v2.27h-2.29zM376.82 662.22h6.88v2.27h-6.88zM397.44 662.22h2.29v2.27h-2.29zM376.82 659.95h4.58v2.27h-4.58zM399.73 659.95h2.29v2.27h-2.29zM406.61 659.95h2.29v2.27h-2.29zM381.4 657.68h2.29v2.27h-2.29zM399.73 657.68h9.17v2.27h-9.17zM349.32 655.42h2.29v2.27h-2.29zM381.4 655.42h2.29v2.27h-2.29zM397.44 655.42h2.29v2.27h-2.29zM402.02 655.42h6.88v2.27h-6.88zM376.82 653.15h4.58v2.27h-4.58zM399.73 653.15h2.29v2.27h-2.29zM406.61 653.15h2.29v2.27h-2.29zM347.02 650.88h2.29v2.27h-2.29zM376.82 650.88h6.88v2.27h-6.88zM399.73 650.88h2.29v2.27h-2.29zM404.32 650.88h4.58v2.27h-4.58zM292.02 648.62h2.29v2.27h-2.29zM374.52 648.62h4.58v2.27h-4.58zM402.02 648.62h6.88v2.27h-6.88zM294.32 646.35h2.29v2.27h-2.29zM374.52 646.35h6.88v2.27h-6.88zM399.73 646.35h9.17v2.27h-9.17zM342.44 644.09h2.29v2.27h-2.29zM374.52 644.09h4.58v2.27h-4.58zM381.4 644.09h2.29v2.27h-2.29zM402.02 644.09h2.29v2.27h-2.29zM406.61 644.09h2.29v2.27h-2.29zM296.61 641.82h2.29v2.27h-2.29zM374.52 641.82h2.29v2.27h-2.29zM379.11 641.82h4.58v2.27h-4.58zM404.32 641.82h4.58v2.27h-4.58zM372.23 639.55h2.29v2.27h-2.29zM376.82 639.55h6.88v2.27h-6.88zM402.02 639.55h2.29v2.27h-2.29zM406.61 639.55h2.29v2.27h-2.29zM337.86 637.29h2.29v2.27h-2.29zM369.94 637.29h2.29v2.27h-2.29zM376.82 637.29h4.58v2.27h-4.58zM402.02 637.29h4.58v2.27h-4.58zM303.48 635.02h2.29v2.27h-2.29zM372.23 635.02h4.58v2.27h-4.58zM379.11 635.02h2.29v2.27h-2.29zM399.73 635.02h9.17v2.27h-9.17zM312.65 632.75h2.29v2.27h-2.29zM319.52 632.75h4.58v2.27h-4.58zM367.65 632.75h2.29v2.27h-2.29zM372.23 632.75h9.17v2.27h-9.17zM402.02 632.75h6.88v2.27h-6.88zM271.4 630.49h2.29v2.27h-2.29zM367.65 630.49h18.33v2.27h-18.33zM399.73 630.49h9.17v2.27h-9.17zM365.36 628.22h18.33v2.27h-18.33zM397.44 628.22h11.46v2.27h-11.46zM271.4 625.96h4.58v2.27h-4.58zM367.65 625.96h11.46v2.27h-11.46zM381.4 625.96h4.58v2.27h-4.58zM395.15 625.96h6.88v2.27h-6.88zM406.61 625.96h2.29v2.27h-2.29zM271.4 623.69h4.58v2.27h-4.58zM365.36 623.69h2.29v2.27h-2.29zM369.94 623.69h11.46v2.27h-11.46zM385.98 623.69h2.29v2.27h-2.29zM392.86 623.69h9.17v2.27h-9.17zM406.61 623.69h2.29v2.27h-2.29zM271.4 621.42h6.88v2.27h-6.88zM360.77 621.42h6.88v2.27h-6.88zM369.94 621.42h11.46v2.27h-11.46zM385.98 621.42h2.29v2.27h-2.29zM392.86 621.42h4.58v2.27h-4.58zM271.4 619.16h11.46v2.27h-11.46zM363.07 619.16h11.46v2.27h-11.46zM376.82 619.16h16.04v2.27h-16.04zM395.15 619.16h2.29v2.27h-2.29zM406.61 619.16h2.29v2.27h-2.29zM273.69 616.89h2.29v2.27h-2.29zM280.57 616.89h4.58v2.27h-4.58zM358.48 616.89h16.04v2.27h-16.04zM376.82 616.89h9.17v2.27h-9.17zM390.57 616.89h4.58v2.27h-4.58zM275.98 614.62h2.29v2.27h-2.29zM280.57 614.62h4.58v2.27h-4.58zM287.44 614.62h4.58v2.27h-4.58zM358.48 614.62h22.92v2.27h-22.92zM383.69 614.62h6.88v2.27h-6.88zM289.73 612.36h4.58v2.27h-4.58zM356.19 612.36h11.46v2.27h-11.46zM369.94 612.36h18.33v2.27h-18.33zM296.61 610.09h4.58v2.27h-4.58zM347.02 610.09h4.58v2.27h-4.58zM353.9 610.09h2.29v2.27h-2.29zM358.48 610.09h11.46v2.27h-11.46zM374.52 610.09h2.29v2.27h-2.29zM379.11 610.09h9.17v2.27h-9.17zM301.19 607.83h9.17v2.27h-9.17zM344.73 607.83h2.29v2.27h-2.29zM349.32 607.83h16.04v2.27h-16.04zM369.94 607.83h2.29v2.27h-2.29zM381.4 607.83h4.58v2.27h-4.58zM388.27 607.83h2.29v2.27h-2.29zM301.19 605.56h2.29v2.27h-2.29zM305.77 605.56h6.88v2.27h-6.88zM317.23 605.56h2.29v2.27h-2.29zM328.69 605.56h2.29v2.27h-2.29zM344.73 605.56h20.62v2.27h-20.62zM367.65 605.56h2.29v2.27h-2.29zM374.52 605.56h2.29v2.27h-2.29zM381.4 605.56h6.88v2.27h-6.88zM305.77 603.29h2.29v2.27h-2.29zM310.36 603.29h6.88v2.27h-6.88zM319.52 603.29h2.29v2.27h-2.29zM324.11 603.29h6.88v2.27h-6.88zM335.57 603.29h11.46v2.27h-11.46zM349.32 603.29h11.46v2.27h-11.46zM385.98 603.29h4.58v2.27h-4.58zM301.19 601.03h9.17v2.27h-9.17zM312.65 601.03h11.46v2.27h-11.46zM326.4 601.03h9.17v2.27h-9.17zM337.86 601.03h13.75v2.27h-13.75zM358.48 601.03h2.29v2.27h-2.29zM385.98 601.03h6.88v2.27h-6.88zM404.32 601.03h2.29v2.27h-2.29zM292.02 598.76h4.58v2.27h-4.58zM301.19 598.76h4.58v2.27h-4.58zM308.07 598.76h25.21v2.27h-25.21zM335.57 598.76h4.58v2.27h-4.58zM342.44 598.76h2.29v2.27h-2.29zM347.02 598.76h4.58v2.27h-4.58zM353.9 598.76h6.88v2.27h-6.88zM385.98 598.76h6.88v2.27h-6.88zM395.15 598.76h2.29v2.27h-2.29zM406.61 598.76h2.29v2.27h-2.29zM296.61 596.5h4.58v2.27h-4.58zM303.48 596.5h6.88v2.27h-6.88zM312.65 596.5h9.17v2.27h-9.17zM324.11 596.5h29.79v2.27h-29.79zM356.19 596.5h4.58v2.27h-4.58zM388.27 596.5h11.46v2.27h-11.46zM402.02 596.5h2.29v2.27h-2.29zM298.9 594.23h32.08v2.27h-32.08zM333.27 594.23h20.62v2.27h-20.62zM356.19 594.23h6.88v2.27h-6.88zM390.57 594.23h18.33v2.27h-18.33zM285.15 591.96h2.29v2.27h-2.29zM292.02 591.96h2.29v2.27h-2.29zM298.9 591.96h32.08v2.27h-32.08zM333.27 591.96h6.88v2.27h-6.88zM342.44 591.96h4.58v2.27h-4.58zM351.61 591.96h2.29v2.27h-2.29zM395.15 591.96h4.58v2.27h-4.58zM402.02 591.96h6.88v2.27h-6.88zM296.61 589.7h6.88v2.27h-6.88zM305.77 589.7h9.17v2.27h-9.17zM317.23 589.7h11.46v2.27h-11.46zM333.27 589.7h2.29v2.27h-2.29zM344.73 589.7h2.29v2.27h-2.29zM349.32 589.7h2.29v2.27h-2.29zM353.9 589.7h4.58v2.27h-4.58zM397.44 589.7h11.46v2.27h-11.46zM298.9 587.43h2.29v2.27h-2.29zM303.48 587.43h4.58v2.27h-4.58zM310.36 587.43h18.33v2.27h-18.33zM353.9 587.43h6.88v2.27h-6.88zM395.15 587.43h13.75v2.27h-13.75zM298.9 585.16h4.58v2.27h-4.58zM308.07 585.16h9.17v2.27h-9.17zM319.52 585.16h6.88v2.27h-6.88zM351.61 585.16h2.29v2.27h-2.29zM358.48 585.16h2.29v2.27h-2.29zM395.15 585.16h13.75v2.27h-13.75zM303.48 582.9h16.04v2.27h-16.04zM351.61 582.9h2.29v2.27h-2.29zM392.86 582.9h2.29v2.27h-2.29zM399.73 582.9h2.29v2.27h-2.29zM404.32 582.9h4.58v2.27h-4.58zM296.61 580.63h4.58v2.27h-4.58zM305.77 580.63h11.46v2.27h-11.46zM319.52 580.63h6.88v2.27h-6.88zM353.9 580.63h4.58v2.27h-4.58zM402.02 580.63h2.29v2.27h-2.29zM406.61 580.63h2.29v2.27h-2.29zM298.9 578.37h2.29v2.27h-2.29zM308.07 578.37h6.88v2.27h-6.88zM317.23 578.37h4.58v2.27h-4.58zM358.48 578.37h2.29v2.27h-2.29zM392.86 578.37h4.58v2.27h-4.58zM399.73 578.37h9.17v2.27h-9.17zM305.77 576.1h2.29v2.27h-2.29zM310.36 576.1h9.17v2.27h-9.17zM321.82 576.1h4.58v2.27h-4.58zM353.9 576.1h2.29v2.27h-2.29zM358.48 576.1h4.58v2.27h-4.58zM388.27 576.1h2.29v2.27h-2.29zM397.44 576.1h9.17v2.27h-9.17zM303.48 573.83h4.58v2.27h-4.58zM310.36 573.83h18.33v2.27h-18.33zM333.27 573.83h2.29v2.27h-2.29zM358.48 573.83h2.29v2.27h-2.29zM395.15 573.83h6.88v2.27h-6.88zM404.32 573.83h2.29v2.27h-2.29zM298.9 571.57h4.58v2.27h-4.58zM305.77 571.57h6.88v2.27h-6.88zM317.23 571.57h11.46v2.27h-11.46zM344.73 571.57h2.29v2.27h-2.29zM353.9 571.57h4.58v2.27h-4.58zM360.77 571.57h4.58v2.27h-4.58zM388.27 571.57h2.29v2.27h-2.29zM392.86 571.57h6.88v2.27h-6.88zM402.02 571.57h4.58v2.27h-4.58zM296.61 569.3h6.88v2.27h-6.88zM305.77 569.3h36.67v2.27h-36.67zM347.02 569.3h6.88v2.27h-6.88zM358.48 569.3h2.29v2.27h-2.29zM392.86 569.3h11.46v2.27h-11.46zM406.61 569.3h2.29v2.27h-2.29z" fill="#f9bf29"/><path d="M271.4 748.33h2.29v2.27h-2.29zM287.44 748.33h2.29v2.27h-2.29zM294.32 748.33h4.58v2.27h-4.58zM305.77 748.33h2.29v2.27h-2.29zM365.36 748.33h2.29v2.27h-2.29zM381.4 748.33h2.29v2.27h-2.29zM395.15 748.33h2.29v2.27h-2.29zM278.27 746.07h6.88v2.27h-6.88zM296.61 746.07h2.29v2.27h-2.29zM372.23 746.07h2.29v2.27h-2.29zM406.61 746.07h2.29v2.27h-2.29zM275.98 743.8h2.29v2.27h-2.29zM285.15 743.8h2.29v2.27h-2.29zM379.11 743.8h2.29v2.27h-2.29zM399.73 743.8h2.29v2.27h-2.29zM356.19 741.53h2.29v2.27h-2.29zM374.52 741.53h4.58v2.27h-4.58zM383.69 741.53h2.29v2.27h-2.29zM282.86 739.27h2.29v2.27h-2.29zM287.44 739.27h2.29v2.27h-2.29zM292.02 739.27h2.29v2.27h-2.29zM303.48 739.27h2.29v2.27h-2.29zM363.07 739.27h6.88v2.27h-6.88zM376.82 739.27h2.29v2.27h-2.29zM275.98 737h2.29v2.27h-2.29zM287.44 737h2.29v2.27h-2.29zM305.77 737h2.29v2.27h-2.29zM349.32 737h2.29v2.27h-2.29zM273.69 734.74h4.58v2.27h-4.58zM280.57 734.74h2.29v2.27h-2.29zM285.15 734.74h4.58v2.27h-4.58zM292.02 734.74h2.29v2.27h-2.29zM296.61 734.74h2.29v2.27h-2.29zM301.19 734.74h6.88v2.27h-6.88zM310.36 734.74h2.29v2.27h-2.29zM271.4 732.47h2.29v2.27h-2.29zM275.98 732.47h2.29v2.27h-2.29zM280.57 732.47h4.58v2.27h-4.58zM287.44 732.47h9.17v2.27h-9.17zM298.9 732.47h11.46v2.27h-11.46zM312.65 732.47h11.46v2.27h-11.46zM337.86 732.47h2.29v2.27h-2.29zM344.73 732.47h4.58v2.27h-4.58zM353.9 732.47h2.29v2.27h-2.29zM363.07 732.47h2.29v2.27h-2.29zM273.69 730.2h2.29v2.27h-2.29zM278.27 730.2h9.17v2.27h-9.17zM292.02 730.2h16.04v2.27h-16.04zM310.36 730.2h4.58v2.27h-4.58zM319.52 730.2h20.62v2.27h-20.62zM353.9 730.2h4.58v2.27h-4.58zM360.77 730.2h2.29v2.27h-2.29zM271.4 727.94h4.58v2.27h-4.58zM312.65 727.94h9.17v2.27h-9.17zM324.11 727.94h11.46v2.27h-11.46zM337.86 727.94h4.58v2.27h-4.58zM347.02 727.94h2.29v2.27h-2.29zM351.61 727.94h4.58v2.27h-4.58zM333.27 725.67h18.33v2.27h-18.33zM353.9 725.67h9.17v2.27h-9.17zM365.36 725.67h2.29v2.27h-2.29zM328.69 723.4h2.29v2.27h-2.29zM333.27 723.4h2.29v2.27h-2.29zM340.15 723.4h11.46v2.27h-11.46zM358.48 723.4h4.58v2.27h-4.58zM337.86 721.14h2.29v2.27h-2.29zM344.73 721.14h20.62v2.27h-20.62zM372.23 721.14h2.29v2.27h-2.29zM337.86 718.87h9.17v2.27h-9.17zM349.32 718.87h4.58v2.27h-4.58zM356.19 718.87h4.58v2.27h-4.58zM363.07 718.87h6.88v2.27h-6.88zM372.23 718.87h4.58v2.27h-4.58zM335.57 716.61h32.08v2.27h-32.08zM372.23 716.61h11.46v2.27h-11.46zM328.69 714.34h22.92v2.27h-22.92zM353.9 714.34h13.75v2.27h-13.75zM379.11 714.34h11.46v2.27h-11.46zM308.07 712.07h2.29v2.27h-2.29zM312.65 712.07h4.58v2.27h-4.58zM321.82 712.07h9.17v2.27h-9.17zM333.27 712.07h6.88v2.27h-6.88zM358.48 712.07h2.29v2.27h-2.29zM363.07 712.07h2.29v2.27h-2.29zM385.98 712.07h9.17v2.27h-9.17zM271.4 709.81h13.75v2.27h-13.75zM287.44 709.81h2.29v2.27h-2.29zM292.02 709.81h18.33v2.27h-18.33zM312.65 709.81h4.58v2.27h-4.58zM356.19 709.81h6.88v2.27h-6.88zM388.27 709.81h9.17v2.27h-9.17zM271.4 707.54h20.62v2.27h-20.62zM358.48 707.54h6.88v2.27h-6.88zM395.15 707.54h2.29v2.27h-2.29zM273.69 705.27h4.58v2.27h-4.58zM280.57 705.27h2.29v2.27h-2.29zM360.77 705.27h4.58v2.27h-4.58zM390.57 705.27h2.29v2.27h-2.29zM395.15 705.27h2.29v2.27h-2.29zM275.98 703.01h2.29v2.27h-2.29zM280.57 703.01h2.29v2.27h-2.29zM360.77 703.01h4.58v2.27h-4.58zM390.57 703.01h2.29v2.27h-2.29zM395.15 703.01h4.58v2.27h-4.58zM360.77 700.74h4.58v2.27h-4.58zM392.86 700.74h4.58v2.27h-4.58zM273.69 698.48h2.29v2.27h-2.29zM360.77 698.48h4.58v2.27h-4.58zM392.86 698.48h4.58v2.27h-4.58zM363.07 696.21h4.58v2.27h-4.58zM390.57 696.21h9.17v2.27h-9.17zM365.36 693.94h6.88v2.27h-6.88zM392.86 693.94h2.29v2.27h-2.29zM367.65 691.68h6.88v2.27h-6.88zM376.82 691.68h4.58v2.27h-4.58zM385.98 691.68h2.29v2.27h-2.29zM390.57 691.68h6.88v2.27h-6.88zM374.52 689.41h13.75v2.27h-13.75zM390.57 689.41h4.58v2.27h-4.58zM397.44 689.41h2.29v2.27h-2.29zM372.23 687.14h11.46v2.27h-11.46zM385.98 687.14h4.58v2.27h-4.58zM392.86 687.14h4.58v2.27h-4.58zM374.52 684.88h4.58v2.27h-4.58zM381.4 684.88h18.33v2.27h-18.33zM310.36 682.61h2.29v2.27h-2.29zM314.94 682.61h4.58v2.27h-4.58zM321.82 682.61h2.29v2.27h-2.29zM326.4 682.61h4.58v2.27h-4.58zM381.4 682.61h6.88v2.27h-6.88zM390.57 682.61h6.88v2.27h-6.88zM303.48 680.35h2.29v2.27h-2.29zM333.27 680.35h4.58v2.27h-4.58zM381.4 680.35h9.17v2.27h-9.17zM392.86 680.35h4.58v2.27h-4.58zM301.19 678.08h2.29v2.27h-2.29zM383.69 678.08h6.88v2.27h-6.88zM395.15 678.08h4.58v2.27h-4.58zM298.9 675.81h2.29v2.27h-2.29zM383.69 675.81h4.58v2.27h-4.58zM392.86 675.81h4.58v2.27h-4.58zM296.61 673.55h2.29v2.27h-2.29zM385.98 673.55h4.58v2.27h-4.58zM392.86 673.55h4.58v2.27h-4.58zM342.44 671.28h2.29v2.27h-2.29zM383.69 671.28h6.88v2.27h-6.88zM395.15 671.28h2.29v2.27h-2.29zM381.4 669.01h4.58v2.27h-4.58zM392.86 669.01h4.58v2.27h-4.58zM383.69 666.75h4.58v2.27h-4.58zM395.15 666.75h2.29v2.27h-2.29zM289.73 664.48h2.29v2.27h-2.29zM381.4 664.48h2.29v2.27h-2.29zM385.98 664.48h2.29v2.27h-2.29zM395.15 664.48h4.58v2.27h-4.58zM289.73 662.22h2.29v2.27h-2.29zM383.69 662.22h4.58v2.27h-4.58zM399.73 662.22h2.29v2.27h-2.29zM349.32 659.95h2.29v2.27h-2.29zM381.4 659.95h9.17v2.27h-9.17zM395.15 659.95h4.58v2.27h-4.58zM349.32 657.68h2.29v2.27h-2.29zM383.69 657.68h2.29v2.27h-2.29zM395.15 657.68h4.58v2.27h-4.58zM379.11 655.42h2.29v2.27h-2.29zM385.98 655.42h2.29v2.27h-2.29zM399.73 655.42h2.29v2.27h-2.29zM381.4 653.15h2.29v2.27h-2.29zM397.44 653.15h2.29v2.27h-2.29zM383.69 650.88h2.29v2.27h-2.29zM395.15 650.88h4.58v2.27h-4.58zM379.11 648.62h6.88v2.27h-6.88zM395.15 648.62h6.88v2.27h-6.88zM342.44 646.35h2.29v2.27h-2.29zM381.4 646.35h4.58v2.27h-4.58zM395.15 646.35h4.58v2.27h-4.58zM379.11 644.09h2.29v2.27h-2.29zM383.69 644.09h2.29v2.27h-2.29zM397.44 644.09h4.58v2.27h-4.58zM340.15 641.82h2.29v2.27h-2.29zM383.69 641.82h2.29v2.27h-2.29zM392.86 641.82h2.29v2.27h-2.29zM399.73 641.82h2.29v2.27h-2.29zM298.9 639.55h2.29v2.27h-2.29zM383.69 639.55h4.58v2.27h-4.58zM397.44 639.55h4.58v2.27h-4.58zM404.32 639.55h2.29v2.27h-2.29zM301.19 637.29h2.29v2.27h-2.29zM335.57 637.29h2.29v2.27h-2.29zM381.4 637.29h4.58v2.27h-4.58zM397.44 637.29h4.58v2.27h-4.58zM305.77 635.02h6.88v2.27h-6.88zM317.23 635.02h2.29v2.27h-2.29zM328.69 635.02h6.87v2.27h-6.87zM376.82 635.02h2.29v2.27h-2.29zM381.4 635.02h4.58v2.27h-4.58zM397.44 635.02h2.29v2.27h-2.29zM381.4 632.75h4.58v2.27h-4.58zM390.57 632.75h2.29v2.27h-2.29zM395.15 632.75h6.88v2.27h-6.88zM388.27 630.49h2.29v2.27h-2.29zM395.15 630.49h4.58v2.27h-4.58zM383.69 628.22h6.88v2.27h-6.88zM392.86 628.22h4.58v2.27h-4.58zM379.11 625.96h2.29v2.27h-2.29zM385.98 625.96h9.17v2.27h-9.17zM404.32 625.96h2.29v2.27h-2.29zM381.4 623.69h4.58v2.27h-4.58zM388.27 623.69h4.58v2.27h-4.58zM367.65 621.42h2.29v2.27h-2.29zM381.4 621.42h4.58v2.27h-4.58zM388.27 621.42h4.58v2.27h-4.58zM374.52 619.16h2.29v2.27h-2.29zM271.4 616.89h2.29v2.27h-2.29zM275.98 616.89h2.29v2.27h-2.29zM374.52 616.89h2.29v2.27h-2.29zM388.27 616.89h2.29v2.27h-2.29zM271.4 614.62h4.58v2.27h-4.58zM278.27 614.62h2.29v2.27h-2.29zM285.15 614.62h2.29v2.27h-2.29zM381.4 614.62h2.29v2.27h-2.29zM271.4 612.36h2.29v2.27h-2.29zM282.86 612.36h6.88v2.27h-6.88zM367.65 612.36h2.29v2.27h-2.29zM271.4 610.09h4.58v2.27h-4.58zM292.02 610.09h4.58v2.27h-4.58zM369.94 610.09h4.58v2.27h-4.58zM376.82 610.09h2.29v2.27h-2.29zM271.4 607.83h4.58v2.27h-4.58zM292.02 607.83h9.17v2.27h-9.17zM365.36 607.83h4.58v2.27h-4.58zM372.23 607.83h9.17v2.27h-9.17zM271.4 605.56h2.29v2.27h-2.29zM280.57 605.56h2.29v2.27h-2.29zM289.73 605.56h11.46v2.27h-11.46zM303.48 605.56h2.29v2.27h-2.29zM365.36 605.56h2.29v2.27h-2.29zM369.94 605.56h4.58v2.27h-4.58zM376.82 605.56h4.58v2.27h-4.58zM271.4 603.29h6.88v2.27h-6.88zM282.86 603.29h2.29v2.27h-2.29zM289.73 603.29h16.04v2.27h-16.04zM308.07 603.29h2.29v2.27h-2.29zM330.98 603.29h2.29v2.27h-2.29zM360.77 603.29h25.21v2.27h-25.21zM271.4 601.03h9.17v2.27h-9.17zM282.86 601.03h6.88v2.27h-6.88zM292.02 601.03h9.17v2.27h-9.17zM310.36 601.03h2.29v2.27h-2.29zM324.11 601.03h2.29v2.27h-2.29zM351.61 601.03h6.88v2.27h-6.88zM360.77 601.03h13.75v2.27h-13.75zM379.11 601.03h6.88v2.27h-6.88zM271.4 598.76h20.62v2.27h-20.62zM296.61 598.76h4.58v2.27h-4.58zM305.77 598.76h2.29v2.27h-2.29zM351.61 598.76h2.29v2.27h-2.29zM360.77 598.76h6.88v2.27h-6.88zM369.94 598.76h2.29v2.27h-2.29zM379.11 598.76h2.29v2.27h-2.29zM383.69 598.76h2.29v2.27h-2.29zM271.4 596.5h25.21v2.27h-25.21zM301.19 596.5h2.29v2.27h-2.29zM310.36 596.5h2.29v2.27h-2.29zM353.9 596.5h2.29v2.27h-2.29zM360.77 596.5h4.58v2.27h-4.58zM385.98 596.5h2.29v2.27h-2.29zM273.69 594.23h4.58v2.27h-4.58zM280.57 594.23h18.33v2.27h-18.33zM330.98 594.23h2.29v2.27h-2.29zM353.9 594.23h2.29v2.27h-2.29zM363.07 594.23h2.29v2.27h-2.29zM385.98 594.23h4.58v2.27h-4.58zM273.69 591.96h2.29v2.27h-2.29zM282.86 591.96h2.29v2.27h-2.29zM287.44 591.96h4.58v2.27h-4.58zM294.32 591.96h4.58v2.27h-4.58zM353.9 591.96h11.46v2.27h-11.46zM388.27 591.96h6.88v2.27h-6.88zM287.44 589.7h9.17v2.27h-9.17zM303.48 589.7h2.29v2.27h-2.29zM314.94 589.7h2.29v2.27h-2.29zM358.48 589.7h6.88v2.27h-6.88zM388.27 589.7h9.17v2.27h-9.17zM292.02 587.43h6.88v2.27h-6.88zM301.19 587.43h2.29v2.27h-2.29zM308.07 587.43h2.29v2.27h-2.29zM360.77 587.43h2.29v2.27h-2.29zM388.27 587.43h6.88v2.27h-6.88zM289.73 585.16h2.29v2.27h-2.29zM294.32 585.16h4.58v2.27h-4.58zM303.48 585.16h2.29v2.27h-2.29zM317.23 585.16h2.29v2.27h-2.29zM356.19 585.16h2.29v2.27h-2.29zM360.77 585.16h2.29v2.27h-2.29zM388.27 585.16h6.88v2.27h-6.88zM292.02 582.9h11.46v2.27h-11.46zM358.48 582.9h4.58v2.27h-4.58zM390.57 582.9h2.29v2.27h-2.29zM395.15 582.9h4.58v2.27h-4.58zM402.02 582.9h2.29v2.27h-2.29zM301.19 580.63h4.58v2.27h-4.58zM358.48 580.63h6.88v2.27h-6.88zM388.27 580.63h13.75v2.27h-13.75zM404.32 580.63h2.29v2.27h-2.29zM294.32 578.37h4.58v2.27h-4.58zM301.19 578.37h6.88v2.27h-6.88zM314.94 578.37h2.29v2.27h-2.29zM360.77 578.37h4.58v2.27h-4.58zM388.27 578.37h4.58v2.27h-4.58zM397.44 578.37h2.29v2.27h-2.29zM294.32 576.1h11.46v2.27h-11.46zM308.07 576.1h2.29v2.27h-2.29zM363.07 576.1h4.58v2.27h-4.58zM390.57 576.1h6.88v2.27h-6.88zM406.61 576.1h2.29v2.27h-2.29zM292.02 573.83h11.46v2.27h-11.46zM308.07 573.83h2.29v2.27h-2.29zM356.19 573.83h2.29v2.27h-2.29zM360.77 573.83h6.88v2.27h-6.88zM385.98 573.83h2.29v2.27h-2.29zM390.57 573.83h4.58v2.27h-4.58zM402.02 573.83h2.29v2.27h-2.29zM406.61 573.83h2.29v2.27h-2.29zM289.73 571.57h2.29v2.27h-2.29zM294.32 571.57h4.58v2.27h-4.58zM303.48 571.57h2.29v2.27h-2.29zM312.65 571.57h4.58v2.27h-4.58zM358.48 571.57h2.29v2.27h-2.29zM365.36 571.57h2.29v2.27h-2.29zM369.94 571.57h2.29v2.27h-2.29zM381.4 571.57h6.88v2.27h-6.88zM390.57 571.57h2.29v2.27h-2.29zM399.73 571.57h2.29v2.27h-2.29zM406.61 571.57h2.29v2.27h-2.29zM289.73 569.3h6.88v2.27h-6.88zM303.48 569.3h2.29v2.27h-2.29zM356.19 569.3h2.29v2.27h-2.29zM360.77 569.3h6.88v2.27h-6.88zM374.52 569.3h2.29v2.27h-2.29zM381.4 569.3h11.46v2.27h-11.46zM404.32 569.3h2.29v2.27h-2.29z" fill="#f7d13f"/><path d="M271.4 730.2h2.29v2.27h-2.29zM275.98 730.2h2.29v2.27h-2.29zM287.44 730.2h4.58v2.27h-4.58zM308.07 730.2h2.29v2.27h-2.29zM314.94 730.2h2.29v2.27h-2.29zM275.98 727.94h36.67v2.27h-36.67zM321.82 727.94h2.29v2.27h-2.29zM271.4 725.67h16.04v2.27h-16.04zM292.02 725.67h6.88v2.27h-6.88zM305.77 725.67h2.29v2.27h-2.29zM310.36 725.67h22.92v2.27h-22.92zM273.69 723.4h2.29v2.27h-2.29zM314.94 723.4h2.29v2.27h-2.29zM321.82 723.4h6.88v2.27h-6.88zM330.98 723.4h2.29v2.27h-2.29zM335.57 723.4h4.58v2.27h-4.58zM271.4 721.14h2.29v2.27h-2.29zM328.69 721.14h9.17v2.27h-9.17zM340.15 721.14h4.58v2.27h-4.58zM326.4 718.87h11.46v2.27h-11.46zM347.02 718.87h2.29v2.27h-2.29zM271.4 716.61h2.29v2.27h-2.29zM319.52 716.61h2.29v2.27h-2.29zM324.11 716.61h2.29v2.27h-2.29zM328.69 716.61h6.87v2.27h-6.87zM367.65 716.61h4.58v2.27h-4.58zM271.4 714.34h4.58v2.27h-4.58zM280.57 714.34h2.29v2.27h-2.29zM301.19 714.34h2.29v2.27h-2.29zM317.23 714.34h4.58v2.27h-4.58zM324.11 714.34h4.58v2.27h-4.58zM367.65 714.34h11.46v2.27h-11.46zM271.4 712.07h16.04v2.27h-16.04zM292.02 712.07h6.88v2.27h-6.88zM301.19 712.07h6.88v2.27h-6.88zM310.36 712.07h2.29v2.27h-2.29zM317.23 712.07h4.58v2.27h-4.58zM360.77 712.07h2.29v2.27h-2.29zM365.36 712.07h4.58v2.27h-4.58zM374.52 712.07h2.29v2.27h-2.29zM381.4 712.07h4.58v2.27h-4.58zM289.73 709.81h2.29v2.27h-2.29zM363.07 709.81h6.88v2.27h-6.88zM374.52 709.81h2.29v2.27h-2.29zM383.69 709.81h4.58v2.27h-4.58zM365.36 707.54h2.29v2.27h-2.29zM388.27 707.54h2.29v2.27h-2.29zM392.86 707.54h2.29v2.27h-2.29zM365.36 705.27h4.58v2.27h-4.58zM385.98 705.27h4.58v2.27h-4.58zM392.86 705.27h2.29v2.27h-2.29zM365.36 703.01h4.58v2.27h-4.58zM392.86 703.01h2.29v2.27h-2.29zM365.36 700.74h4.58v2.27h-4.58zM388.27 700.74h4.58v2.27h-4.58zM365.36 698.48h4.58v2.27h-4.58zM388.27 698.48h4.58v2.27h-4.58zM367.65 696.21h6.88v2.27h-6.88zM376.82 696.21h4.58v2.27h-4.58zM383.69 696.21h6.88v2.27h-6.88zM372.23 693.94h13.75v2.27h-13.75zM388.27 693.94h4.58v2.27h-4.58zM374.52 691.68h2.29v2.27h-2.29zM381.4 691.68h4.58v2.27h-4.58zM388.27 691.68h2.29v2.27h-2.29zM388.27 689.41h2.29v2.27h-2.29zM390.57 687.14h2.29v2.27h-2.29zM388.27 682.61h2.29v2.27h-2.29zM305.77 680.35h2.29v2.27h-2.29zM328.69 680.35h2.29v2.27h-2.29zM390.57 680.35h2.29v2.27h-2.29zM335.57 678.08h2.29v2.27h-2.29zM390.57 678.08h4.58v2.27h-4.58zM337.86 675.81h2.29v2.27h-2.29zM388.27 675.81h4.58v2.27h-4.58zM390.57 673.55h2.29v2.27h-2.29zM296.61 671.28h2.29v2.27h-2.29zM390.57 671.28h4.58v2.27h-4.58zM385.98 669.01h6.88v2.27h-6.88zM292.02 666.75h2.29v2.27h-2.29zM344.73 666.75h2.29v2.27h-2.29zM390.57 666.75h4.58v2.27h-4.58zM292.02 664.48h2.29v2.27h-2.29zM347.02 664.48h2.29v2.27h-2.29zM383.69 664.48h2.29v2.27h-2.29zM388.27 664.48h6.88v2.27h-6.88zM347.02 662.22h2.29v2.27h-2.29zM388.27 662.22h9.17v2.27h-9.17zM289.73 659.95h2.29v2.27h-2.29zM390.57 659.95h4.58v2.27h-4.58zM289.73 657.68h2.29v2.27h-2.29zM385.98 657.68h9.17v2.27h-9.17zM289.73 655.42h2.29v2.27h-2.29zM383.69 655.42h2.29v2.27h-2.29zM388.27 655.42h2.29v2.27h-2.29zM392.86 655.42h4.58v2.27h-4.58zM289.73 653.15h2.29v2.27h-2.29zM347.02 653.15h2.29v2.27h-2.29zM383.69 653.15h13.75v2.27h-13.75zM292.02 650.88h2.29v2.27h-2.29zM385.98 650.88h9.17v2.27h-9.17zM294.32 648.62h2.29v2.27h-2.29zM344.73 648.62h2.29v2.27h-2.29zM385.98 648.62h9.17v2.27h-9.17zM385.98 646.35h4.58v2.27h-4.58zM392.86 646.35h2.29v2.27h-2.29zM296.61 644.09h2.29v2.27h-2.29zM340.15 644.09h2.29v2.27h-2.29zM385.98 644.09h4.58v2.27h-4.58zM392.86 644.09h4.58v2.27h-4.58zM298.9 641.82h2.29v2.27h-2.29zM385.98 641.82h4.58v2.27h-4.58zM395.15 641.82h4.58v2.27h-4.58zM337.86 639.55h2.29v2.27h-2.29zM388.27 639.55h9.17v2.27h-9.17zM303.48 637.29h2.29v2.27h-2.29zM385.98 637.29h6.88v2.27h-6.88zM395.15 637.29h2.29v2.27h-2.29zM312.65 635.02h4.58v2.27h-4.58zM319.52 635.02h9.17v2.27h-9.17zM385.98 635.02h11.46v2.27h-11.46zM385.98 632.75h4.58v2.27h-4.58zM392.86 632.75h2.29v2.27h-2.29zM385.98 630.49h2.29v2.27h-2.29zM390.57 630.49h4.58v2.27h-4.58zM390.57 628.22h2.29v2.27h-2.29zM273.69 612.36h9.17v2.27h-9.17zM275.98 610.09h16.04v2.27h-16.04zM275.98 607.83h16.04v2.27h-16.04zM273.69 605.56h6.88v2.27h-6.88zM282.86 605.56h6.88v2.27h-6.88zM278.27 603.29h4.58v2.27h-4.58zM285.15 603.29h4.58v2.27h-4.58zM280.57 601.03h2.29v2.27h-2.29zM289.73 601.03h2.29v2.27h-2.29zM374.52 601.03h4.58v2.27h-4.58zM367.65 598.76h2.29v2.27h-2.29zM372.23 598.76h6.88v2.27h-6.88zM381.4 598.76h2.29v2.27h-2.29zM365.36 596.5h20.62v2.27h-20.62zM271.4 594.23h2.29v2.27h-2.29zM278.27 594.23h2.29v2.27h-2.29zM365.36 594.23h4.58v2.27h-4.58zM381.4 594.23h4.58v2.27h-4.58zM271.4 591.96h2.29v2.27h-2.29zM275.98 591.96h6.88v2.27h-6.88zM365.36 591.96h4.58v2.27h-4.58zM381.4 591.96h6.88v2.27h-6.88zM271.4 589.7h11.46v2.27h-11.46zM285.15 589.7h2.29v2.27h-2.29zM365.36 589.7h4.58v2.27h-4.58zM383.69 589.7h4.58v2.27h-4.58zM275.98 587.43h2.29v2.27h-2.29zM280.57 587.43h11.46v2.27h-11.46zM363.07 587.43h6.88v2.27h-6.88zM383.69 587.43h4.58v2.27h-4.58zM285.15 585.16h4.58v2.27h-4.58zM292.02 585.16h2.29v2.27h-2.29zM363.07 585.16h6.88v2.27h-6.88zM385.98 585.16h2.29v2.27h-2.29zM287.44 582.9h4.58v2.27h-4.58zM363.07 582.9h4.58v2.27h-4.58zM385.98 582.9h4.58v2.27h-4.58zM289.73 580.63h6.88v2.27h-6.88zM365.36 580.63h2.29v2.27h-2.29zM383.69 580.63h4.58v2.27h-4.58zM289.73 578.37h4.58v2.27h-4.58zM365.36 578.37h4.58v2.27h-4.58zM381.4 578.37h6.88v2.27h-6.88zM289.73 576.1h4.58v2.27h-4.58zM367.65 576.1h4.58v2.27h-4.58zM376.82 576.1h2.29v2.27h-2.29zM381.4 576.1h6.88v2.27h-6.88zM289.73 573.83h2.29v2.27h-2.29zM367.65 573.83h18.33v2.27h-18.33zM388.27 573.83h2.29v2.27h-2.29zM285.15 571.57h2.29v2.27h-2.29zM292.02 571.57h2.29v2.27h-2.29zM367.65 571.57h2.29v2.27h-2.29zM372.23 571.57h9.17v2.27h-9.17zM273.69 569.3h16.04v2.27h-16.04zM367.65 569.3h6.88v2.27h-6.88zM376.82 569.3h4.58v2.27h-4.58z" fill="#f8e15e"/><path d="M287.44 725.67h4.58v2.27h-4.58zM298.9 725.67h6.88v2.27h-6.88zM308.07 725.67h2.29v2.27h-2.29zM271.4 723.4h2.29v2.27h-2.29zM275.98 723.4h13.75v2.27h-13.75zM292.02 723.4h4.58v2.27h-4.58zM298.9 723.4h16.04v2.27h-16.04zM317.23 723.4h4.58v2.27h-4.58zM273.69 721.14h11.46v2.27h-11.46zM308.07 721.14h2.29v2.27h-2.29zM312.65 721.14h4.58v2.27h-4.58zM319.52 721.14h9.17v2.27h-9.17zM271.4 718.87h11.46v2.27h-11.46zM285.15 718.87h2.29v2.27h-2.29zM317.23 718.87h9.17v2.27h-9.17zM273.69 716.61h9.17v2.27h-9.17zM285.15 716.61h2.29v2.27h-2.29zM289.73 716.61h4.58v2.27h-4.58zM308.07 716.61h9.17v2.27h-9.17zM321.82 716.61h2.29v2.27h-2.29zM326.4 716.61h2.29v2.27h-2.29zM275.98 714.34h4.58v2.27h-4.58zM282.86 714.34h18.33v2.27h-18.33zM303.48 714.34h13.75v2.27h-13.75zM321.82 714.34h2.29v2.27h-2.29zM287.44 712.07h4.58v2.27h-4.58zM298.9 712.07h2.29v2.27h-2.29zM369.94 712.07h4.58v2.27h-4.58zM376.82 712.07h4.58v2.27h-4.58zM369.94 709.81h2.29v2.27h-2.29zM376.82 709.81h6.88v2.27h-6.88zM367.65 707.54h6.88v2.27h-6.88zM385.98 707.54h2.29v2.27h-2.29zM390.57 707.54h2.29v2.27h-2.29zM369.94 705.27h2.29v2.27h-2.29zM381.4 705.27h2.29v2.27h-2.29zM369.94 703.01h6.88v2.27h-6.88zM383.69 703.01h6.88v2.27h-6.88zM369.94 700.74h6.88v2.27h-6.88zM379.11 700.74h2.29v2.27h-2.29zM383.69 700.74h4.58v2.27h-4.58zM369.94 698.48h6.88v2.27h-6.88zM379.11 698.48h9.17v2.27h-9.17zM374.52 696.21h2.29v2.27h-2.29zM381.4 696.21h2.29v2.27h-2.29zM385.98 693.94h2.29v2.27h-2.29zM308.07 680.35h6.88v2.27h-6.88zM317.23 680.35h2.29v2.27h-2.29zM321.82 680.35h6.88v2.27h-6.88zM330.98 680.35h2.29v2.27h-2.29zM303.48 678.08h2.29v2.27h-2.29zM333.27 678.08h2.29v2.27h-2.29zM301.19 675.81h2.29v2.27h-2.29zM298.9 673.55h2.29v2.27h-2.29zM340.15 673.55h2.29v2.27h-2.29zM340.15 671.28h2.29v2.27h-2.29zM294.32 669.01h4.58v2.27h-4.58zM340.15 669.01h4.58v2.27h-4.58zM294.32 666.75h2.29v2.27h-2.29zM342.44 666.75h2.29v2.27h-2.29zM388.27 666.75h2.29v2.27h-2.29zM344.73 664.48h2.29v2.27h-2.29zM347.02 659.95h2.29v2.27h-2.29zM347.02 657.68h2.29v2.27h-2.29zM347.02 655.42h2.29v2.27h-2.29zM390.57 655.42h2.29v2.27h-2.29zM292.02 653.15h2.29v2.27h-2.29zM344.73 653.15h2.29v2.27h-2.29zM344.73 650.88h2.29v2.27h-2.29zM342.44 648.62h2.29v2.27h-2.29zM296.61 646.35h2.29v2.27h-2.29zM390.57 646.35h2.29v2.27h-2.29zM390.57 644.09h2.29v2.27h-2.29zM337.86 641.82h2.29v2.27h-2.29zM390.57 641.82h2.29v2.27h-2.29zM301.19 639.55h2.29v2.27h-2.29zM335.57 639.55h2.29v2.27h-2.29zM305.77 637.29h4.58v2.27h-4.58zM330.98 637.29h4.58v2.27h-4.58zM392.86 637.29h2.29v2.27h-2.29zM369.94 594.23h11.46v2.27h-11.46zM369.94 591.96h11.46v2.27h-11.46zM282.86 589.7h2.29v2.27h-2.29zM372.23 589.7h2.29v2.27h-2.29zM379.11 589.7h4.58v2.27h-4.58zM271.4 587.43h4.58v2.27h-4.58zM278.27 587.43h2.29v2.27h-2.29zM369.94 587.43h2.29v2.27h-2.29zM376.82 587.43h6.88v2.27h-6.88zM271.4 585.16h13.75v2.27h-13.75zM369.94 585.16h2.29v2.27h-2.29zM381.4 585.16h4.58v2.27h-4.58zM271.4 582.9h2.29v2.27h-2.29zM282.86 582.9h4.58v2.27h-4.58zM367.65 582.9h2.29v2.27h-2.29zM379.11 582.9h6.88v2.27h-6.88zM273.69 580.63h2.29v2.27h-2.29zM282.86 580.63h6.88v2.27h-6.88zM367.65 580.63h4.58v2.27h-4.58zM379.11 580.63h4.58v2.27h-4.58zM271.4 578.37h2.29v2.27h-2.29zM285.15 578.37h4.58v2.27h-4.58zM369.94 578.37h4.58v2.27h-4.58zM376.82 578.37h2.29v2.27h-2.29zM278.27 576.1h2.29v2.27h-2.29zM285.15 576.1h4.58v2.27h-4.58zM372.23 576.1h4.58v2.27h-4.58zM379.11 576.1h2.29v2.27h-2.29zM271.4 573.83h2.29v2.27h-2.29zM275.98 573.83h2.29v2.27h-2.29zM280.57 573.83h9.17v2.27h-9.17zM271.4 571.57h13.75v2.27h-13.75zM287.44 571.57h2.29v2.27h-2.29zM271.4 569.3h2.29v2.27h-2.29z" fill="#faf081"/><path d="M289.73 723.4h2.29v2.27h-2.29zM296.61 723.4h2.29v2.27h-2.29zM285.15 721.14h22.92v2.27h-22.92zM310.36 721.14h2.29v2.27h-2.29zM317.23 721.14h2.29v2.27h-2.29zM282.86 718.87h2.29v2.27h-2.29zM287.44 718.87h29.79v2.27h-29.79zM282.86 716.61h2.29v2.27h-2.29zM287.44 716.61h2.29v2.27h-2.29zM294.32 716.61h13.75v2.27h-13.75zM317.23 716.61h2.29v2.27h-2.29zM372.23 709.81h2.29v2.27h-2.29zM374.52 707.54h11.46v2.27h-11.46zM372.23 705.27h9.17v2.27h-9.17zM383.69 705.27h2.29v2.27h-2.29zM376.82 703.01h6.88v2.27h-6.88zM376.82 700.74h2.29v2.27h-2.29zM381.4 700.74h2.29v2.27h-2.29zM376.82 698.48h2.29v2.27h-2.29zM314.94 680.35h2.29v2.27h-2.29zM319.52 680.35h2.29v2.27h-2.29zM305.77 678.08h27.5v2.27h-27.5zM303.48 675.81h34.38v2.27h-34.38zM301.19 673.55h38.96v2.27h-38.96zM298.9 671.28h41.25v2.27h-41.25zM298.9 669.01h41.25v2.27h-41.25zM296.61 666.75h45.83v2.27h-45.83zM294.32 664.48h50.42v2.27h-50.42zM292.02 662.22h55v2.27h-55zM292.02 659.95h55v2.27h-55zM292.02 657.68h55v2.27h-55zM292.02 655.42h55v2.27h-55zM294.32 653.15h50.42v2.27h-50.42zM294.32 650.88h50.42v2.27h-50.42zM296.61 648.62h45.83v2.27h-45.83zM298.9 646.35h43.54v2.27h-43.54zM298.9 644.09h41.25v2.27h-41.25zM301.19 641.82h36.67v2.27h-36.67zM303.48 639.55h32.08v2.27h-32.08zM310.36 637.29h20.62v2.27h-20.62zM369.94 589.7h2.29v2.27h-2.29zM374.52 589.7h4.58v2.27h-4.58zM372.23 587.43h4.58v2.27h-4.58zM372.23 585.16h9.17v2.27h-9.17zM273.69 582.9h9.17v2.27h-9.17zM369.94 582.9h9.17v2.27h-9.17zM271.4 580.63h2.29v2.27h-2.29zM275.98 580.63h6.88v2.27h-6.88zM372.23 580.63h6.88v2.27h-6.88zM273.69 578.37h11.46v2.27h-11.46zM374.52 578.37h2.29v2.27h-2.29zM379.11 578.37h2.29v2.27h-2.29zM271.4 576.1h6.88v2.27h-6.88zM280.57 576.1h4.58v2.27h-4.58zM273.69 573.83h2.29v2.27h-2.29zM278.27 573.83h2.29v2.27h-2.29z" fill="#fcffa4"/></g><clipPath id="cpc"><rect x="271.4" y="569.3" width="137.5" height="181.3"/></clipPath><path d="M319.3 593.3L375.4 625.7L375.4 690.5L319.3 722.9L263.2 690.5L263.2 625.7ZM319.3 593.3V569.3M319.3 722.9V750.6M375.4 625.7L428.9 594.8M375.4 690.5L428.9 721.4" fill="none" stroke="#000" stroke-width="1.5" clip-path="url(#cpc)"/><rect x="271.4" y="569.3" width="137.5" height="181.3" fill="none" stroke="#262626" stroke-width="1.4"/><text x="274.9" y="772.1" font-size="16.3" text-anchor="middle" fill="#1a1a1a">-0.5</text><text x="319.3" y="772.1" font-size="16.3" text-anchor="middle" fill="#1a1a1a">0</text><text x="363.8" y="772.1" font-size="16.3" text-anchor="middle" fill="#1a1a1a">0.5</text><text x="408.2" y="772.1" font-size="16.3" text-anchor="middle" fill="#1a1a1a">1</text><text x="266.9" y="575.1" font-size="16.3" text-anchor="end" fill="#1a1a1a">1</text><text x="266.9" y="619.5" font-size="16.3" text-anchor="end" fill="#1a1a1a">0.5</text><text x="266.9" y="663.9" font-size="16.3" text-anchor="end" fill="#1a1a1a">0</text><text x="266.9" y="708.3" font-size="16.3" text-anchor="end" fill="#1a1a1a">-0.5</text><text x="266.9" y="752.7" font-size="16.3" text-anchor="end" fill="#1a1a1a">-1</text><path d="M274.9 750.6v-2.5M274.9 569.3v2.5M319.3 750.6v-2.5M319.3 569.3v2.5M363.8 750.6v-2.5M363.8 569.3v2.5M408.2 750.6v-2.5M408.2 569.3v2.5M271.4 569.3h2.5M408.9 569.3h-2.5M271.4 613.7h2.5M408.9 613.7h-2.5M271.4 658.1h2.5M408.9 658.1h-2.5M271.4 702.5h2.5M408.9 702.5h-2.5M271.4 746.9h2.5M408.9 746.9h-2.5" stroke="#262626" stroke-width="1" fill="none"/><text x="340" y="792" font-size="17.2" text-anchor="middle" fill="#1a1a1a"><tspan font-style="italic">k</tspan><tspan font-size="12.5" dy="4.5">x</tspan><tspan dy="-4.5"> (Å</tspan><tspan font-size="11.5" dy="-7">-1</tspan><tspan dy="7">)</tspan></text><text x="231" y="660" font-size="17.2" text-anchor="middle" fill="#1a1a1a" transform="rotate(-90 231 660)"><tspan font-style="italic">k</tspan><tspan font-size="12.5" dy="4.5">y</tspan><tspan dy="-4.5"> (Å</tspan><tspan font-size="11.5" dy="-7">-1</tspan><tspan dy="7">)</tspan></text><linearGradient id="infg"><stop offset="0.0" stop-color="#fcffa4"/><stop offset="0.1" stop-color="#f6d746"/><stop offset="0.2" stop-color="#fca50a"/><stop offset="0.3" stop-color="#f37819"/><stop offset="0.4" stop-color="#dd513a"/><stop offset="0.5" stop-color="#bc3754"/><stop offset="0.6" stop-color="#932667"/><stop offset="0.7" stop-color="#6a176e"/><stop offset="0.8" stop-color="#420a68"/><stop offset="0.9" stop-color="#160b39"/><stop offset="1.0" stop-color="#000004"/></linearGradient><rect x="271.4" y="554.1" width="57.9" height="11.7" fill="url(#infg)" stroke="#262626" stroke-width="0.7"/><text x="380" y="537.5" font-size="17.6" text-anchor="middle" fill="#1a1a1a">Intensity</text><text x="377.5" y="558.5" font-size="17.6" text-anchor="middle" fill="#1a1a1a">(arb. units)</text><polygon points="184.7,623.3 162.3,584.6 117.7,584.6 95.3,623.3 117.6,662 162.3,662" fill="#f0bea6" stroke="#b0aaa8" stroke-width="2" stroke-dasharray="4 3"/><polygon points="137.5,705.3 115.2,666.6 70.5,666.6 48.1,705.3 70.4,744 115.2,744" fill="#f0bea6" stroke="#b0aaa8" stroke-width="2" stroke-dasharray="4 3"/><polygon points="140,569.3 93.2,596.3 93.2,650.3 140,677.3 186.8,650.3 186.8,596.3" fill="none" stroke="#231815" stroke-width="2.5" stroke-linejoin="miter"/><polygon points="92.8,651.3 46,678.3 46,732.3 92.8,759.3 139.6,732.3 139.6,678.3" fill="none" stroke="#231815" stroke-width="2.5" stroke-linejoin="miter"/><circle cx="140" cy="624" r="2.1" fill="#000"/><text x="142.5" y="613.5" font-size="18" style="font-family:'Liberation Serif', 'Times New Roman', serif" fill="#1a1a1a">Γ</text><text x="72" y="711" font-size="18" style="font-family:'Liberation Serif', 'Times New Roman', serif" fill="#1a1a1a">Γ</text><path d="M92.8 705.3L128 705.3" stroke="#a01712" stroke-width="2.4" fill="none"/><path d="M137.5 705.3L127.2 709.9L129 705.3L127.2 700.7Z" fill="#a01712"/><path d="M92.8 705.3L75.2 674.8" stroke="#a01712" stroke-width="2.4" fill="none"/><path d="M70.5 666.6L79.6 673.2L74.7 673.9L71.6 677.8Z" fill="#a01712"/><path d="M92.8 705.3L75.2 735.8" stroke="#a01712" stroke-width="2.4" fill="none"/><path d="M70.4 744L71.6 732.8L74.7 736.7L79.6 737.4Z" fill="#a01712"/><circle cx="92.8" cy="705.3" r="1.6" fill="#a01712"/><text x="-1.2" y="574.6" font-size="29.2" font-weight="bold" fill="#000">c</text><rect x="513.7" y="77.8" width="165.2" height="160" fill="#fff"/><g shape-rendering="crispEdges"><path d="M560.9 214.53h1.97v2.91h-1.97zM568.77 214.53h9.83v2.91h-9.83zM586.47 214.53h1.97v2.91h-1.97zM564.83 211.62h1.97v2.91h-1.97zM572.7 211.62h1.97v2.91h-1.97zM578.6 211.62h1.97v2.91h-1.97zM582.53 211.62h5.9v2.91h-5.9zM560.9 208.71h1.97v2.91h-1.97zM564.83 208.71h1.97v2.91h-1.97zM568.77 208.71h1.97v2.91h-1.97zM576.63 208.71h1.97v2.91h-1.97zM580.57 208.71h3.93v2.91h-3.93zM586.47 208.71h1.97v2.91h-1.97zM590.4 208.71h3.93v2.91h-3.93zM655.3 208.71h1.97v2.91h-1.97zM549.1 205.8h3.93v2.91h-3.93zM558.93 205.8h1.97v2.91h-1.97zM566.8 205.8h5.9v2.91h-5.9zM574.67 205.8h5.9v2.91h-5.9zM590.4 205.8h1.97v2.91h-1.97zM543.2 202.89h1.97v2.91h-1.97zM549.1 202.89h1.97v2.91h-1.97zM553.03 202.89h3.93v2.91h-3.93zM558.93 202.89h1.97v2.91h-1.97zM562.87 202.89h15.73v2.91h-15.73zM580.57 202.89h1.97v2.91h-1.97zM584.5 202.89h7.87v2.91h-7.87zM663.17 202.89h1.97v2.91h-1.97zM547.13 199.98h1.97v2.91h-1.97zM553.03 199.98h23.6v2.91h-23.6zM578.6 199.98h3.93v2.91h-3.93zM584.5 199.98h1.97v2.91h-1.97zM588.43 199.98h1.97v2.91h-1.97zM592.37 199.98h3.93v2.91h-3.93zM545.17 197.07h1.97v2.91h-1.97zM549.1 197.07h1.97v2.91h-1.97zM553.03 197.07h7.87v2.91h-7.87zM562.87 197.07h1.97v2.91h-1.97zM566.8 197.07h1.97v2.91h-1.97zM570.73 197.07h21.63v2.91h-21.63zM596.3 197.07h1.97v2.91h-1.97zM553.03 194.16h5.9v2.91h-5.9zM562.87 194.16h1.97v2.91h-1.97zM568.77 194.16h1.97v2.91h-1.97zM572.7 194.16h5.9v2.91h-5.9zM580.57 194.16h1.97v2.91h-1.97zM586.47 194.16h3.93v2.91h-3.93zM545.17 191.25h3.93v2.91h-3.93zM551.07 191.25h1.97v2.91h-1.97zM555 191.25h3.93v2.91h-3.93zM560.9 191.25h13.77v2.91h-13.77zM578.6 191.25h1.97v2.91h-1.97zM582.53 191.25h5.9v2.91h-5.9zM590.4 191.25h1.97v2.91h-1.97zM545.17 188.35h1.97v2.91h-1.97zM549.1 188.35h1.97v2.91h-1.97zM558.93 188.35h5.9v2.91h-5.9zM568.77 188.35h11.8v2.91h-11.8zM582.53 188.35h1.97v2.91h-1.97zM590.4 188.35h1.97v2.91h-1.97zM665.13 188.35h3.93v2.91h-3.93zM541.23 185.44h1.97v2.91h-1.97zM560.9 185.44h5.9v2.91h-5.9zM568.77 185.44h1.97v2.91h-1.97zM578.6 185.44h1.97v2.91h-1.97zM582.53 185.44h5.9v2.91h-5.9zM667.1 185.44h1.97v2.91h-1.97zM539.27 182.53h1.97v2.91h-1.97zM545.17 182.53h3.93v2.91h-3.93zM553.03 182.53h3.93v2.91h-3.93zM560.9 182.53h9.83v2.91h-9.83zM572.7 182.53h11.8v2.91h-11.8zM586.47 182.53h1.97v2.91h-1.97zM655.3 182.53h1.97v2.91h-1.97zM551.07 179.62h1.97v2.91h-1.97zM556.97 179.62h7.87v2.91h-7.87zM566.8 179.62h1.97v2.91h-1.97zM572.7 179.62h1.97v2.91h-1.97zM578.6 179.62h1.97v2.91h-1.97zM653.33 179.62h1.97v2.91h-1.97zM537.3 176.71h1.97v2.91h-1.97zM543.2 176.71h1.97v2.91h-1.97zM547.13 176.71h3.93v2.91h-3.93zM553.03 176.71h1.97v2.91h-1.97zM558.93 176.71h3.93v2.91h-3.93zM566.8 176.71h7.87v2.91h-7.87zM578.6 176.71h1.97v2.91h-1.97zM582.53 176.71h1.97v2.91h-1.97zM586.47 176.71h1.97v2.91h-1.97zM592.37 176.71h1.97v2.91h-1.97zM669.07 176.71h1.97v2.91h-1.97zM541.23 173.8h5.9v2.91h-5.9zM549.1 173.8h1.97v2.91h-1.97zM553.03 173.8h1.97v2.91h-1.97zM558.93 173.8h3.93v2.91h-3.93zM564.83 173.8h1.97v2.91h-1.97zM568.77 173.8h13.77v2.91h-13.77zM586.47 173.8h1.97v2.91h-1.97zM545.17 170.89h3.93v2.91h-3.93zM555 170.89h3.93v2.91h-3.93zM562.87 170.89h1.97v2.91h-1.97zM566.8 170.89h1.97v2.91h-1.97zM572.7 170.89h3.93v2.91h-3.93zM578.6 170.89h1.97v2.91h-1.97zM582.53 170.89h1.97v2.91h-1.97zM545.17 167.98h1.97v2.91h-1.97zM551.07 167.98h1.97v2.91h-1.97zM555 167.98h3.93v2.91h-3.93zM560.9 167.98h3.93v2.91h-3.93zM566.8 167.98h1.97v2.91h-1.97zM570.73 167.98h1.97v2.91h-1.97zM574.67 167.98h5.9v2.91h-5.9zM586.47 167.98h1.97v2.91h-1.97zM592.37 167.98h3.93v2.91h-3.93zM543.2 165.07h1.97v2.91h-1.97zM547.13 165.07h3.93v2.91h-3.93zM553.03 165.07h3.93v2.91h-3.93zM560.9 165.07h11.8v2.91h-11.8zM574.67 165.07h3.93v2.91h-3.93zM580.57 165.07h7.87v2.91h-7.87zM543.2 162.16h5.9v2.91h-5.9zM553.03 162.16h13.77v2.91h-13.77zM568.77 162.16h3.93v2.91h-3.93zM574.67 162.16h1.97v2.91h-1.97zM578.6 162.16h5.9v2.91h-5.9zM586.47 162.16h1.97v2.91h-1.97zM590.4 162.16h1.97v2.91h-1.97zM547.13 159.25h1.97v2.91h-1.97zM551.07 159.25h3.93v2.91h-3.93zM558.93 159.25h1.97v2.91h-1.97zM564.83 159.25h7.87v2.91h-7.87zM576.63 159.25h3.93v2.91h-3.93zM582.53 159.25h5.9v2.91h-5.9zM547.13 156.35h1.97v2.91h-1.97zM555 156.35h3.93v2.91h-3.93zM572.7 156.35h3.93v2.91h-3.93zM580.57 156.35h1.97v2.91h-1.97zM555 153.44h3.93v2.91h-3.93zM566.8 153.44h1.97v2.91h-1.97zM570.73 153.44h1.97v2.91h-1.97zM574.67 153.44h1.97v2.91h-1.97zM578.6 153.44h1.97v2.91h-1.97zM553.03 150.53h3.93v2.91h-3.93zM564.83 150.53h1.97v2.91h-1.97zM572.7 150.53h1.97v2.91h-1.97zM584.5 150.53h1.97v2.91h-1.97zM588.43 150.53h1.97v2.91h-1.97zM551.07 147.62h1.97v2.91h-1.97zM555 147.62h1.97v2.91h-1.97zM562.87 147.62h3.93v2.91h-3.93zM568.77 147.62h3.93v2.91h-3.93zM576.63 147.62h1.97v2.91h-1.97zM580.57 147.62h1.97v2.91h-1.97zM586.47 147.62h3.93v2.91h-3.93zM529.43 144.71h1.97v2.91h-1.97zM545.17 144.71h1.97v2.91h-1.97zM555 144.71h5.9v2.91h-5.9zM562.87 144.71h3.93v2.91h-3.93zM551.07 141.8h1.97v2.91h-1.97zM566.8 141.8h5.9v2.91h-5.9zM580.57 141.8h1.97v2.91h-1.97zM574.67 138.89h1.97v2.91h-1.97zM560.9 135.98h1.97v2.91h-1.97zM564.83 135.98h1.97v2.91h-1.97zM562.87 133.07h1.97v2.91h-1.97zM555 130.16h3.93v2.91h-3.93zM576.63 130.16h1.97v2.91h-1.97zM558.93 127.25h1.97v2.91h-1.97zM576.63 127.25h1.97v2.91h-1.97zM651.37 124.35h1.97v2.91h-1.97zM545.17 121.44h1.97v2.91h-1.97zM647.43 118.53h1.97v2.91h-1.97zM655.3 115.62h1.97v2.91h-1.97zM562.87 112.71h1.97v2.91h-1.97zM665.13 103.98h1.97v2.91h-1.97zM576.63 101.07h1.97v2.91h-1.97zM655.3 101.07h1.97v2.91h-1.97zM614 98.16h1.97v2.91h-1.97zM635.63 98.16h1.97v2.91h-1.97z" fill="#440154"/><path d="M541.23 214.53h1.97v2.91h-1.97zM545.17 214.53h3.93v2.91h-3.93zM551.07 214.53h9.83v2.91h-9.83zM562.87 214.53h5.9v2.91h-5.9zM578.6 214.53h3.93v2.91h-3.93zM584.5 214.53h1.97v2.91h-1.97zM592.37 214.53h1.97v2.91h-1.97zM598.27 214.53h1.97v2.91h-1.97zM547.13 211.62h17.7v2.91h-17.7zM566.8 211.62h5.9v2.91h-5.9zM574.67 211.62h3.93v2.91h-3.93zM580.57 211.62h1.97v2.91h-1.97zM592.37 211.62h3.93v2.91h-3.93zM537.3 208.71h1.97v2.91h-1.97zM541.23 208.71h1.97v2.91h-1.97zM547.13 208.71h13.77v2.91h-13.77zM562.87 208.71h1.97v2.91h-1.97zM566.8 208.71h1.97v2.91h-1.97zM570.73 208.71h5.9v2.91h-5.9zM578.6 208.71h1.97v2.91h-1.97zM584.5 208.71h1.97v2.91h-1.97zM588.43 208.71h1.97v2.91h-1.97zM594.33 208.71h3.93v2.91h-3.93zM651.37 208.71h3.93v2.91h-3.93zM657.27 208.71h1.97v2.91h-1.97zM543.2 205.8h5.9v2.91h-5.9zM553.03 205.8h5.9v2.91h-5.9zM560.9 205.8h5.9v2.91h-5.9zM572.7 205.8h1.97v2.91h-1.97zM580.57 205.8h9.83v2.91h-9.83zM592.37 205.8h1.97v2.91h-1.97zM596.3 205.8h1.97v2.91h-1.97zM645.47 205.8h3.93v2.91h-3.93zM651.37 205.8h5.9v2.91h-5.9zM659.23 205.8h3.93v2.91h-3.93zM667.1 205.8h1.97v2.91h-1.97zM535.33 202.89h1.97v2.91h-1.97zM539.27 202.89h3.93v2.91h-3.93zM547.13 202.89h1.97v2.91h-1.97zM551.07 202.89h1.97v2.91h-1.97zM556.97 202.89h1.97v2.91h-1.97zM560.9 202.89h1.97v2.91h-1.97zM578.6 202.89h1.97v2.91h-1.97zM582.53 202.89h1.97v2.91h-1.97zM592.37 202.89h5.9v2.91h-5.9zM600.23 202.89h1.97v2.91h-1.97zM647.43 202.89h3.93v2.91h-3.93zM655.3 202.89h1.97v2.91h-1.97zM659.23 202.89h3.93v2.91h-3.93zM535.33 199.98h1.97v2.91h-1.97zM539.27 199.98h7.87v2.91h-7.87zM549.1 199.98h3.93v2.91h-3.93zM576.63 199.98h1.97v2.91h-1.97zM582.53 199.98h1.97v2.91h-1.97zM586.47 199.98h1.97v2.91h-1.97zM590.4 199.98h1.97v2.91h-1.97zM596.3 199.98h1.97v2.91h-1.97zM651.37 199.98h7.87v2.91h-7.87zM661.2 199.98h3.93v2.91h-3.93zM667.1 199.98h1.97v2.91h-1.97zM537.3 197.07h1.97v2.91h-1.97zM541.23 197.07h3.93v2.91h-3.93zM547.13 197.07h1.97v2.91h-1.97zM551.07 197.07h1.97v2.91h-1.97zM560.9 197.07h1.97v2.91h-1.97zM564.83 197.07h1.97v2.91h-1.97zM568.77 197.07h1.97v2.91h-1.97zM592.37 197.07h3.93v2.91h-3.93zM598.27 197.07h3.93v2.91h-3.93zM649.4 197.07h7.87v2.91h-7.87zM659.23 197.07h1.97v2.91h-1.97zM663.17 197.07h1.97v2.91h-1.97zM539.27 194.16h1.97v2.91h-1.97zM543.2 194.16h9.83v2.91h-9.83zM558.93 194.16h3.93v2.91h-3.93zM564.83 194.16h3.93v2.91h-3.93zM570.73 194.16h1.97v2.91h-1.97zM578.6 194.16h1.97v2.91h-1.97zM582.53 194.16h3.93v2.91h-3.93zM590.4 194.16h11.8v2.91h-11.8zM647.43 194.16h1.97v2.91h-1.97zM653.33 194.16h1.97v2.91h-1.97zM657.27 194.16h9.83v2.91h-9.83zM537.3 191.25h1.97v2.91h-1.97zM541.23 191.25h3.93v2.91h-3.93zM553.03 191.25h1.97v2.91h-1.97zM558.93 191.25h1.97v2.91h-1.97zM574.67 191.25h3.93v2.91h-3.93zM580.57 191.25h1.97v2.91h-1.97zM588.43 191.25h1.97v2.91h-1.97zM592.37 191.25h9.83v2.91h-9.83zM647.43 191.25h13.77v2.91h-13.77zM674.97 191.25h1.97v2.91h-1.97zM537.3 188.35h1.97v2.91h-1.97zM541.23 188.35h1.97v2.91h-1.97zM547.13 188.35h1.97v2.91h-1.97zM551.07 188.35h7.87v2.91h-7.87zM564.83 188.35h3.93v2.91h-3.93zM580.57 188.35h1.97v2.91h-1.97zM584.5 188.35h5.9v2.91h-5.9zM592.37 188.35h7.87v2.91h-7.87zM602.2 188.35h1.97v2.91h-1.97zM651.37 188.35h5.9v2.91h-5.9zM661.2 188.35h1.97v2.91h-1.97zM535.33 185.44h5.9v2.91h-5.9zM543.2 185.44h17.7v2.91h-17.7zM566.8 185.44h1.97v2.91h-1.97zM570.73 185.44h7.87v2.91h-7.87zM580.57 185.44h1.97v2.91h-1.97zM588.43 185.44h7.87v2.91h-7.87zM598.27 185.44h1.97v2.91h-1.97zM647.43 185.44h3.93v2.91h-3.93zM653.33 185.44h9.83v2.91h-9.83zM665.13 185.44h1.97v2.91h-1.97zM533.37 182.53h1.97v2.91h-1.97zM537.3 182.53h1.97v2.91h-1.97zM541.23 182.53h3.93v2.91h-3.93zM549.1 182.53h3.93v2.91h-3.93zM556.97 182.53h3.93v2.91h-3.93zM570.73 182.53h1.97v2.91h-1.97zM584.5 182.53h1.97v2.91h-1.97zM588.43 182.53h7.87v2.91h-7.87zM600.23 182.53h1.97v2.91h-1.97zM649.4 182.53h5.9v2.91h-5.9zM657.27 182.53h1.97v2.91h-1.97zM663.17 182.53h3.93v2.91h-3.93zM669.07 182.53h3.93v2.91h-3.93zM539.27 179.62h11.8v2.91h-11.8zM553.03 179.62h3.93v2.91h-3.93zM564.83 179.62h1.97v2.91h-1.97zM568.77 179.62h3.93v2.91h-3.93zM574.67 179.62h3.93v2.91h-3.93zM580.57 179.62h15.73v2.91h-15.73zM602.2 179.62h1.97v2.91h-1.97zM655.3 179.62h1.97v2.91h-1.97zM659.23 179.62h7.87v2.91h-7.87zM541.23 176.71h1.97v2.91h-1.97zM545.17 176.71h1.97v2.91h-1.97zM551.07 176.71h1.97v2.91h-1.97zM555 176.71h3.93v2.91h-3.93zM562.87 176.71h3.93v2.91h-3.93zM574.67 176.71h3.93v2.91h-3.93zM580.57 176.71h1.97v2.91h-1.97zM584.5 176.71h1.97v2.91h-1.97zM588.43 176.71h1.97v2.91h-1.97zM594.33 176.71h3.93v2.91h-3.93zM602.2 176.71h1.97v2.91h-1.97zM645.47 176.71h1.97v2.91h-1.97zM649.4 176.71h3.93v2.91h-3.93zM655.3 176.71h1.97v2.91h-1.97zM659.23 176.71h3.93v2.91h-3.93zM529.43 173.8h1.97v2.91h-1.97zM537.3 173.8h1.97v2.91h-1.97zM547.13 173.8h1.97v2.91h-1.97zM551.07 173.8h1.97v2.91h-1.97zM555 173.8h3.93v2.91h-3.93zM562.87 173.8h1.97v2.91h-1.97zM566.8 173.8h1.97v2.91h-1.97zM582.53 173.8h3.93v2.91h-3.93zM588.43 173.8h3.93v2.91h-3.93zM594.33 173.8h1.97v2.91h-1.97zM598.27 173.8h3.93v2.91h-3.93zM604.17 173.8h1.97v2.91h-1.97zM645.47 173.8h3.93v2.91h-3.93zM651.37 173.8h1.97v2.91h-1.97zM655.3 173.8h1.97v2.91h-1.97zM661.2 173.8h5.9v2.91h-5.9zM529.43 170.89h1.97v2.91h-1.97zM533.37 170.89h1.97v2.91h-1.97zM537.3 170.89h1.97v2.91h-1.97zM541.23 170.89h3.93v2.91h-3.93zM549.1 170.89h5.9v2.91h-5.9zM558.93 170.89h3.93v2.91h-3.93zM564.83 170.89h1.97v2.91h-1.97zM568.77 170.89h3.93v2.91h-3.93zM576.63 170.89h1.97v2.91h-1.97zM580.57 170.89h1.97v2.91h-1.97zM584.5 170.89h3.93v2.91h-3.93zM590.4 170.89h9.83v2.91h-9.83zM647.43 170.89h1.97v2.91h-1.97zM657.27 170.89h5.9v2.91h-5.9zM667.1 170.89h1.97v2.91h-1.97zM531.4 167.98h1.97v2.91h-1.97zM535.33 167.98h3.93v2.91h-3.93zM541.23 167.98h3.93v2.91h-3.93zM547.13 167.98h3.93v2.91h-3.93zM553.03 167.98h1.97v2.91h-1.97zM558.93 167.98h1.97v2.91h-1.97zM564.83 167.98h1.97v2.91h-1.97zM568.77 167.98h1.97v2.91h-1.97zM572.7 167.98h1.97v2.91h-1.97zM580.57 167.98h5.9v2.91h-5.9zM588.43 167.98h3.93v2.91h-3.93zM596.3 167.98h1.97v2.91h-1.97zM600.23 167.98h1.97v2.91h-1.97zM641.53 167.98h1.97v2.91h-1.97zM651.37 167.98h7.87v2.91h-7.87zM661.2 167.98h1.97v2.91h-1.97zM665.13 167.98h1.97v2.91h-1.97zM531.4 165.07h1.97v2.91h-1.97zM537.3 165.07h1.97v2.91h-1.97zM545.17 165.07h1.97v2.91h-1.97zM556.97 165.07h3.93v2.91h-3.93zM572.7 165.07h1.97v2.91h-1.97zM578.6 165.07h1.97v2.91h-1.97zM588.43 165.07h5.9v2.91h-5.9zM596.3 165.07h3.93v2.91h-3.93zM643.5 165.07h1.97v2.91h-1.97zM647.43 165.07h3.93v2.91h-3.93zM653.33 165.07h1.97v2.91h-1.97zM657.27 165.07h3.93v2.91h-3.93zM533.37 162.16h5.9v2.91h-5.9zM541.23 162.16h1.97v2.91h-1.97zM549.1 162.16h3.93v2.91h-3.93zM566.8 162.16h1.97v2.91h-1.97zM572.7 162.16h1.97v2.91h-1.97zM576.63 162.16h1.97v2.91h-1.97zM584.5 162.16h1.97v2.91h-1.97zM588.43 162.16h1.97v2.91h-1.97zM592.37 162.16h1.97v2.91h-1.97zM596.3 162.16h1.97v2.91h-1.97zM647.43 162.16h3.93v2.91h-3.93zM655.3 162.16h1.97v2.91h-1.97zM533.37 159.25h5.9v2.91h-5.9zM541.23 159.25h5.9v2.91h-5.9zM549.1 159.25h1.97v2.91h-1.97zM555 159.25h3.93v2.91h-3.93zM560.9 159.25h1.97v2.91h-1.97zM572.7 159.25h3.93v2.91h-3.93zM580.57 159.25h1.97v2.91h-1.97zM588.43 159.25h3.93v2.91h-3.93zM594.33 159.25h5.9v2.91h-5.9zM602.2 159.25h1.97v2.91h-1.97zM649.4 159.25h1.97v2.91h-1.97zM533.37 156.35h1.97v2.91h-1.97zM537.3 156.35h5.9v2.91h-5.9zM545.17 156.35h1.97v2.91h-1.97zM549.1 156.35h5.9v2.91h-5.9zM558.93 156.35h13.77v2.91h-13.77zM576.63 156.35h3.93v2.91h-3.93zM582.53 156.35h5.9v2.91h-5.9zM594.33 156.35h1.97v2.91h-1.97zM600.23 156.35h1.97v2.91h-1.97zM529.43 153.44h1.97v2.91h-1.97zM535.33 153.44h1.97v2.91h-1.97zM539.27 153.44h15.73v2.91h-15.73zM558.93 153.44h7.87v2.91h-7.87zM568.77 153.44h1.97v2.91h-1.97zM576.63 153.44h1.97v2.91h-1.97zM580.57 153.44h3.93v2.91h-3.93zM586.47 153.44h1.97v2.91h-1.97zM592.37 153.44h1.97v2.91h-1.97zM598.27 153.44h1.97v2.91h-1.97zM643.5 153.44h1.97v2.91h-1.97zM531.4 150.53h1.97v2.91h-1.97zM535.33 150.53h3.93v2.91h-3.93zM545.17 150.53h7.87v2.91h-7.87zM556.97 150.53h7.87v2.91h-7.87zM566.8 150.53h5.9v2.91h-5.9zM574.67 150.53h5.9v2.91h-5.9zM582.53 150.53h1.97v2.91h-1.97zM586.47 150.53h1.97v2.91h-1.97zM592.37 150.53h1.97v2.91h-1.97zM600.23 150.53h3.93v2.91h-3.93zM535.33 147.62h3.93v2.91h-3.93zM541.23 147.62h9.83v2.91h-9.83zM553.03 147.62h1.97v2.91h-1.97zM556.97 147.62h5.9v2.91h-5.9zM566.8 147.62h1.97v2.91h-1.97zM574.67 147.62h1.97v2.91h-1.97zM578.6 147.62h1.97v2.91h-1.97zM582.53 147.62h3.93v2.91h-3.93zM590.4 147.62h3.93v2.91h-3.93zM543.2 144.71h1.97v2.91h-1.97zM547.13 144.71h5.9v2.91h-5.9zM560.9 144.71h1.97v2.91h-1.97zM566.8 144.71h19.67v2.91h-19.67zM588.43 144.71h1.97v2.91h-1.97zM592.37 144.71h1.97v2.91h-1.97zM529.43 141.8h1.97v2.91h-1.97zM537.3 141.8h3.93v2.91h-3.93zM543.2 141.8h7.87v2.91h-7.87zM553.03 141.8h3.93v2.91h-3.93zM558.93 141.8h5.9v2.91h-5.9zM572.7 141.8h7.87v2.91h-7.87zM582.53 141.8h7.87v2.91h-7.87zM592.37 141.8h1.97v2.91h-1.97zM596.3 141.8h1.97v2.91h-1.97zM539.27 138.89h5.9v2.91h-5.9zM547.13 138.89h27.53v2.91h-27.53zM576.63 138.89h19.67v2.91h-19.67zM600.23 138.89h1.97v2.91h-1.97zM608.1 138.89h1.97v2.91h-1.97zM645.47 138.89h3.93v2.91h-3.93zM537.3 135.98h5.9v2.91h-5.9zM549.1 135.98h5.9v2.91h-5.9zM556.97 135.98h3.93v2.91h-3.93zM566.8 135.98h1.97v2.91h-1.97zM572.7 135.98h1.97v2.91h-1.97zM582.53 135.98h1.97v2.91h-1.97zM588.43 135.98h3.93v2.91h-3.93zM612.03 135.98h1.97v2.91h-1.97zM535.33 133.07h7.87v2.91h-7.87zM547.13 133.07h9.83v2.91h-9.83zM558.93 133.07h3.93v2.91h-3.93zM564.83 133.07h17.7v2.91h-17.7zM590.4 133.07h1.97v2.91h-1.97zM594.33 133.07h1.97v2.91h-1.97zM537.3 130.16h3.93v2.91h-3.93zM543.2 130.16h5.9v2.91h-5.9zM551.07 130.16h1.97v2.91h-1.97zM558.93 130.16h1.97v2.91h-1.97zM564.83 130.16h11.8v2.91h-11.8zM578.6 130.16h5.9v2.91h-5.9zM586.47 130.16h3.93v2.91h-3.93zM592.37 130.16h1.97v2.91h-1.97zM596.3 130.16h1.97v2.91h-1.97zM639.57 130.16h3.93v2.91h-3.93zM647.43 130.16h1.97v2.91h-1.97zM533.37 127.25h1.97v2.91h-1.97zM541.23 127.25h5.9v2.91h-5.9zM549.1 127.25h1.97v2.91h-1.97zM555 127.25h1.97v2.91h-1.97zM560.9 127.25h1.97v2.91h-1.97zM564.83 127.25h5.9v2.91h-5.9zM572.7 127.25h3.93v2.91h-3.93zM580.57 127.25h1.97v2.91h-1.97zM584.5 127.25h5.9v2.91h-5.9zM602.2 127.25h1.97v2.91h-1.97zM641.53 127.25h1.97v2.91h-1.97zM647.43 127.25h5.9v2.91h-5.9zM525.5 124.35h1.97v2.91h-1.97zM533.37 124.35h1.97v2.91h-1.97zM545.17 124.35h1.97v2.91h-1.97zM549.1 124.35h7.87v2.91h-7.87zM558.93 124.35h1.97v2.91h-1.97zM566.8 124.35h3.93v2.91h-3.93zM574.67 124.35h9.83v2.91h-9.83zM586.47 124.35h3.93v2.91h-3.93zM600.23 124.35h3.93v2.91h-3.93zM537.3 121.44h1.97v2.91h-1.97zM549.1 121.44h9.83v2.91h-9.83zM560.9 121.44h1.97v2.91h-1.97zM570.73 121.44h3.93v2.91h-3.93zM580.57 121.44h5.9v2.91h-5.9zM588.43 121.44h5.9v2.91h-5.9zM635.63 121.44h1.97v2.91h-1.97zM649.4 121.44h1.97v2.91h-1.97zM653.33 121.44h1.97v2.91h-1.97zM517.63 118.53h1.97v2.91h-1.97zM545.17 118.53h1.97v2.91h-1.97zM549.1 118.53h3.93v2.91h-3.93zM555 118.53h1.97v2.91h-1.97zM560.9 118.53h3.93v2.91h-3.93zM566.8 118.53h3.93v2.91h-3.93zM576.63 118.53h3.93v2.91h-3.93zM582.53 118.53h5.9v2.91h-5.9zM590.4 118.53h1.97v2.91h-1.97zM594.33 118.53h1.97v2.91h-1.97zM614 118.53h1.97v2.91h-1.97zM653.33 118.53h3.93v2.91h-3.93zM533.37 115.62h1.97v2.91h-1.97zM537.3 115.62h3.93v2.91h-3.93zM545.17 115.62h1.97v2.91h-1.97zM555 115.62h1.97v2.91h-1.97zM560.9 115.62h1.97v2.91h-1.97zM564.83 115.62h3.93v2.91h-3.93zM570.73 115.62h1.97v2.91h-1.97zM574.67 115.62h1.97v2.91h-1.97zM578.6 115.62h1.97v2.91h-1.97zM582.53 115.62h7.87v2.91h-7.87zM594.33 115.62h1.97v2.91h-1.97zM604.17 115.62h1.97v2.91h-1.97zM608.1 115.62h1.97v2.91h-1.97zM635.63 115.62h1.97v2.91h-1.97zM649.4 115.62h1.97v2.91h-1.97zM537.3 112.71h3.93v2.91h-3.93zM543.2 112.71h1.97v2.91h-1.97zM549.1 112.71h3.93v2.91h-3.93zM564.83 112.71h1.97v2.91h-1.97zM568.77 112.71h1.97v2.91h-1.97zM578.6 112.71h1.97v2.91h-1.97zM582.53 112.71h5.9v2.91h-5.9zM590.4 112.71h7.87v2.91h-7.87zM600.23 112.71h1.97v2.91h-1.97zM645.47 112.71h1.97v2.91h-1.97zM649.4 112.71h5.9v2.91h-5.9zM657.27 112.71h1.97v2.91h-1.97zM519.6 109.8h1.97v2.91h-1.97zM531.4 109.8h1.97v2.91h-1.97zM537.3 109.8h3.93v2.91h-3.93zM543.2 109.8h3.93v2.91h-3.93zM551.07 109.8h1.97v2.91h-1.97zM564.83 109.8h1.97v2.91h-1.97zM572.7 109.8h3.93v2.91h-3.93zM580.57 109.8h13.77v2.91h-13.77zM596.3 109.8h3.93v2.91h-3.93zM631.7 109.8h1.97v2.91h-1.97zM655.3 109.8h3.93v2.91h-3.93zM665.13 109.8h1.97v2.91h-1.97zM531.4 106.89h1.97v2.91h-1.97zM539.27 106.89h1.97v2.91h-1.97zM553.03 106.89h7.87v2.91h-7.87zM564.83 106.89h3.93v2.91h-3.93zM570.73 106.89h7.87v2.91h-7.87zM580.57 106.89h1.97v2.91h-1.97zM586.47 106.89h13.77v2.91h-13.77zM602.2 106.89h1.97v2.91h-1.97zM606.13 106.89h1.97v2.91h-1.97zM635.63 106.89h3.93v2.91h-3.93zM653.33 106.89h7.87v2.91h-7.87zM667.1 106.89h5.9v2.91h-5.9zM523.53 103.98h1.97v2.91h-1.97zM535.33 103.98h1.97v2.91h-1.97zM541.23 103.98h3.93v2.91h-3.93zM547.13 103.98h1.97v2.91h-1.97zM553.03 103.98h1.97v2.91h-1.97zM566.8 103.98h1.97v2.91h-1.97zM572.7 103.98h3.93v2.91h-3.93zM578.6 103.98h1.97v2.91h-1.97zM586.47 103.98h1.97v2.91h-1.97zM594.33 103.98h1.97v2.91h-1.97zM604.17 103.98h1.97v2.91h-1.97zM608.1 103.98h1.97v2.91h-1.97zM643.5 103.98h1.97v2.91h-1.97zM655.3 103.98h9.83v2.91h-9.83zM669.07 103.98h9.83v2.91h-9.83zM531.4 101.07h1.97v2.91h-1.97zM537.3 101.07h5.9v2.91h-5.9zM553.03 101.07h1.97v2.91h-1.97zM560.9 101.07h3.93v2.91h-3.93zM566.8 101.07h3.93v2.91h-3.93zM574.67 101.07h1.97v2.91h-1.97zM578.6 101.07h1.97v2.91h-1.97zM588.43 101.07h1.97v2.91h-1.97zM592.37 101.07h1.97v2.91h-1.97zM606.13 101.07h1.97v2.91h-1.97zM625.8 101.07h1.97v2.91h-1.97zM631.7 101.07h1.97v2.91h-1.97zM639.57 101.07h3.93v2.91h-3.93zM649.4 101.07h1.97v2.91h-1.97zM659.23 101.07h1.97v2.91h-1.97zM665.13 101.07h3.93v2.91h-3.93zM674.97 101.07h1.97v2.91h-1.97zM553.03 98.16h1.97v2.91h-1.97zM560.9 98.16h1.97v2.91h-1.97zM566.8 98.16h3.93v2.91h-3.93zM574.67 98.16h3.93v2.91h-3.93zM580.57 98.16h7.87v2.91h-7.87zM590.4 98.16h1.97v2.91h-1.97zM594.33 98.16h3.93v2.91h-3.93zM637.6 98.16h1.97v2.91h-1.97zM641.53 98.16h1.97v2.91h-1.97zM655.3 98.16h15.73v2.91h-15.73zM673 98.16h5.9v2.91h-5.9zM551.07 95.25h1.97v2.91h-1.97zM560.9 95.25h1.97v2.91h-1.97zM566.8 95.25h5.9v2.91h-5.9zM582.53 95.25h5.9v2.91h-5.9zM590.4 95.25h5.9v2.91h-5.9zM612.03 95.25h5.9v2.91h-5.9zM619.9 95.25h1.97v2.91h-1.97zM637.6 95.25h1.97v2.91h-1.97zM643.5 95.25h1.97v2.91h-1.97zM655.3 95.25h1.97v2.91h-1.97zM659.23 95.25h3.93v2.91h-3.93zM669.07 95.25h1.97v2.91h-1.97zM676.93 95.25h1.97v2.91h-1.97zM570.73 92.35h1.97v2.91h-1.97zM574.67 92.35h1.97v2.91h-1.97zM588.43 92.35h3.93v2.91h-3.93zM594.33 92.35h1.97v2.91h-1.97zM615.97 92.35h3.93v2.91h-3.93zM631.7 92.35h1.97v2.91h-1.97zM641.53 92.35h1.97v2.91h-1.97zM645.47 92.35h1.97v2.91h-1.97zM649.4 92.35h1.97v2.91h-1.97zM653.33 92.35h5.9v2.91h-5.9zM667.1 92.35h5.9v2.91h-5.9zM674.97 92.35h1.97v2.91h-1.97zM576.63 89.44h1.97v2.91h-1.97zM582.53 89.44h1.97v2.91h-1.97zM586.47 89.44h3.93v2.91h-3.93zM600.23 89.44h1.97v2.91h-1.97zM612.03 89.44h3.93v2.91h-3.93zM643.5 89.44h7.87v2.91h-7.87zM657.27 89.44h3.93v2.91h-3.93zM663.17 89.44h1.97v2.91h-1.97zM667.1 89.44h1.97v2.91h-1.97zM673 89.44h3.93v2.91h-3.93zM580.57 86.53h3.93v2.91h-3.93zM586.47 86.53h1.97v2.91h-1.97zM590.4 86.53h3.93v2.91h-3.93zM598.27 86.53h1.97v2.91h-1.97zM604.17 86.53h5.9v2.91h-5.9zM629.73 86.53h1.97v2.91h-1.97zM637.6 86.53h3.93v2.91h-3.93zM645.47 86.53h3.93v2.91h-3.93zM653.33 86.53h5.9v2.91h-5.9zM667.1 86.53h9.83v2.91h-9.83zM592.37 83.62h1.97v2.91h-1.97zM600.23 83.62h3.93v2.91h-3.93zM606.13 83.62h1.97v2.91h-1.97zM619.9 83.62h1.97v2.91h-1.97zM625.8 83.62h1.97v2.91h-1.97zM637.6 83.62h1.97v2.91h-1.97zM653.33 83.62h7.87v2.91h-7.87zM663.17 83.62h1.97v2.91h-1.97zM667.1 83.62h3.93v2.91h-3.93zM673 83.62h5.9v2.91h-5.9zM594.33 80.71h3.93v2.91h-3.93zM606.13 80.71h3.93v2.91h-3.93zM612.03 80.71h1.97v2.91h-1.97zM637.6 80.71h1.97v2.91h-1.97zM643.5 80.71h1.97v2.91h-1.97zM647.43 80.71h1.97v2.91h-1.97zM651.37 80.71h1.97v2.91h-1.97zM659.23 80.71h3.93v2.91h-3.93zM665.13 80.71h1.97v2.91h-1.97zM602.2 77.8h1.97v2.91h-1.97zM629.73 77.8h1.97v2.91h-1.97zM643.5 77.8h3.93v2.91h-3.93zM651.37 77.8h1.97v2.91h-1.97zM663.17 77.8h1.97v2.91h-1.97zM674.97 77.8h1.97v2.91h-1.97z" fill="#461365"/><path d="M539.27 214.53h1.97v2.91h-1.97zM543.2 214.53h1.97v2.91h-1.97zM549.1 214.53h1.97v2.91h-1.97zM582.53 214.53h1.97v2.91h-1.97zM588.43 214.53h3.93v2.91h-3.93zM594.33 214.53h3.93v2.91h-3.93zM600.23 214.53h1.97v2.91h-1.97zM537.3 211.62h1.97v2.91h-1.97zM541.23 211.62h5.9v2.91h-5.9zM588.43 211.62h3.93v2.91h-3.93zM596.3 211.62h1.97v2.91h-1.97zM539.27 208.71h1.97v2.91h-1.97zM543.2 208.71h3.93v2.91h-3.93zM600.23 208.71h3.93v2.91h-3.93zM641.53 208.71h1.97v2.91h-1.97zM645.47 208.71h5.9v2.91h-5.9zM659.23 208.71h3.93v2.91h-3.93zM531.4 205.8h11.8v2.91h-11.8zM594.33 205.8h1.97v2.91h-1.97zM598.27 205.8h3.93v2.91h-3.93zM639.57 205.8h1.97v2.91h-1.97zM649.4 205.8h1.97v2.91h-1.97zM657.27 205.8h1.97v2.91h-1.97zM665.13 205.8h1.97v2.91h-1.97zM533.37 202.89h1.97v2.91h-1.97zM537.3 202.89h1.97v2.91h-1.97zM545.17 202.89h1.97v2.91h-1.97zM598.27 202.89h1.97v2.91h-1.97zM602.2 202.89h1.97v2.91h-1.97zM641.53 202.89h5.9v2.91h-5.9zM651.37 202.89h3.93v2.91h-3.93zM657.27 202.89h1.97v2.91h-1.97zM665.13 202.89h1.97v2.91h-1.97zM669.07 202.89h1.97v2.91h-1.97zM674.97 202.89h1.97v2.91h-1.97zM529.43 199.98h5.9v2.91h-5.9zM537.3 199.98h1.97v2.91h-1.97zM598.27 199.98h3.93v2.91h-3.93zM604.17 199.98h3.93v2.91h-3.93zM643.5 199.98h1.97v2.91h-1.97zM659.23 199.98h1.97v2.91h-1.97zM665.13 199.98h1.97v2.91h-1.97zM671.03 199.98h1.97v2.91h-1.97zM533.37 197.07h3.93v2.91h-3.93zM539.27 197.07h1.97v2.91h-1.97zM604.17 197.07h1.97v2.91h-1.97zM641.53 197.07h1.97v2.91h-1.97zM645.47 197.07h3.93v2.91h-3.93zM657.27 197.07h1.97v2.91h-1.97zM661.2 197.07h1.97v2.91h-1.97zM665.13 197.07h1.97v2.91h-1.97zM669.07 197.07h1.97v2.91h-1.97zM674.97 197.07h1.97v2.91h-1.97zM533.37 194.16h5.9v2.91h-5.9zM541.23 194.16h1.97v2.91h-1.97zM602.2 194.16h3.93v2.91h-3.93zM639.57 194.16h7.87v2.91h-7.87zM649.4 194.16h3.93v2.91h-3.93zM655.3 194.16h1.97v2.91h-1.97zM667.1 194.16h5.9v2.91h-5.9zM676.93 194.16h1.97v2.91h-1.97zM531.4 191.25h1.97v2.91h-1.97zM539.27 191.25h1.97v2.91h-1.97zM549.1 191.25h1.97v2.91h-1.97zM602.2 191.25h1.97v2.91h-1.97zM610.07 191.25h1.97v2.91h-1.97zM645.47 191.25h1.97v2.91h-1.97zM661.2 191.25h7.87v2.91h-7.87zM671.03 191.25h3.93v2.91h-3.93zM676.93 191.25h1.97v2.91h-1.97zM533.37 188.35h3.93v2.91h-3.93zM539.27 188.35h1.97v2.91h-1.97zM543.2 188.35h1.97v2.91h-1.97zM600.23 188.35h1.97v2.91h-1.97zM604.17 188.35h3.93v2.91h-3.93zM641.53 188.35h9.83v2.91h-9.83zM657.27 188.35h3.93v2.91h-3.93zM663.17 188.35h1.97v2.91h-1.97zM669.07 188.35h1.97v2.91h-1.97zM673 188.35h3.93v2.91h-3.93zM529.43 185.44h5.9v2.91h-5.9zM596.3 185.44h1.97v2.91h-1.97zM600.23 185.44h3.93v2.91h-3.93zM641.53 185.44h5.9v2.91h-5.9zM651.37 185.44h1.97v2.91h-1.97zM669.07 185.44h5.9v2.91h-5.9zM521.57 182.53h1.97v2.91h-1.97zM535.33 182.53h1.97v2.91h-1.97zM596.3 182.53h3.93v2.91h-3.93zM602.2 182.53h1.97v2.91h-1.97zM606.13 182.53h1.97v2.91h-1.97zM639.57 182.53h1.97v2.91h-1.97zM643.5 182.53h5.9v2.91h-5.9zM659.23 182.53h3.93v2.91h-3.93zM667.1 182.53h1.97v2.91h-1.97zM673 182.53h1.97v2.91h-1.97zM525.5 179.62h1.97v2.91h-1.97zM531.4 179.62h7.87v2.91h-7.87zM596.3 179.62h5.9v2.91h-5.9zM606.13 179.62h1.97v2.91h-1.97zM639.57 179.62h1.97v2.91h-1.97zM645.47 179.62h7.87v2.91h-7.87zM657.27 179.62h1.97v2.91h-1.97zM667.1 179.62h3.93v2.91h-3.93zM527.47 176.71h9.83v2.91h-9.83zM539.27 176.71h1.97v2.91h-1.97zM590.4 176.71h1.97v2.91h-1.97zM598.27 176.71h3.93v2.91h-3.93zM604.17 176.71h3.93v2.91h-3.93zM641.53 176.71h3.93v2.91h-3.93zM647.43 176.71h1.97v2.91h-1.97zM653.33 176.71h1.97v2.91h-1.97zM657.27 176.71h1.97v2.91h-1.97zM663.17 176.71h5.9v2.91h-5.9zM527.47 173.8h1.97v2.91h-1.97zM531.4 173.8h5.9v2.91h-5.9zM539.27 173.8h1.97v2.91h-1.97zM592.37 173.8h1.97v2.91h-1.97zM596.3 173.8h1.97v2.91h-1.97zM602.2 173.8h1.97v2.91h-1.97zM610.07 173.8h1.97v2.91h-1.97zM635.63 173.8h3.93v2.91h-3.93zM643.5 173.8h1.97v2.91h-1.97zM649.4 173.8h1.97v2.91h-1.97zM653.33 173.8h1.97v2.91h-1.97zM657.27 173.8h3.93v2.91h-3.93zM667.1 173.8h3.93v2.91h-3.93zM531.4 170.89h1.97v2.91h-1.97zM535.33 170.89h1.97v2.91h-1.97zM539.27 170.89h1.97v2.91h-1.97zM588.43 170.89h1.97v2.91h-1.97zM600.23 170.89h5.9v2.91h-5.9zM608.1 170.89h1.97v2.91h-1.97zM637.6 170.89h1.97v2.91h-1.97zM643.5 170.89h3.93v2.91h-3.93zM649.4 170.89h7.87v2.91h-7.87zM663.17 170.89h3.93v2.91h-3.93zM525.5 167.98h5.9v2.91h-5.9zM539.27 167.98h1.97v2.91h-1.97zM598.27 167.98h1.97v2.91h-1.97zM602.2 167.98h3.93v2.91h-3.93zM608.1 167.98h1.97v2.91h-1.97zM633.67 167.98h1.97v2.91h-1.97zM639.57 167.98h1.97v2.91h-1.97zM645.47 167.98h5.9v2.91h-5.9zM659.23 167.98h1.97v2.91h-1.97zM663.17 167.98h1.97v2.91h-1.97zM667.1 167.98h1.97v2.91h-1.97zM521.57 165.07h1.97v2.91h-1.97zM529.43 165.07h1.97v2.91h-1.97zM533.37 165.07h3.93v2.91h-3.93zM539.27 165.07h3.93v2.91h-3.93zM551.07 165.07h1.97v2.91h-1.97zM594.33 165.07h1.97v2.91h-1.97zM600.23 165.07h5.9v2.91h-5.9zM608.1 165.07h1.97v2.91h-1.97zM651.37 165.07h1.97v2.91h-1.97zM655.3 165.07h1.97v2.91h-1.97zM661.2 165.07h3.93v2.91h-3.93zM523.53 162.16h1.97v2.91h-1.97zM529.43 162.16h3.93v2.91h-3.93zM539.27 162.16h1.97v2.91h-1.97zM594.33 162.16h1.97v2.91h-1.97zM598.27 162.16h7.87v2.91h-7.87zM610.07 162.16h1.97v2.91h-1.97zM635.63 162.16h1.97v2.91h-1.97zM639.57 162.16h7.87v2.91h-7.87zM653.33 162.16h1.97v2.91h-1.97zM661.2 162.16h3.93v2.91h-3.93zM527.47 159.25h5.9v2.91h-5.9zM539.27 159.25h1.97v2.91h-1.97zM562.87 159.25h1.97v2.91h-1.97zM592.37 159.25h1.97v2.91h-1.97zM600.23 159.25h1.97v2.91h-1.97zM606.13 159.25h1.97v2.91h-1.97zM643.5 159.25h3.93v2.91h-3.93zM523.53 156.35h5.9v2.91h-5.9zM531.4 156.35h1.97v2.91h-1.97zM535.33 156.35h1.97v2.91h-1.97zM543.2 156.35h1.97v2.91h-1.97zM588.43 156.35h5.9v2.91h-5.9zM596.3 156.35h3.93v2.91h-3.93zM606.13 156.35h3.93v2.91h-3.93zM643.5 156.35h1.97v2.91h-1.97zM517.63 153.44h5.9v2.91h-5.9zM525.5 153.44h3.93v2.91h-3.93zM531.4 153.44h3.93v2.91h-3.93zM537.3 153.44h1.97v2.91h-1.97zM572.7 153.44h1.97v2.91h-1.97zM584.5 153.44h1.97v2.91h-1.97zM588.43 153.44h3.93v2.91h-3.93zM594.33 153.44h3.93v2.91h-3.93zM600.23 153.44h3.93v2.91h-3.93zM641.53 153.44h1.97v2.91h-1.97zM527.47 150.53h3.93v2.91h-3.93zM533.37 150.53h1.97v2.91h-1.97zM539.27 150.53h5.9v2.91h-5.9zM580.57 150.53h1.97v2.91h-1.97zM590.4 150.53h1.97v2.91h-1.97zM594.33 150.53h5.9v2.91h-5.9zM604.17 150.53h1.97v2.91h-1.97zM608.1 150.53h1.97v2.91h-1.97zM631.7 150.53h1.97v2.91h-1.97zM639.57 150.53h1.97v2.91h-1.97zM517.63 147.62h1.97v2.91h-1.97zM527.47 147.62h7.87v2.91h-7.87zM539.27 147.62h1.97v2.91h-1.97zM572.7 147.62h1.97v2.91h-1.97zM594.33 147.62h13.77v2.91h-13.77zM639.57 147.62h1.97v2.91h-1.97zM643.5 147.62h1.97v2.91h-1.97zM521.57 144.71h5.9v2.91h-5.9zM531.4 144.71h11.8v2.91h-11.8zM553.03 144.71h1.97v2.91h-1.97zM586.47 144.71h1.97v2.91h-1.97zM590.4 144.71h1.97v2.91h-1.97zM594.33 144.71h1.97v2.91h-1.97zM598.27 144.71h1.97v2.91h-1.97zM602.2 144.71h3.93v2.91h-3.93zM608.1 144.71h1.97v2.91h-1.97zM643.5 144.71h1.97v2.91h-1.97zM517.63 141.8h1.97v2.91h-1.97zM523.53 141.8h1.97v2.91h-1.97zM531.4 141.8h5.9v2.91h-5.9zM541.23 141.8h1.97v2.91h-1.97zM556.97 141.8h1.97v2.91h-1.97zM564.83 141.8h1.97v2.91h-1.97zM590.4 141.8h1.97v2.91h-1.97zM594.33 141.8h1.97v2.91h-1.97zM598.27 141.8h5.9v2.91h-5.9zM606.13 141.8h3.93v2.91h-3.93zM637.6 141.8h5.9v2.91h-5.9zM517.63 138.89h1.97v2.91h-1.97zM523.53 138.89h1.97v2.91h-1.97zM527.47 138.89h9.83v2.91h-9.83zM545.17 138.89h1.97v2.91h-1.97zM596.3 138.89h3.93v2.91h-3.93zM602.2 138.89h5.9v2.91h-5.9zM635.63 138.89h1.97v2.91h-1.97zM639.57 138.89h3.93v2.91h-3.93zM519.6 135.98h1.97v2.91h-1.97zM523.53 135.98h7.87v2.91h-7.87zM533.37 135.98h3.93v2.91h-3.93zM543.2 135.98h1.97v2.91h-1.97zM547.13 135.98h1.97v2.91h-1.97zM555 135.98h1.97v2.91h-1.97zM562.87 135.98h1.97v2.91h-1.97zM568.77 135.98h3.93v2.91h-3.93zM574.67 135.98h7.87v2.91h-7.87zM584.5 135.98h3.93v2.91h-3.93zM592.37 135.98h7.87v2.91h-7.87zM602.2 135.98h1.97v2.91h-1.97zM610.07 135.98h1.97v2.91h-1.97zM643.5 135.98h5.9v2.91h-5.9zM521.57 133.07h1.97v2.91h-1.97zM527.47 133.07h7.87v2.91h-7.87zM543.2 133.07h3.93v2.91h-3.93zM556.97 133.07h1.97v2.91h-1.97zM582.53 133.07h7.87v2.91h-7.87zM592.37 133.07h1.97v2.91h-1.97zM596.3 133.07h9.83v2.91h-9.83zM635.63 133.07h1.97v2.91h-1.97zM643.5 133.07h5.9v2.91h-5.9zM519.6 130.16h1.97v2.91h-1.97zM527.47 130.16h5.9v2.91h-5.9zM535.33 130.16h1.97v2.91h-1.97zM541.23 130.16h1.97v2.91h-1.97zM549.1 130.16h1.97v2.91h-1.97zM553.03 130.16h1.97v2.91h-1.97zM560.9 130.16h3.93v2.91h-3.93zM584.5 130.16h1.97v2.91h-1.97zM590.4 130.16h1.97v2.91h-1.97zM594.33 130.16h1.97v2.91h-1.97zM598.27 130.16h7.87v2.91h-7.87zM612.03 130.16h1.97v2.91h-1.97zM633.67 130.16h1.97v2.91h-1.97zM643.5 130.16h3.93v2.91h-3.93zM649.4 130.16h3.93v2.91h-3.93zM517.63 127.25h15.73v2.91h-15.73zM535.33 127.25h5.9v2.91h-5.9zM547.13 127.25h1.97v2.91h-1.97zM551.07 127.25h3.93v2.91h-3.93zM556.97 127.25h1.97v2.91h-1.97zM562.87 127.25h1.97v2.91h-1.97zM570.73 127.25h1.97v2.91h-1.97zM578.6 127.25h1.97v2.91h-1.97zM582.53 127.25h1.97v2.91h-1.97zM590.4 127.25h11.8v2.91h-11.8zM604.17 127.25h1.97v2.91h-1.97zM612.03 127.25h1.97v2.91h-1.97zM615.97 127.25h1.97v2.91h-1.97zM633.67 127.25h1.97v2.91h-1.97zM637.6 127.25h3.93v2.91h-3.93zM645.47 127.25h1.97v2.91h-1.97zM515.67 124.35h1.97v2.91h-1.97zM519.6 124.35h1.97v2.91h-1.97zM523.53 124.35h1.97v2.91h-1.97zM535.33 124.35h7.87v2.91h-7.87zM547.13 124.35h1.97v2.91h-1.97zM556.97 124.35h1.97v2.91h-1.97zM560.9 124.35h5.9v2.91h-5.9zM570.73 124.35h3.93v2.91h-3.93zM584.5 124.35h1.97v2.91h-1.97zM590.4 124.35h9.83v2.91h-9.83zM606.13 124.35h3.93v2.91h-3.93zM612.03 124.35h1.97v2.91h-1.97zM637.6 124.35h3.93v2.91h-3.93zM643.5 124.35h5.9v2.91h-5.9zM513.7 121.44h1.97v2.91h-1.97zM519.6 121.44h1.97v2.91h-1.97zM523.53 121.44h13.77v2.91h-13.77zM541.23 121.44h1.97v2.91h-1.97zM547.13 121.44h1.97v2.91h-1.97zM558.93 121.44h1.97v2.91h-1.97zM562.87 121.44h7.87v2.91h-7.87zM574.67 121.44h5.9v2.91h-5.9zM586.47 121.44h1.97v2.91h-1.97zM594.33 121.44h3.93v2.91h-3.93zM600.23 121.44h9.83v2.91h-9.83zM612.03 121.44h1.97v2.91h-1.97zM633.67 121.44h1.97v2.91h-1.97zM637.6 121.44h3.93v2.91h-3.93zM643.5 121.44h5.9v2.91h-5.9zM651.37 121.44h1.97v2.91h-1.97zM515.67 118.53h1.97v2.91h-1.97zM521.57 118.53h5.9v2.91h-5.9zM529.43 118.53h15.73v2.91h-15.73zM547.13 118.53h1.97v2.91h-1.97zM553.03 118.53h1.97v2.91h-1.97zM556.97 118.53h3.93v2.91h-3.93zM564.83 118.53h1.97v2.91h-1.97zM570.73 118.53h5.9v2.91h-5.9zM580.57 118.53h1.97v2.91h-1.97zM588.43 118.53h1.97v2.91h-1.97zM592.37 118.53h1.97v2.91h-1.97zM596.3 118.53h3.93v2.91h-3.93zM604.17 118.53h1.97v2.91h-1.97zM608.1 118.53h1.97v2.91h-1.97zM615.97 118.53h3.93v2.91h-3.93zM631.7 118.53h1.97v2.91h-1.97zM635.63 118.53h5.9v2.91h-5.9zM643.5 118.53h3.93v2.91h-3.93zM649.4 118.53h3.93v2.91h-3.93zM523.53 115.62h3.93v2.91h-3.93zM531.4 115.62h1.97v2.91h-1.97zM535.33 115.62h1.97v2.91h-1.97zM541.23 115.62h3.93v2.91h-3.93zM547.13 115.62h7.87v2.91h-7.87zM556.97 115.62h3.93v2.91h-3.93zM562.87 115.62h1.97v2.91h-1.97zM568.77 115.62h1.97v2.91h-1.97zM572.7 115.62h1.97v2.91h-1.97zM576.63 115.62h1.97v2.91h-1.97zM580.57 115.62h1.97v2.91h-1.97zM590.4 115.62h1.97v2.91h-1.97zM596.3 115.62h7.87v2.91h-7.87zM612.03 115.62h3.93v2.91h-3.93zM621.87 115.62h1.97v2.91h-1.97zM631.7 115.62h3.93v2.91h-3.93zM637.6 115.62h11.8v2.91h-11.8zM651.37 115.62h3.93v2.91h-3.93zM657.27 115.62h1.97v2.91h-1.97zM519.6 112.71h1.97v2.91h-1.97zM525.5 112.71h1.97v2.91h-1.97zM529.43 112.71h3.93v2.91h-3.93zM535.33 112.71h1.97v2.91h-1.97zM541.23 112.71h1.97v2.91h-1.97zM545.17 112.71h3.93v2.91h-3.93zM553.03 112.71h9.83v2.91h-9.83zM566.8 112.71h1.97v2.91h-1.97zM570.73 112.71h1.97v2.91h-1.97zM574.67 112.71h1.97v2.91h-1.97zM580.57 112.71h1.97v2.91h-1.97zM588.43 112.71h1.97v2.91h-1.97zM598.27 112.71h1.97v2.91h-1.97zM602.2 112.71h1.97v2.91h-1.97zM606.13 112.71h7.87v2.91h-7.87zM615.97 112.71h1.97v2.91h-1.97zM619.9 112.71h3.93v2.91h-3.93zM625.8 112.71h1.97v2.91h-1.97zM629.73 112.71h1.97v2.91h-1.97zM633.67 112.71h3.93v2.91h-3.93zM639.57 112.71h3.93v2.91h-3.93zM647.43 112.71h1.97v2.91h-1.97zM655.3 112.71h1.97v2.91h-1.97zM659.23 112.71h1.97v2.91h-1.97zM513.7 109.8h3.93v2.91h-3.93zM521.57 109.8h1.97v2.91h-1.97zM525.5 109.8h5.9v2.91h-5.9zM533.37 109.8h1.97v2.91h-1.97zM541.23 109.8h1.97v2.91h-1.97zM547.13 109.8h3.93v2.91h-3.93zM553.03 109.8h11.8v2.91h-11.8zM568.77 109.8h3.93v2.91h-3.93zM576.63 109.8h3.93v2.91h-3.93zM594.33 109.8h1.97v2.91h-1.97zM602.2 109.8h3.93v2.91h-3.93zM608.1 109.8h5.9v2.91h-5.9zM619.9 109.8h1.97v2.91h-1.97zM629.73 109.8h1.97v2.91h-1.97zM633.67 109.8h1.97v2.91h-1.97zM639.57 109.8h15.73v2.91h-15.73zM661.2 109.8h3.93v2.91h-3.93zM515.67 106.89h11.8v2.91h-11.8zM529.43 106.89h1.97v2.91h-1.97zM533.37 106.89h1.97v2.91h-1.97zM537.3 106.89h1.97v2.91h-1.97zM541.23 106.89h11.8v2.91h-11.8zM560.9 106.89h3.93v2.91h-3.93zM568.77 106.89h1.97v2.91h-1.97zM578.6 106.89h1.97v2.91h-1.97zM582.53 106.89h3.93v2.91h-3.93zM600.23 106.89h1.97v2.91h-1.97zM604.17 106.89h1.97v2.91h-1.97zM608.1 106.89h1.97v2.91h-1.97zM614 106.89h3.93v2.91h-3.93zM623.83 106.89h1.97v2.91h-1.97zM629.73 106.89h5.9v2.91h-5.9zM639.57 106.89h9.83v2.91h-9.83zM651.37 106.89h1.97v2.91h-1.97zM661.2 106.89h5.9v2.91h-5.9zM513.7 103.98h1.97v2.91h-1.97zM517.63 103.98h3.93v2.91h-3.93zM527.47 103.98h7.87v2.91h-7.87zM537.3 103.98h3.93v2.91h-3.93zM545.17 103.98h1.97v2.91h-1.97zM549.1 103.98h3.93v2.91h-3.93zM555 103.98h11.8v2.91h-11.8zM568.77 103.98h3.93v2.91h-3.93zM576.63 103.98h1.97v2.91h-1.97zM580.57 103.98h5.9v2.91h-5.9zM588.43 103.98h5.9v2.91h-5.9zM596.3 103.98h7.87v2.91h-7.87zM606.13 103.98h1.97v2.91h-1.97zM610.07 103.98h1.97v2.91h-1.97zM614 103.98h7.87v2.91h-7.87zM623.83 103.98h9.83v2.91h-9.83zM635.63 103.98h7.87v2.91h-7.87zM645.47 103.98h9.83v2.91h-9.83zM667.1 103.98h1.97v2.91h-1.97zM533.37 101.07h3.93v2.91h-3.93zM543.2 101.07h1.97v2.91h-1.97zM547.13 101.07h5.9v2.91h-5.9zM555 101.07h5.9v2.91h-5.9zM564.83 101.07h1.97v2.91h-1.97zM570.73 101.07h3.93v2.91h-3.93zM580.57 101.07h7.87v2.91h-7.87zM590.4 101.07h1.97v2.91h-1.97zM594.33 101.07h7.87v2.91h-7.87zM604.17 101.07h1.97v2.91h-1.97zM608.1 101.07h7.87v2.91h-7.87zM617.93 101.07h5.9v2.91h-5.9zM629.73 101.07h1.97v2.91h-1.97zM633.67 101.07h3.93v2.91h-3.93zM643.5 101.07h5.9v2.91h-5.9zM651.37 101.07h3.93v2.91h-3.93zM657.27 101.07h1.97v2.91h-1.97zM661.2 101.07h3.93v2.91h-3.93zM671.03 101.07h3.93v2.91h-3.93zM676.93 101.07h1.97v2.91h-1.97zM543.2 98.16h1.97v2.91h-1.97zM547.13 98.16h5.9v2.91h-5.9zM555 98.16h5.9v2.91h-5.9zM562.87 98.16h3.93v2.91h-3.93zM570.73 98.16h3.93v2.91h-3.93zM588.43 98.16h1.97v2.91h-1.97zM592.37 98.16h1.97v2.91h-1.97zM598.27 98.16h3.93v2.91h-3.93zM604.17 98.16h3.93v2.91h-3.93zM610.07 98.16h3.93v2.91h-3.93zM617.93 98.16h1.97v2.91h-1.97zM621.87 98.16h5.9v2.91h-5.9zM629.73 98.16h5.9v2.91h-5.9zM639.57 98.16h1.97v2.91h-1.97zM643.5 98.16h3.93v2.91h-3.93zM649.4 98.16h5.9v2.91h-5.9zM671.03 98.16h1.97v2.91h-1.97zM553.03 95.25h3.93v2.91h-3.93zM562.87 95.25h3.93v2.91h-3.93zM572.7 95.25h9.83v2.91h-9.83zM588.43 95.25h1.97v2.91h-1.97zM596.3 95.25h3.93v2.91h-3.93zM602.2 95.25h9.83v2.91h-9.83zM617.93 95.25h1.97v2.91h-1.97zM625.8 95.25h3.93v2.91h-3.93zM631.7 95.25h5.9v2.91h-5.9zM639.57 95.25h1.97v2.91h-1.97zM645.47 95.25h9.83v2.91h-9.83zM657.27 95.25h1.97v2.91h-1.97zM663.17 95.25h5.9v2.91h-5.9zM671.03 95.25h5.9v2.91h-5.9zM568.77 92.35h1.97v2.91h-1.97zM572.7 92.35h1.97v2.91h-1.97zM576.63 92.35h11.8v2.91h-11.8zM592.37 92.35h1.97v2.91h-1.97zM596.3 92.35h15.73v2.91h-15.73zM614 92.35h1.97v2.91h-1.97zM621.87 92.35h9.83v2.91h-9.83zM633.67 92.35h7.87v2.91h-7.87zM643.5 92.35h1.97v2.91h-1.97zM647.43 92.35h1.97v2.91h-1.97zM651.37 92.35h1.97v2.91h-1.97zM659.23 92.35h7.87v2.91h-7.87zM673 92.35h1.97v2.91h-1.97zM578.6 89.44h3.93v2.91h-3.93zM584.5 89.44h1.97v2.91h-1.97zM590.4 89.44h9.83v2.91h-9.83zM602.2 89.44h9.83v2.91h-9.83zM615.97 89.44h3.93v2.91h-3.93zM621.87 89.44h5.9v2.91h-5.9zM635.63 89.44h7.87v2.91h-7.87zM651.37 89.44h5.9v2.91h-5.9zM661.2 89.44h1.97v2.91h-1.97zM665.13 89.44h1.97v2.91h-1.97zM669.07 89.44h3.93v2.91h-3.93zM676.93 89.44h1.97v2.91h-1.97zM588.43 86.53h1.97v2.91h-1.97zM596.3 86.53h1.97v2.91h-1.97zM600.23 86.53h3.93v2.91h-3.93zM610.07 86.53h19.67v2.91h-19.67zM633.67 86.53h1.97v2.91h-1.97zM641.53 86.53h3.93v2.91h-3.93zM649.4 86.53h3.93v2.91h-3.93zM659.23 86.53h7.87v2.91h-7.87zM676.93 86.53h1.97v2.91h-1.97zM586.47 83.62h1.97v2.91h-1.97zM590.4 83.62h1.97v2.91h-1.97zM594.33 83.62h5.9v2.91h-5.9zM604.17 83.62h1.97v2.91h-1.97zM610.07 83.62h5.9v2.91h-5.9zM617.93 83.62h1.97v2.91h-1.97zM621.87 83.62h3.93v2.91h-3.93zM629.73 83.62h7.87v2.91h-7.87zM639.57 83.62h9.83v2.91h-9.83zM651.37 83.62h1.97v2.91h-1.97zM661.2 83.62h1.97v2.91h-1.97zM665.13 83.62h1.97v2.91h-1.97zM671.03 83.62h1.97v2.91h-1.97zM598.27 80.71h7.87v2.91h-7.87zM610.07 80.71h1.97v2.91h-1.97zM614 80.71h5.9v2.91h-5.9zM623.83 80.71h1.97v2.91h-1.97zM627.77 80.71h9.83v2.91h-9.83zM639.57 80.71h3.93v2.91h-3.93zM645.47 80.71h1.97v2.91h-1.97zM649.4 80.71h1.97v2.91h-1.97zM653.33 80.71h5.9v2.91h-5.9zM663.17 80.71h1.97v2.91h-1.97zM667.1 80.71h11.8v2.91h-11.8zM600.23 77.8h1.97v2.91h-1.97zM604.17 77.8h25.57v2.91h-25.57zM631.7 77.8h11.8v2.91h-11.8zM647.43 77.8h3.93v2.91h-3.93zM653.33 77.8h9.83v2.91h-9.83zM665.13 77.8h9.83v2.91h-9.83zM676.93 77.8h1.97v2.91h-1.97z" fill="#482676"/><path d="M529.43 214.53h1.97v2.91h-1.97zM533.37 214.53h5.9v2.91h-5.9zM602.2 214.53h1.97v2.91h-1.97zM655.3 214.53h3.93v2.91h-3.93zM661.2 214.53h1.97v2.91h-1.97zM533.37 211.62h3.93v2.91h-3.93zM539.27 211.62h1.97v2.91h-1.97zM598.27 211.62h9.83v2.91h-9.83zM657.27 211.62h1.97v2.91h-1.97zM533.37 208.71h3.93v2.91h-3.93zM598.27 208.71h1.97v2.91h-1.97zM604.17 208.71h1.97v2.91h-1.97zM602.2 205.8h7.87v2.91h-7.87zM641.53 205.8h3.93v2.91h-3.93zM673 205.8h3.93v2.91h-3.93zM531.4 202.89h1.97v2.91h-1.97zM604.17 202.89h3.93v2.91h-3.93zM639.57 202.89h1.97v2.91h-1.97zM667.1 202.89h1.97v2.91h-1.97zM671.03 202.89h3.93v2.91h-3.93zM676.93 202.89h1.97v2.91h-1.97zM602.2 199.98h1.97v2.91h-1.97zM608.1 199.98h1.97v2.91h-1.97zM639.57 199.98h3.93v2.91h-3.93zM645.47 199.98h5.9v2.91h-5.9zM669.07 199.98h1.97v2.91h-1.97zM673 199.98h5.9v2.91h-5.9zM527.47 197.07h5.9v2.91h-5.9zM602.2 197.07h1.97v2.91h-1.97zM606.13 197.07h1.97v2.91h-1.97zM639.57 197.07h1.97v2.91h-1.97zM643.5 197.07h1.97v2.91h-1.97zM667.1 197.07h1.97v2.91h-1.97zM671.03 197.07h3.93v2.91h-3.93zM523.53 194.16h1.97v2.91h-1.97zM527.47 194.16h1.97v2.91h-1.97zM531.4 194.16h1.97v2.91h-1.97zM606.13 194.16h1.97v2.91h-1.97zM610.07 194.16h1.97v2.91h-1.97zM673 194.16h3.93v2.91h-3.93zM527.47 191.25h3.93v2.91h-3.93zM533.37 191.25h3.93v2.91h-3.93zM604.17 191.25h5.9v2.91h-5.9zM635.63 191.25h9.83v2.91h-9.83zM669.07 191.25h1.97v2.91h-1.97zM525.5 188.35h7.87v2.91h-7.87zM610.07 188.35h3.93v2.91h-3.93zM635.63 188.35h1.97v2.91h-1.97zM639.57 188.35h1.97v2.91h-1.97zM671.03 188.35h1.97v2.91h-1.97zM676.93 188.35h1.97v2.91h-1.97zM523.53 185.44h5.9v2.91h-5.9zM604.17 185.44h9.83v2.91h-9.83zM635.63 185.44h3.93v2.91h-3.93zM663.17 185.44h1.97v2.91h-1.97zM674.97 185.44h3.93v2.91h-3.93zM525.5 182.53h1.97v2.91h-1.97zM529.43 182.53h3.93v2.91h-3.93zM604.17 182.53h1.97v2.91h-1.97zM608.1 182.53h3.93v2.91h-3.93zM635.63 182.53h1.97v2.91h-1.97zM641.53 182.53h1.97v2.91h-1.97zM521.57 179.62h3.93v2.91h-3.93zM527.47 179.62h3.93v2.91h-3.93zM604.17 179.62h1.97v2.91h-1.97zM608.1 179.62h3.93v2.91h-3.93zM635.63 179.62h3.93v2.91h-3.93zM643.5 179.62h1.97v2.91h-1.97zM521.57 176.71h5.9v2.91h-5.9zM608.1 176.71h1.97v2.91h-1.97zM612.03 176.71h3.93v2.91h-3.93zM633.67 176.71h7.87v2.91h-7.87zM519.6 173.8h7.87v2.91h-7.87zM606.13 173.8h3.93v2.91h-3.93zM633.67 173.8h1.97v2.91h-1.97zM639.57 173.8h3.93v2.91h-3.93zM519.6 170.89h1.97v2.91h-1.97zM523.53 170.89h3.93v2.91h-3.93zM606.13 170.89h1.97v2.91h-1.97zM612.03 170.89h3.93v2.91h-3.93zM633.67 170.89h3.93v2.91h-3.93zM639.57 170.89h3.93v2.91h-3.93zM515.67 167.98h1.97v2.91h-1.97zM519.6 167.98h1.97v2.91h-1.97zM523.53 167.98h1.97v2.91h-1.97zM533.37 167.98h1.97v2.91h-1.97zM606.13 167.98h1.97v2.91h-1.97zM610.07 167.98h5.9v2.91h-5.9zM643.5 167.98h1.97v2.91h-1.97zM519.6 165.07h1.97v2.91h-1.97zM523.53 165.07h5.9v2.91h-5.9zM606.13 165.07h1.97v2.91h-1.97zM610.07 165.07h5.9v2.91h-5.9zM635.63 165.07h3.93v2.91h-3.93zM641.53 165.07h1.97v2.91h-1.97zM645.47 165.07h1.97v2.91h-1.97zM517.63 162.16h5.9v2.91h-5.9zM525.5 162.16h3.93v2.91h-3.93zM606.13 162.16h1.97v2.91h-1.97zM614 162.16h1.97v2.91h-1.97zM633.67 162.16h1.97v2.91h-1.97zM637.6 162.16h1.97v2.91h-1.97zM517.63 159.25h9.83v2.91h-9.83zM604.17 159.25h1.97v2.91h-1.97zM608.1 159.25h7.87v2.91h-7.87zM633.67 159.25h9.83v2.91h-9.83zM517.63 156.35h5.9v2.91h-5.9zM529.43 156.35h1.97v2.91h-1.97zM602.2 156.35h3.93v2.91h-3.93zM631.7 156.35h11.8v2.91h-11.8zM645.47 156.35h1.97v2.91h-1.97zM515.67 153.44h1.97v2.91h-1.97zM604.17 153.44h13.77v2.91h-13.77zM629.73 153.44h5.9v2.91h-5.9zM637.6 153.44h1.97v2.91h-1.97zM515.67 150.53h11.8v2.91h-11.8zM606.13 150.53h1.97v2.91h-1.97zM610.07 150.53h5.9v2.91h-5.9zM619.9 150.53h1.97v2.91h-1.97zM633.67 150.53h5.9v2.91h-5.9zM641.53 150.53h3.93v2.91h-3.93zM515.67 147.62h1.97v2.91h-1.97zM519.6 147.62h7.87v2.91h-7.87zM608.1 147.62h5.9v2.91h-5.9zM629.73 147.62h7.87v2.91h-7.87zM641.53 147.62h1.97v2.91h-1.97zM515.67 144.71h5.9v2.91h-5.9zM527.47 144.71h1.97v2.91h-1.97zM596.3 144.71h1.97v2.91h-1.97zM600.23 144.71h1.97v2.91h-1.97zM606.13 144.71h1.97v2.91h-1.97zM610.07 144.71h3.93v2.91h-3.93zM615.97 144.71h1.97v2.91h-1.97zM631.7 144.71h3.93v2.91h-3.93zM637.6 144.71h5.9v2.91h-5.9zM515.67 141.8h1.97v2.91h-1.97zM519.6 141.8h3.93v2.91h-3.93zM525.5 141.8h3.93v2.91h-3.93zM604.17 141.8h1.97v2.91h-1.97zM610.07 141.8h3.93v2.91h-3.93zM615.97 141.8h3.93v2.91h-3.93zM633.67 141.8h3.93v2.91h-3.93zM643.5 141.8h3.93v2.91h-3.93zM513.7 138.89h3.93v2.91h-3.93zM519.6 138.89h3.93v2.91h-3.93zM525.5 138.89h1.97v2.91h-1.97zM537.3 138.89h1.97v2.91h-1.97zM610.07 138.89h1.97v2.91h-1.97zM631.7 138.89h3.93v2.91h-3.93zM643.5 138.89h1.97v2.91h-1.97zM515.67 135.98h3.93v2.91h-3.93zM531.4 135.98h1.97v2.91h-1.97zM545.17 135.98h1.97v2.91h-1.97zM600.23 135.98h1.97v2.91h-1.97zM604.17 135.98h5.9v2.91h-5.9zM614 135.98h3.93v2.91h-3.93zM627.77 135.98h1.97v2.91h-1.97zM631.7 135.98h5.9v2.91h-5.9zM639.57 135.98h3.93v2.91h-3.93zM515.67 133.07h1.97v2.91h-1.97zM519.6 133.07h1.97v2.91h-1.97zM523.53 133.07h3.93v2.91h-3.93zM606.13 133.07h9.83v2.91h-9.83zM617.93 133.07h1.97v2.91h-1.97zM623.83 133.07h1.97v2.91h-1.97zM633.67 133.07h1.97v2.91h-1.97zM639.57 133.07h3.93v2.91h-3.93zM649.4 133.07h1.97v2.91h-1.97zM515.67 130.16h3.93v2.91h-3.93zM521.57 130.16h1.97v2.91h-1.97zM533.37 130.16h1.97v2.91h-1.97zM606.13 130.16h5.9v2.91h-5.9zM615.97 130.16h1.97v2.91h-1.97zM629.73 130.16h3.93v2.91h-3.93zM637.6 130.16h1.97v2.91h-1.97zM515.67 127.25h1.97v2.91h-1.97zM606.13 127.25h5.9v2.91h-5.9zM614 127.25h1.97v2.91h-1.97zM619.9 127.25h13.77v2.91h-13.77zM635.63 127.25h1.97v2.91h-1.97zM643.5 127.25h1.97v2.91h-1.97zM517.63 124.35h1.97v2.91h-1.97zM521.57 124.35h1.97v2.91h-1.97zM527.47 124.35h5.9v2.91h-5.9zM543.2 124.35h1.97v2.91h-1.97zM604.17 124.35h1.97v2.91h-1.97zM610.07 124.35h1.97v2.91h-1.97zM614 124.35h7.87v2.91h-7.87zM625.8 124.35h1.97v2.91h-1.97zM629.73 124.35h1.97v2.91h-1.97zM633.67 124.35h1.97v2.91h-1.97zM641.53 124.35h1.97v2.91h-1.97zM649.4 124.35h1.97v2.91h-1.97zM517.63 121.44h1.97v2.91h-1.97zM521.57 121.44h1.97v2.91h-1.97zM539.27 121.44h1.97v2.91h-1.97zM543.2 121.44h1.97v2.91h-1.97zM598.27 121.44h1.97v2.91h-1.97zM614 121.44h3.93v2.91h-3.93zM619.9 121.44h13.77v2.91h-13.77zM641.53 121.44h1.97v2.91h-1.97zM513.7 118.53h1.97v2.91h-1.97zM519.6 118.53h1.97v2.91h-1.97zM527.47 118.53h1.97v2.91h-1.97zM600.23 118.53h3.93v2.91h-3.93zM606.13 118.53h1.97v2.91h-1.97zM610.07 118.53h3.93v2.91h-3.93zM621.87 118.53h1.97v2.91h-1.97zM625.8 118.53h5.9v2.91h-5.9zM633.67 118.53h1.97v2.91h-1.97zM641.53 118.53h1.97v2.91h-1.97zM513.7 115.62h9.83v2.91h-9.83zM527.47 115.62h3.93v2.91h-3.93zM592.37 115.62h1.97v2.91h-1.97zM606.13 115.62h1.97v2.91h-1.97zM610.07 115.62h1.97v2.91h-1.97zM615.97 115.62h5.9v2.91h-5.9zM625.8 115.62h3.93v2.91h-3.93zM513.7 112.71h5.9v2.91h-5.9zM521.57 112.71h3.93v2.91h-3.93zM527.47 112.71h1.97v2.91h-1.97zM533.37 112.71h1.97v2.91h-1.97zM572.7 112.71h1.97v2.91h-1.97zM576.63 112.71h1.97v2.91h-1.97zM604.17 112.71h1.97v2.91h-1.97zM614 112.71h1.97v2.91h-1.97zM617.93 112.71h1.97v2.91h-1.97zM623.83 112.71h1.97v2.91h-1.97zM627.77 112.71h1.97v2.91h-1.97zM631.7 112.71h1.97v2.91h-1.97zM637.6 112.71h1.97v2.91h-1.97zM643.5 112.71h1.97v2.91h-1.97zM523.53 109.8h1.97v2.91h-1.97zM535.33 109.8h1.97v2.91h-1.97zM566.8 109.8h1.97v2.91h-1.97zM600.23 109.8h1.97v2.91h-1.97zM606.13 109.8h1.97v2.91h-1.97zM614 109.8h5.9v2.91h-5.9zM621.87 109.8h7.87v2.91h-7.87zM635.63 109.8h3.93v2.91h-3.93zM659.23 109.8h1.97v2.91h-1.97zM513.7 106.89h1.97v2.91h-1.97zM527.47 106.89h1.97v2.91h-1.97zM535.33 106.89h1.97v2.91h-1.97zM610.07 106.89h3.93v2.91h-3.93zM617.93 106.89h5.9v2.91h-5.9zM625.8 106.89h3.93v2.91h-3.93zM649.4 106.89h1.97v2.91h-1.97zM515.67 103.98h1.97v2.91h-1.97zM525.5 103.98h1.97v2.91h-1.97zM612.03 103.98h1.97v2.91h-1.97zM621.87 103.98h1.97v2.91h-1.97zM633.67 103.98h1.97v2.91h-1.97zM525.5 101.07h1.97v2.91h-1.97zM545.17 101.07h1.97v2.91h-1.97zM602.2 101.07h1.97v2.91h-1.97zM615.97 101.07h1.97v2.91h-1.97zM623.83 101.07h1.97v2.91h-1.97zM627.77 101.07h1.97v2.91h-1.97zM637.6 101.07h1.97v2.91h-1.97zM669.07 101.07h1.97v2.91h-1.97zM578.6 98.16h1.97v2.91h-1.97zM602.2 98.16h1.97v2.91h-1.97zM608.1 98.16h1.97v2.91h-1.97zM615.97 98.16h1.97v2.91h-1.97zM619.9 98.16h1.97v2.91h-1.97zM627.77 98.16h1.97v2.91h-1.97zM647.43 98.16h1.97v2.91h-1.97zM600.23 95.25h1.97v2.91h-1.97zM621.87 95.25h3.93v2.91h-3.93zM629.73 95.25h1.97v2.91h-1.97zM641.53 95.25h1.97v2.91h-1.97zM612.03 92.35h1.97v2.91h-1.97zM619.9 92.35h1.97v2.91h-1.97zM676.93 92.35h1.97v2.91h-1.97zM619.9 89.44h1.97v2.91h-1.97zM627.77 89.44h7.87v2.91h-7.87zM594.33 86.53h1.97v2.91h-1.97zM631.7 86.53h1.97v2.91h-1.97zM635.63 86.53h1.97v2.91h-1.97zM588.43 83.62h1.97v2.91h-1.97zM608.1 83.62h1.97v2.91h-1.97zM615.97 83.62h1.97v2.91h-1.97zM627.77 83.62h1.97v2.91h-1.97zM649.4 83.62h1.97v2.91h-1.97zM619.9 80.71h3.93v2.91h-3.93zM625.8 80.71h1.97v2.91h-1.97z" fill="#44377f"/><path d="M531.4 214.53h1.97v2.91h-1.97zM604.17 214.53h3.93v2.91h-3.93zM649.4 214.53h5.9v2.91h-5.9zM659.23 214.53h1.97v2.91h-1.97zM531.4 211.62h1.97v2.91h-1.97zM645.47 211.62h11.8v2.91h-11.8zM659.23 211.62h3.93v2.91h-3.93zM529.43 208.71h3.93v2.91h-3.93zM606.13 208.71h5.9v2.91h-5.9zM643.5 208.71h1.97v2.91h-1.97zM523.53 205.8h1.97v2.91h-1.97zM527.47 205.8h1.97v2.91h-1.97zM610.07 205.8h3.93v2.91h-3.93zM525.5 202.89h3.93v2.91h-3.93zM608.1 202.89h1.97v2.91h-1.97zM633.67 202.89h1.97v2.91h-1.97zM637.6 202.89h1.97v2.91h-1.97zM523.53 199.98h5.9v2.91h-5.9zM610.07 199.98h3.93v2.91h-3.93zM635.63 199.98h3.93v2.91h-3.93zM521.57 197.07h5.9v2.91h-5.9zM608.1 197.07h3.93v2.91h-3.93zM633.67 197.07h5.9v2.91h-5.9zM676.93 197.07h1.97v2.91h-1.97zM525.5 194.16h1.97v2.91h-1.97zM529.43 194.16h1.97v2.91h-1.97zM608.1 194.16h1.97v2.91h-1.97zM612.03 194.16h1.97v2.91h-1.97zM637.6 194.16h1.97v2.91h-1.97zM525.5 191.25h1.97v2.91h-1.97zM614 191.25h1.97v2.91h-1.97zM521.57 188.35h3.93v2.91h-3.93zM608.1 188.35h1.97v2.91h-1.97zM614 188.35h1.97v2.91h-1.97zM633.67 188.35h1.97v2.91h-1.97zM637.6 188.35h1.97v2.91h-1.97zM517.63 185.44h5.9v2.91h-5.9zM614 185.44h3.93v2.91h-3.93zM639.57 185.44h1.97v2.91h-1.97zM519.6 182.53h1.97v2.91h-1.97zM523.53 182.53h1.97v2.91h-1.97zM527.47 182.53h1.97v2.91h-1.97zM612.03 182.53h1.97v2.91h-1.97zM637.6 182.53h1.97v2.91h-1.97zM612.03 179.62h3.93v2.91h-3.93zM619.9 179.62h1.97v2.91h-1.97zM633.67 179.62h1.97v2.91h-1.97zM641.53 179.62h1.97v2.91h-1.97zM519.6 176.71h1.97v2.91h-1.97zM610.07 176.71h1.97v2.91h-1.97zM615.97 176.71h3.93v2.91h-3.93zM517.63 173.8h1.97v2.91h-1.97zM612.03 173.8h5.9v2.91h-5.9zM521.57 170.89h1.97v2.91h-1.97zM527.47 170.89h1.97v2.91h-1.97zM610.07 170.89h1.97v2.91h-1.97zM615.97 170.89h1.97v2.91h-1.97zM631.7 170.89h1.97v2.91h-1.97zM517.63 167.98h1.97v2.91h-1.97zM521.57 167.98h1.97v2.91h-1.97zM615.97 167.98h3.93v2.91h-3.93zM631.7 167.98h1.97v2.91h-1.97zM635.63 167.98h3.93v2.91h-3.93zM517.63 165.07h1.97v2.91h-1.97zM615.97 165.07h1.97v2.91h-1.97zM633.67 165.07h1.97v2.91h-1.97zM639.57 165.07h1.97v2.91h-1.97zM608.1 162.16h1.97v2.91h-1.97zM612.03 162.16h1.97v2.91h-1.97zM621.87 162.16h1.97v2.91h-1.97zM515.67 159.25h1.97v2.91h-1.97zM615.97 159.25h3.93v2.91h-3.93zM631.7 159.25h1.97v2.91h-1.97zM513.7 156.35h1.97v2.91h-1.97zM610.07 156.35h1.97v2.91h-1.97zM614 156.35h1.97v2.91h-1.97zM617.93 156.35h1.97v2.91h-1.97zM523.53 153.44h1.97v2.91h-1.97zM617.93 153.44h1.97v2.91h-1.97zM627.77 153.44h1.97v2.91h-1.97zM635.63 153.44h1.97v2.91h-1.97zM639.57 153.44h1.97v2.91h-1.97zM513.7 150.53h1.97v2.91h-1.97zM615.97 150.53h3.93v2.91h-3.93zM625.8 150.53h3.93v2.91h-3.93zM513.7 147.62h1.97v2.91h-1.97zM614 147.62h9.83v2.91h-9.83zM625.8 147.62h1.97v2.91h-1.97zM637.6 147.62h1.97v2.91h-1.97zM513.7 144.71h1.97v2.91h-1.97zM614 144.71h1.97v2.91h-1.97zM617.93 144.71h3.93v2.91h-3.93zM635.63 144.71h1.97v2.91h-1.97zM513.7 141.8h1.97v2.91h-1.97zM614 141.8h1.97v2.91h-1.97zM619.9 141.8h7.87v2.91h-7.87zM629.73 141.8h3.93v2.91h-3.93zM612.03 138.89h7.87v2.91h-7.87zM623.83 138.89h1.97v2.91h-1.97zM629.73 138.89h1.97v2.91h-1.97zM637.6 138.89h1.97v2.91h-1.97zM513.7 135.98h1.97v2.91h-1.97zM521.57 135.98h1.97v2.91h-1.97zM617.93 135.98h7.87v2.91h-7.87zM629.73 135.98h1.97v2.91h-1.97zM637.6 135.98h1.97v2.91h-1.97zM513.7 133.07h1.97v2.91h-1.97zM517.63 133.07h1.97v2.91h-1.97zM615.97 133.07h1.97v2.91h-1.97zM619.9 133.07h3.93v2.91h-3.93zM625.8 133.07h7.87v2.91h-7.87zM637.6 133.07h1.97v2.91h-1.97zM523.53 130.16h3.93v2.91h-3.93zM614 130.16h1.97v2.91h-1.97zM617.93 130.16h3.93v2.91h-3.93zM623.83 130.16h5.9v2.91h-5.9zM635.63 130.16h1.97v2.91h-1.97zM513.7 127.25h1.97v2.91h-1.97zM617.93 127.25h1.97v2.91h-1.97zM513.7 124.35h1.97v2.91h-1.97zM621.87 124.35h1.97v2.91h-1.97zM631.7 124.35h1.97v2.91h-1.97zM635.63 124.35h1.97v2.91h-1.97zM515.67 121.44h1.97v2.91h-1.97zM610.07 121.44h1.97v2.91h-1.97zM617.93 121.44h1.97v2.91h-1.97zM619.9 118.53h1.97v2.91h-1.97zM623.83 118.53h1.97v2.91h-1.97zM623.83 115.62h1.97v2.91h-1.97zM629.73 115.62h1.97v2.91h-1.97zM517.63 109.8h1.97v2.91h-1.97zM521.57 103.98h1.97v2.91h-1.97z" fill="#404788"/><path d="M584.5 217.44h1.97v2.91h-1.97zM525.5 214.53h3.93v2.91h-3.93zM641.53 214.53h7.87v2.91h-7.87zM673 214.53h1.97v2.91h-1.97zM525.5 211.62h5.9v2.91h-5.9zM643.5 211.62h1.97v2.91h-1.97zM523.53 208.71h5.9v2.91h-5.9zM612.03 208.71h1.97v2.91h-1.97zM635.63 208.71h1.97v2.91h-1.97zM639.57 208.71h1.97v2.91h-1.97zM519.6 205.8h3.93v2.91h-3.93zM529.43 205.8h1.97v2.91h-1.97zM614 205.8h1.97v2.91h-1.97zM635.63 205.8h3.93v2.91h-3.93zM521.57 202.89h1.97v2.91h-1.97zM529.43 202.89h1.97v2.91h-1.97zM610.07 202.89h1.97v2.91h-1.97zM635.63 202.89h1.97v2.91h-1.97zM521.57 199.98h1.97v2.91h-1.97zM633.67 199.98h1.97v2.91h-1.97zM612.03 197.07h1.97v2.91h-1.97zM521.57 194.16h1.97v2.91h-1.97zM614 194.16h1.97v2.91h-1.97zM633.67 194.16h3.93v2.91h-3.93zM519.6 191.25h5.9v2.91h-5.9zM615.97 191.25h1.97v2.91h-1.97zM629.73 191.25h1.97v2.91h-1.97zM633.67 191.25h1.97v2.91h-1.97zM517.63 188.35h1.97v2.91h-1.97zM615.97 188.35h1.97v2.91h-1.97zM633.67 185.44h1.97v2.91h-1.97zM517.63 182.53h1.97v2.91h-1.97zM614 182.53h3.93v2.91h-3.93zM633.67 182.53h1.97v2.91h-1.97zM515.67 179.62h1.97v2.91h-1.97zM519.6 179.62h1.97v2.91h-1.97zM615.97 179.62h1.97v2.91h-1.97zM631.7 179.62h1.97v2.91h-1.97zM517.63 176.71h1.97v2.91h-1.97zM631.7 176.71h1.97v2.91h-1.97zM617.93 173.8h1.97v2.91h-1.97zM631.7 173.8h1.97v2.91h-1.97zM517.63 170.89h1.97v2.91h-1.97zM617.93 170.89h1.97v2.91h-1.97zM629.73 167.98h1.97v2.91h-1.97zM515.67 165.07h1.97v2.91h-1.97zM617.93 165.07h3.93v2.91h-3.93zM629.73 165.07h3.93v2.91h-3.93zM515.67 162.16h1.97v2.91h-1.97zM615.97 162.16h5.9v2.91h-5.9zM627.77 162.16h5.9v2.91h-5.9zM513.7 159.25h1.97v2.91h-1.97zM619.9 159.25h1.97v2.91h-1.97zM515.67 156.35h1.97v2.91h-1.97zM612.03 156.35h1.97v2.91h-1.97zM615.97 156.35h1.97v2.91h-1.97zM619.9 156.35h1.97v2.91h-1.97zM623.83 156.35h1.97v2.91h-1.97zM629.73 156.35h1.97v2.91h-1.97zM513.7 153.44h1.97v2.91h-1.97zM619.9 153.44h1.97v2.91h-1.97zM625.8 153.44h1.97v2.91h-1.97zM621.87 150.53h1.97v2.91h-1.97zM629.73 150.53h1.97v2.91h-1.97zM623.83 147.62h1.97v2.91h-1.97zM627.77 147.62h1.97v2.91h-1.97zM621.87 144.71h1.97v2.91h-1.97zM625.8 144.71h5.9v2.91h-5.9zM627.77 141.8h1.97v2.91h-1.97zM619.9 138.89h3.93v2.91h-3.93zM625.8 138.89h3.93v2.91h-3.93zM625.8 135.98h1.97v2.91h-1.97zM513.7 130.16h1.97v2.91h-1.97zM621.87 130.16h1.97v2.91h-1.97zM623.83 124.35h1.97v2.91h-1.97zM627.77 124.35h1.97v2.91h-1.97z" fill="#39558b"/><path d="M551.07 220.35h1.97v2.91h-1.97zM555 220.35h1.97v2.91h-1.97zM576.63 220.35h1.97v2.91h-1.97zM582.53 220.35h1.97v2.91h-1.97zM551.07 217.44h1.97v2.91h-1.97zM555 217.44h3.93v2.91h-3.93zM564.83 217.44h1.97v2.91h-1.97zM570.73 217.44h1.97v2.91h-1.97zM519.6 214.53h1.97v2.91h-1.97zM523.53 214.53h1.97v2.91h-1.97zM523.53 211.62h1.97v2.91h-1.97zM637.6 211.62h1.97v2.91h-1.97zM614 208.71h1.97v2.91h-1.97zM633.67 208.71h1.97v2.91h-1.97zM637.6 208.71h1.97v2.91h-1.97zM525.5 205.8h1.97v2.91h-1.97zM633.67 205.8h1.97v2.91h-1.97zM523.53 202.89h1.97v2.91h-1.97zM612.03 202.89h5.9v2.91h-5.9zM631.7 202.89h1.97v2.91h-1.97zM519.6 199.98h1.97v2.91h-1.97zM614 199.98h1.97v2.91h-1.97zM519.6 197.07h1.97v2.91h-1.97zM614 197.07h1.97v2.91h-1.97zM617.93 197.07h1.97v2.91h-1.97zM631.7 197.07h1.97v2.91h-1.97zM517.63 194.16h3.93v2.91h-3.93zM631.7 194.16h1.97v2.91h-1.97zM517.63 191.25h1.97v2.91h-1.97zM612.03 191.25h1.97v2.91h-1.97zM617.93 191.25h1.97v2.91h-1.97zM519.6 188.35h1.97v2.91h-1.97zM617.93 188.35h1.97v2.91h-1.97zM631.7 188.35h1.97v2.91h-1.97zM617.93 182.53h1.97v2.91h-1.97zM631.7 182.53h1.97v2.91h-1.97zM517.63 179.62h1.97v2.91h-1.97zM617.93 179.62h1.97v2.91h-1.97zM623.83 179.62h1.97v2.91h-1.97zM515.67 176.71h1.97v2.91h-1.97zM515.67 173.8h1.97v2.91h-1.97zM627.77 173.8h1.97v2.91h-1.97zM627.77 170.89h3.93v2.91h-3.93zM619.9 167.98h1.97v2.91h-1.97zM625.8 167.98h3.93v2.91h-3.93zM627.77 165.07h1.97v2.91h-1.97zM625.8 162.16h1.97v2.91h-1.97zM623.83 159.25h7.87v2.91h-7.87zM627.77 156.35h1.97v2.91h-1.97zM623.83 153.44h1.97v2.91h-1.97zM623.83 150.53h1.97v2.91h-1.97z" fill="#33638d"/><path d="M553.03 220.35h1.97v2.91h-1.97zM560.9 220.35h9.83v2.91h-9.83zM572.7 220.35h1.97v2.91h-1.97zM578.6 220.35h3.93v2.91h-3.93zM586.47 220.35h1.97v2.91h-1.97zM590.4 220.35h3.93v2.91h-3.93zM596.3 220.35h1.97v2.91h-1.97zM541.23 217.44h1.97v2.91h-1.97zM549.1 217.44h1.97v2.91h-1.97zM553.03 217.44h1.97v2.91h-1.97zM566.8 217.44h3.93v2.91h-3.93zM574.67 217.44h3.93v2.91h-3.93zM580.57 217.44h3.93v2.91h-3.93zM590.4 217.44h1.97v2.91h-1.97zM608.1 214.53h3.93v2.91h-3.93zM637.6 214.53h3.93v2.91h-3.93zM521.57 211.62h1.97v2.91h-1.97zM608.1 211.62h3.93v2.91h-3.93zM635.63 211.62h1.97v2.91h-1.97zM639.57 211.62h3.93v2.91h-3.93zM521.57 208.71h1.97v2.91h-1.97zM615.97 208.71h1.97v2.91h-1.97zM517.63 205.8h1.97v2.91h-1.97zM519.6 202.89h1.97v2.91h-1.97zM615.97 199.98h1.97v2.91h-1.97zM631.7 199.98h1.97v2.91h-1.97zM615.97 197.07h1.97v2.91h-1.97zM615.97 194.16h1.97v2.91h-1.97zM515.67 191.25h1.97v2.91h-1.97zM515.67 188.35h1.97v2.91h-1.97zM617.93 185.44h5.9v2.91h-5.9zM629.73 185.44h3.93v2.91h-3.93zM515.67 182.53h1.97v2.91h-1.97zM629.73 182.53h1.97v2.91h-1.97zM619.9 176.71h1.97v2.91h-1.97zM627.77 176.71h3.93v2.91h-3.93zM513.7 173.8h1.97v2.91h-1.97zM619.9 173.8h1.97v2.91h-1.97zM629.73 173.8h1.97v2.91h-1.97zM515.67 170.89h1.97v2.91h-1.97zM619.9 170.89h3.93v2.91h-3.93zM513.7 165.07h1.97v2.91h-1.97zM623.83 165.07h1.97v2.91h-1.97zM621.87 159.25h1.97v2.91h-1.97zM621.87 156.35h1.97v2.91h-1.97zM625.8 156.35h1.97v2.91h-1.97zM621.87 153.44h1.97v2.91h-1.97zM623.83 144.71h1.97v2.91h-1.97z" fill="#2d708e"/><path d="M537.3 220.35h1.97v2.91h-1.97zM545.17 220.35h5.9v2.91h-5.9zM556.97 220.35h3.93v2.91h-3.93zM570.73 220.35h1.97v2.91h-1.97zM574.67 220.35h1.97v2.91h-1.97zM584.5 220.35h1.97v2.91h-1.97zM588.43 220.35h1.97v2.91h-1.97zM594.33 220.35h1.97v2.91h-1.97zM598.27 220.35h3.93v2.91h-3.93zM527.47 217.44h1.97v2.91h-1.97zM545.17 217.44h3.93v2.91h-3.93zM558.93 217.44h5.9v2.91h-5.9zM578.6 217.44h1.97v2.91h-1.97zM586.47 217.44h3.93v2.91h-3.93zM592.37 217.44h7.87v2.91h-7.87zM521.57 214.53h1.97v2.91h-1.97zM612.03 214.53h1.97v2.91h-1.97zM635.63 214.53h1.97v2.91h-1.97zM667.1 214.53h1.97v2.91h-1.97zM519.6 211.62h1.97v2.91h-1.97zM614 211.62h1.97v2.91h-1.97zM519.6 208.71h1.97v2.91h-1.97zM615.97 205.8h3.93v2.91h-3.93zM513.7 202.89h1.97v2.91h-1.97zM517.63 202.89h1.97v2.91h-1.97zM617.93 194.16h1.97v2.91h-1.97zM629.73 194.16h1.97v2.91h-1.97zM631.7 191.25h1.97v2.91h-1.97zM629.73 188.35h1.97v2.91h-1.97zM619.9 182.53h1.97v2.91h-1.97zM627.77 179.62h3.93v2.91h-3.93zM513.7 176.71h1.97v2.91h-1.97zM621.87 173.8h1.97v2.91h-1.97zM513.7 170.89h1.97v2.91h-1.97zM625.8 170.89h1.97v2.91h-1.97zM621.87 167.98h1.97v2.91h-1.97zM621.87 165.07h1.97v2.91h-1.97zM625.8 165.07h1.97v2.91h-1.97zM513.7 162.16h1.97v2.91h-1.97zM623.83 162.16h1.97v2.91h-1.97z" fill="#287d8e"/><path d="M541.23 220.35h3.93v2.91h-3.93zM602.2 220.35h1.97v2.91h-1.97zM531.4 217.44h1.97v2.91h-1.97zM537.3 217.44h3.93v2.91h-3.93zM543.2 217.44h1.97v2.91h-1.97zM572.7 217.44h1.97v2.91h-1.97zM600.23 217.44h1.97v2.91h-1.97zM606.13 217.44h1.97v2.91h-1.97zM612.03 211.62h1.97v2.91h-1.97zM615.97 211.62h1.97v2.91h-1.97zM633.67 211.62h1.97v2.91h-1.97zM629.73 208.71h3.93v2.91h-3.93zM631.7 205.8h1.97v2.91h-1.97zM517.63 199.98h1.97v2.91h-1.97zM617.93 199.98h1.97v2.91h-1.97zM517.63 197.07h1.97v2.91h-1.97zM627.77 197.07h1.97v2.91h-1.97zM515.67 194.16h1.97v2.91h-1.97zM513.7 188.35h1.97v2.91h-1.97zM515.67 185.44h1.97v2.91h-1.97zM513.7 179.62h1.97v2.91h-1.97zM621.87 179.62h1.97v2.91h-1.97zM625.8 179.62h1.97v2.91h-1.97zM623.83 167.98h1.97v2.91h-1.97z" fill="#238a8d"/><path d="M531.4 220.35h3.93v2.91h-3.93zM539.27 220.35h1.97v2.91h-1.97zM606.13 220.35h1.97v2.91h-1.97zM529.43 217.44h1.97v2.91h-1.97zM535.33 217.44h1.97v2.91h-1.97zM602.2 217.44h3.93v2.91h-3.93zM517.63 214.53h1.97v2.91h-1.97zM633.67 214.53h1.97v2.91h-1.97zM671.03 214.53h1.97v2.91h-1.97zM517.63 211.62h1.97v2.91h-1.97zM515.67 208.71h3.93v2.91h-3.93zM617.93 208.71h1.97v2.91h-1.97zM627.77 199.98h3.93v2.91h-3.93zM619.9 191.25h3.93v2.91h-3.93zM513.7 182.53h1.97v2.91h-1.97zM621.87 182.53h1.97v2.91h-1.97zM625.8 182.53h1.97v2.91h-1.97zM621.87 176.71h1.97v2.91h-1.97zM623.83 170.89h1.97v2.91h-1.97zM513.7 167.98h1.97v2.91h-1.97z" fill="#21968b"/><path d="M527.47 220.35h3.93v2.91h-3.93zM535.33 220.35h1.97v2.91h-1.97zM604.17 220.35h1.97v2.91h-1.97zM533.37 217.44h1.97v2.91h-1.97zM614 214.53h3.93v2.91h-3.93zM631.7 214.53h1.97v2.91h-1.97zM676.93 214.53h1.97v2.91h-1.97zM629.73 211.62h3.93v2.91h-3.93zM627.77 208.71h1.97v2.91h-1.97zM619.9 205.8h1.97v2.91h-1.97zM629.73 205.8h1.97v2.91h-1.97zM629.73 197.07h1.97v2.91h-1.97zM627.77 188.35h1.97v2.91h-1.97zM623.83 185.44h1.97v2.91h-1.97zM623.83 182.53h1.97v2.91h-1.97zM627.77 182.53h1.97v2.91h-1.97zM623.83 176.71h3.93v2.91h-3.93zM623.83 173.8h3.93v2.91h-3.93z" fill="#22a386"/><path d="M525.5 220.35h1.97v2.91h-1.97zM525.5 217.44h1.97v2.91h-1.97zM617.93 211.62h1.97v2.91h-1.97zM515.67 202.89h1.97v2.91h-1.97zM515.67 197.07h1.97v2.91h-1.97zM619.9 197.07h1.97v2.91h-1.97zM619.9 188.35h3.93v2.91h-3.93zM625.8 185.44h1.97v2.91h-1.97z" fill="#2caf7e"/><path d="M521.57 220.35h3.93v2.91h-3.93zM617.93 214.53h1.97v2.91h-1.97zM629.73 214.53h1.97v2.91h-1.97zM623.83 211.62h1.97v2.91h-1.97zM619.9 208.71h1.97v2.91h-1.97zM617.93 202.89h1.97v2.91h-1.97zM629.73 202.89h1.97v2.91h-1.97zM623.83 188.35h1.97v2.91h-1.97z" fill="#3dbb74"/><path d="M521.57 217.44h3.93v2.91h-3.93zM513.7 205.8h1.97v2.91h-1.97zM621.87 205.8h1.97v2.91h-1.97zM515.67 199.98h1.97v2.91h-1.97zM623.83 194.16h5.9v2.91h-5.9zM625.8 191.25h1.97v2.91h-1.97zM625.8 188.35h1.97v2.91h-1.97zM513.7 185.44h1.97v2.91h-1.97zM627.77 185.44h1.97v2.91h-1.97z" fill="#57c565"/><path d="M519.6 220.35h1.97v2.91h-1.97zM519.6 217.44h1.97v2.91h-1.97zM515.67 211.62h1.97v2.91h-1.97zM627.77 211.62h1.97v2.91h-1.97zM625.8 208.71h1.97v2.91h-1.97zM515.67 205.8h1.97v2.91h-1.97zM513.7 199.98h1.97v2.91h-1.97zM621.87 199.98h1.97v2.91h-1.97z" fill="#74cf54"/><path d="M619.9 211.62h3.93v2.91h-3.93zM619.9 202.89h1.97v2.91h-1.97zM625.8 202.89h1.97v2.91h-1.97zM619.9 199.98h1.97v2.91h-1.97zM513.7 197.07h1.97v2.91h-1.97zM621.87 197.07h1.97v2.91h-1.97zM513.7 194.16h1.97v2.91h-1.97zM619.9 194.16h1.97v2.91h-1.97z" fill="#96d73f"/><path d="M517.63 220.35h1.97v2.91h-1.97zM517.63 217.44h1.97v2.91h-1.97zM515.67 214.53h1.97v2.91h-1.97zM621.87 194.16h1.97v2.91h-1.97zM627.77 191.25h1.97v2.91h-1.97z" fill="#b9de28"/><path d="M513.7 208.71h1.97v2.91h-1.97zM627.77 205.8h1.97v2.91h-1.97zM627.77 202.89h1.97v2.91h-1.97z" fill="#dbe326"/><path d="M513.7 234.89h165.2v2.91h-165.2zM513.7 231.98h165.2v2.91h-165.2zM513.7 229.07h165.2v2.91h-165.2zM513.7 226.16h165.2v2.91h-165.2zM513.7 223.25h165.2v2.91h-165.2zM513.7 220.35h3.93v2.91h-3.93zM608.1 220.35h70.8v2.91h-70.8zM513.7 217.44h3.93v2.91h-3.93zM608.1 217.44h70.8v2.91h-70.8zM513.7 214.53h1.97v2.91h-1.97zM619.9 214.53h9.83v2.91h-9.83zM663.17 214.53h3.93v2.91h-3.93zM669.07 214.53h1.97v2.91h-1.97zM674.97 214.53h1.97v2.91h-1.97zM513.7 211.62h1.97v2.91h-1.97zM625.8 211.62h1.97v2.91h-1.97zM663.17 211.62h15.73v2.91h-15.73zM621.87 208.71h3.93v2.91h-3.93zM663.17 208.71h15.73v2.91h-15.73zM623.83 205.8h3.93v2.91h-3.93zM663.17 205.8h1.97v2.91h-1.97zM669.07 205.8h3.93v2.91h-3.93zM676.93 205.8h1.97v2.91h-1.97zM621.87 202.89h3.93v2.91h-3.93zM623.83 199.98h3.93v2.91h-3.93zM623.83 197.07h3.93v2.91h-3.93zM513.7 191.25h1.97v2.91h-1.97zM623.83 191.25h1.97v2.91h-1.97z" fill="#fde725"/></g><rect x="513.7" y="77.8" width="165.2" height="160" fill="none" stroke="#262626" stroke-width="1.8"/><text x="513.7" y="262.7" font-size="17.5" text-anchor="middle" fill="#1a1a1a">0</text><text x="568.8" y="262.7" font-size="17.5" text-anchor="middle" fill="#1a1a1a">1</text><text x="623.8" y="262.7" font-size="17.5" text-anchor="middle" fill="#1a1a1a">2</text><text x="678.9" y="262.7" font-size="17.5" text-anchor="middle" fill="#1a1a1a">3</text><text x="507.2" y="244.6" font-size="17.5" text-anchor="end" fill="#1a1a1a">0</text><text x="507.2" y="172.1" font-size="17.5" text-anchor="end" fill="#1a1a1a">5</text><text x="507.2" y="99.6" font-size="17.5" text-anchor="end" fill="#1a1a1a">10</text><path d="M513.7 237.8v-2.5M513.7 77.8v2.5M568.8 237.8v-2.5M568.8 77.8v2.5M623.8 237.8v-2.5M623.8 77.8v2.5M678.9 237.8v-2.5M678.9 77.8v2.5M513.7 237.8h2.5M678.9 237.8h-2.5M513.7 165.3h2.5M678.9 165.3h-2.5M513.7 92.8h2.5M678.9 92.8h-2.5" stroke="#262626" stroke-width="1" fill="none"/><text x="596.5" y="291.2" font-size="20" text-anchor="middle" fill="#1a1a1a">[0.5, 0.5, <tspan font-style="italic">L</tspan>] (r.l.u.)</text><text x="479" y="158" font-size="20" text-anchor="middle" fill="#1a1a1a" transform="rotate(-90 479 158)">Energy (meV)</text><text x="519" y="98.5" font-size="19" fill="#1a1a1a">5 K</text><rect x="511.2" y="51.2" width="167.4" height="15.4" fill="url(#virg)" stroke="#262626" stroke-width="0.8"/><path d="M595 51.2v2.2M595 66.6v-2.2" stroke="#262626" stroke-width="0.9"/><text x="511.5" y="41.5" font-size="16.4" text-anchor="middle" fill="#1a1a1a">0</text><text x="595" y="41.5" font-size="16.4" text-anchor="middle" fill="#1a1a1a">0.4</text><text x="678" y="41.5" font-size="16.4" text-anchor="middle" fill="#1a1a1a">0.8</text><text x="598.5" y="14.3" font-size="19.5" text-anchor="middle" fill="#1a1a1a">Intensity (arb. units)</text><text x="461.7" y="47.7" font-size="29.2" font-weight="bold" fill="#000">d</text><polygon points="483.6,347.2 633.9,347.2 708.2,477.8 558.7,477.8" fill="url(#gPo)"/><polygon points="494,353.4 630.3,353.4 698,471.5 562,471.5" fill="url(#gPl)"/><path d="M528 373.1L596 373.1M528 373.1L562 432.2M596 373.1L562 432.2M596 373.1L630 432.2M562 432.2L630 432.2" stroke="#e3b4b8" stroke-width="2.6" fill="none"/><path d="M596 390L596 363" stroke="#e2aeb2" stroke-width="3.4" fill="none"/><path d="M596 357L599.5 363L592.5 363Z" fill="#e2aeb2"/><path d="M576.5 423.5L554.5 437.1" stroke="#e2aeb2" stroke-width="3.6" fill="none"/><path d="M549 440.5L552.6 433.9L556.5 440.3Z" fill="#e2aeb2"/><path d="M616 423.5L637.4 436.2" stroke="#e2aeb2" stroke-width="3.6" fill="none"/><path d="M643 439.5L635.5 439.4L639.3 433Z" fill="#e2aeb2"/><linearGradient id="gb1" gradientUnits="userSpaceOnUse" x1="562.3" y1="392.8" x2="528" y2="373.1"><stop offset="0" stop-color="#1d4474"/><stop offset="0.55" stop-color="#1d4474"/><stop offset="0.62" stop-color="#c4ccd6"/><stop offset="1" stop-color="#d4d8de"/></linearGradient><path d="M562.3 392.8L528 373.11" stroke="url(#gb1)" stroke-width="2.1" fill="none"/><linearGradient id="gb2" gradientUnits="userSpaceOnUse" x1="562.3" y1="392.8" x2="596" y2="373.1"><stop offset="0" stop-color="#1d4474"/><stop offset="0.55" stop-color="#1d4474"/><stop offset="0.62" stop-color="#c4ccd6"/><stop offset="1" stop-color="#d4d8de"/></linearGradient><path d="M562.3 392.8L596 373.11" stroke="url(#gb2)" stroke-width="2.1" fill="none"/><linearGradient id="gb3" gradientUnits="userSpaceOnUse" x1="630" y1="392.8" x2="596" y2="373.1"><stop offset="0" stop-color="#1d4474"/><stop offset="0.55" stop-color="#1d4474"/><stop offset="0.62" stop-color="#c4ccd6"/><stop offset="1" stop-color="#d4d8de"/></linearGradient><path d="M630 392.8L596 373.11" stroke="url(#gb3)" stroke-width="2.1" fill="none"/><linearGradient id="gb4" gradientUnits="userSpaceOnUse" x1="562.3" y1="392.8" x2="562" y2="432.2"><stop offset="0" stop-color="#1d4474"/><stop offset="0.55" stop-color="#1d4474"/><stop offset="0.62" stop-color="#c4ccd6"/><stop offset="1" stop-color="#d4d8de"/></linearGradient><path d="M562.3 392.8L562 432.21" stroke="url(#gb4)" stroke-width="2.1" fill="none"/><linearGradient id="gb5" gradientUnits="userSpaceOnUse" x1="630" y1="392.8" x2="630" y2="432.2"><stop offset="0" stop-color="#1d4474"/><stop offset="0.55" stop-color="#1d4474"/><stop offset="0.62" stop-color="#c4ccd6"/><stop offset="1" stop-color="#d4d8de"/></linearGradient><path d="M630 392.8L630 432.21" stroke="url(#gb5)" stroke-width="2.1" fill="none"/><linearGradient id="gb6" gradientUnits="userSpaceOnUse" x1="596" y1="451.9" x2="562" y2="432.2"><stop offset="0" stop-color="#1d4474"/><stop offset="0.55" stop-color="#1d4474"/><stop offset="0.62" stop-color="#c4ccd6"/><stop offset="1" stop-color="#d4d8de"/></linearGradient><path d="M596 451.9L562 432.21" stroke="url(#gb6)" stroke-width="2.1" fill="none"/><linearGradient id="gb7" gradientUnits="userSpaceOnUse" x1="596" y1="451.9" x2="630" y2="432.2"><stop offset="0" stop-color="#1d4474"/><stop offset="0.55" stop-color="#1d4474"/><stop offset="0.62" stop-color="#c4ccd6"/><stop offset="1" stop-color="#d4d8de"/></linearGradient><path d="M596 451.9L630 432.21" stroke="url(#gb7)" stroke-width="2.1" fill="none"/><linearGradient id="gb8" gradientUnits="userSpaceOnUse" x1="664" y1="451.9" x2="630" y2="432.2"><stop offset="0" stop-color="#1d4474"/><stop offset="0.55" stop-color="#1d4474"/><stop offset="0.62" stop-color="#c4ccd6"/><stop offset="1" stop-color="#d4d8de"/></linearGradient><path d="M664 451.9L630 432.21" stroke="url(#gb8)" stroke-width="2.1" fill="none"/><circle cx="528" cy="373.1" r="4.6" fill="#dfb0b4"/><circle cx="596" cy="373.1" r="4.6" fill="#dfb0b4"/><circle cx="562" cy="432.2" r="4.6" fill="#dfb0b4"/><circle cx="630" cy="432.2" r="4.6" fill="#dfb0b4"/><path d="M494 353.4H630.3L698 471.5H562ZM528 412.5H664.3M562.3 353.4L630 471.5" fill="none" stroke="#111" stroke-width="1"/><path d="M562.3 392.8L630 392.8M562.3 392.8L596 451.9M630 392.8L596 451.9M630 392.8L664 451.9M596 451.9L664 451.9" stroke="#d0242c" stroke-width="2.8" fill="none"/><path d="M562.3 392.8L630 392.8M562.3 392.8L596 451.9M630 392.8L596 451.9M630 392.8L664 451.9M596 451.9L664 451.9" stroke="#f08a8e" stroke-width="0.7" fill="none"/><path d="M547.5 384.5L570.4 397.7" stroke="#cc1820" stroke-width="4.2" fill="none"/><path d="M576 401L568.4 401.2L572.4 394.3Z" fill="#cc1820"/><path d="M644.5 384L622.1 396.8" stroke="#cc1820" stroke-width="4.2" fill="none"/><path d="M616.5 400L620.2 393.3L624.1 400.2Z" fill="#cc1820"/><path d="M596 468L596 443" stroke="#cc1820" stroke-width="3.6" fill="none"/><path d="M596 436.5L599.8 443L592.2 443Z" fill="#cc1820"/><circle cx="562.3" cy="392.8" r="4.8" fill="#cc1820"/><circle cx="630" cy="392.8" r="4.8" fill="#cc1820"/><circle cx="596" cy="451.9" r="4.8" fill="#cc1820"/><circle cx="664" cy="451.9" r="4.8" fill="#9c0f16"/><text x="608.5" y="375.5" font-size="25" fill="#1d4474">J</text><text x="621.5" y="384.5" font-size="16.5" fill="#1d4474">c</text><path d="M500 470.5H520" stroke="#e60000" stroke-width="3.4"/><path d="M536.5 470.5l-16.5 -5.6v11.2z" fill="#e60000"/><path d="M500 470.5L488 449" stroke="#20d020" stroke-width="3.4"/><path d="M481.5 438l-1.3 14.8 10.2-5.8z" fill="#20d020"/><circle cx="500" cy="470.5" r="4.6" fill="#00008b"/><text x="539.5" y="477.5" font-size="22" fill="#1a1a1a">a</text><text x="474.5" y="436.5" font-size="22" fill="#1a1a1a">b</text><text x="463" y="315.6" font-size="29.2" font-weight="bold" fill="#000">e</text><rect x="508.7" y="589.2" width="192.3" height="162.1" fill="#fff"/><g shape-rendering="crispEdges"><path d="M534.34 729.69h6.41v5.4h-6.41zM547.16 729.69h19.23v5.4h-19.23zM643.31 729.69h12.82v5.4h-12.82zM681.77 729.69h6.41v5.4h-6.41zM540.75 724.28h32.05v5.4h-32.05zM643.31 724.28h6.41v5.4h-6.41zM688.18 724.28h12.82v5.4h-12.82zM547.16 718.88h25.64v5.4h-25.64zM630.49 718.88h12.82v5.4h-12.82zM649.72 718.88h6.41v5.4h-6.41zM681.77 718.88h19.23v5.4h-19.23zM527.93 713.48h25.64v5.4h-25.64zM559.98 713.48h6.41v5.4h-6.41zM630.49 713.48h19.23v5.4h-19.23zM675.36 713.48h6.41v5.4h-6.41zM521.52 708.07h44.87v5.4h-44.87zM630.49 708.07h12.82v5.4h-12.82zM656.13 708.07h6.41v5.4h-6.41zM527.93 702.67h12.82v5.4h-12.82zM547.16 702.67h25.64v5.4h-25.64zM649.72 702.67h6.41v5.4h-6.41zM527.93 697.27h6.41v5.4h-6.41zM540.75 697.27h6.41v5.4h-6.41zM553.57 697.27h6.41v5.4h-6.41zM566.39 697.27h6.41v5.4h-6.41zM534.34 691.86h6.41v5.4h-6.41zM547.16 691.86h12.82v5.4h-12.82zM630.49 691.86h6.41v5.4h-6.41zM547.16 686.46h12.82v5.4h-12.82zM630.49 686.46h6.41v5.4h-6.41zM643.31 686.46h6.41v5.4h-6.41zM553.57 681.06h6.41v5.4h-6.41zM649.72 681.06h6.41v5.4h-6.41zM534.34 675.65h6.41v5.4h-6.41zM547.16 675.65h19.23v5.4h-19.23zM527.93 670.25h6.41v5.4h-6.41zM553.57 670.25h19.23v5.4h-19.23zM521.52 664.85h12.82v5.4h-12.82zM553.57 664.85h12.82v5.4h-12.82zM508.7 659.44h25.64v5.4h-25.64zM521.52 654.04h6.41v5.4h-6.41zM508.7 643.23h6.41v5.4h-6.41zM508.7 637.83h12.82v5.4h-12.82zM508.7 632.43h6.41v5.4h-6.41zM515.11 627.02h6.41v5.4h-6.41zM572.8 621.62h6.41v5.4h-6.41zM521.52 616.22h6.41v5.4h-6.41zM566.39 616.22h19.23v5.4h-19.23zM521.52 610.81h12.82v5.4h-12.82zM572.8 610.81h6.41v5.4h-6.41zM508.7 605.41h12.82v5.4h-12.82zM534.34 605.41h6.41v5.4h-6.41zM515.11 600.01h32.05v5.4h-32.05zM559.98 600.01h6.41v5.4h-6.41zM527.93 594.6h19.23v5.4h-19.23zM534.34 589.2h12.82v5.4h-12.82z" fill="#440154"/><path d="M515.11 729.69h6.41v5.4h-6.41zM527.93 729.69h6.41v5.4h-6.41zM540.75 729.69h6.41v5.4h-6.41zM566.39 729.69h12.82v5.4h-12.82zM636.9 729.69h6.41v5.4h-6.41zM688.18 729.69h12.82v5.4h-12.82zM508.7 724.28h6.41v5.4h-6.41zM534.34 724.28h6.41v5.4h-6.41zM572.8 724.28h6.41v5.4h-6.41zM624.08 724.28h19.23v5.4h-19.23zM649.72 724.28h12.82v5.4h-12.82zM675.36 724.28h12.82v5.4h-12.82zM508.7 718.88h6.41v5.4h-6.41zM534.34 718.88h12.82v5.4h-12.82zM572.8 718.88h12.82v5.4h-12.82zM624.08 718.88h6.41v5.4h-6.41zM643.31 718.88h6.41v5.4h-6.41zM675.36 718.88h6.41v5.4h-6.41zM508.7 713.48h19.23v5.4h-19.23zM553.57 713.48h6.41v5.4h-6.41zM566.39 713.48h12.82v5.4h-12.82zM649.72 713.48h12.82v5.4h-12.82zM681.77 713.48h12.82v5.4h-12.82zM508.7 708.07h12.82v5.4h-12.82zM566.39 708.07h6.41v5.4h-6.41zM643.31 708.07h12.82v5.4h-12.82zM662.54 708.07h6.41v5.4h-6.41zM675.36 708.07h12.82v5.4h-12.82zM515.11 702.67h12.82v5.4h-12.82zM540.75 702.67h6.41v5.4h-6.41zM572.8 702.67h6.41v5.4h-6.41zM630.49 702.67h19.23v5.4h-19.23zM656.13 702.67h25.64v5.4h-25.64zM508.7 697.27h6.41v5.4h-6.41zM521.52 697.27h6.41v5.4h-6.41zM534.34 697.27h6.41v5.4h-6.41zM547.16 697.27h6.41v5.4h-6.41zM559.98 697.27h6.41v5.4h-6.41zM572.8 697.27h6.41v5.4h-6.41zM636.9 697.27h12.82v5.4h-12.82zM656.13 697.27h19.23v5.4h-19.23zM521.52 691.86h12.82v5.4h-12.82zM540.75 691.86h6.41v5.4h-6.41zM559.98 691.86h12.82v5.4h-12.82zM624.08 691.86h6.41v5.4h-6.41zM636.9 691.86h6.41v5.4h-6.41zM649.72 691.86h19.23v5.4h-19.23zM527.93 686.46h19.23v5.4h-19.23zM559.98 686.46h19.23v5.4h-19.23zM636.9 686.46h6.41v5.4h-6.41zM649.72 686.46h12.82v5.4h-12.82zM508.7 681.06h6.41v5.4h-6.41zM527.93 681.06h25.64v5.4h-25.64zM559.98 681.06h12.82v5.4h-12.82zM630.49 681.06h19.23v5.4h-19.23zM521.52 675.65h12.82v5.4h-12.82zM540.75 675.65h6.41v5.4h-6.41zM624.08 675.65h12.82v5.4h-12.82zM643.31 675.65h6.41v5.4h-6.41zM508.7 670.25h19.23v5.4h-19.23zM534.34 670.25h19.23v5.4h-19.23zM630.49 670.25h12.82v5.4h-12.82zM508.7 664.85h12.82v5.4h-12.82zM534.34 664.85h12.82v5.4h-12.82zM624.08 664.85h12.82v5.4h-12.82zM534.34 659.44h38.46v5.4h-38.46zM508.7 654.04h12.82v5.4h-12.82zM527.93 654.04h44.87v5.4h-44.87zM508.7 648.64h6.41v5.4h-6.41zM521.52 648.64h19.23v5.4h-19.23zM559.98 648.64h12.82v5.4h-12.82zM534.34 643.23h12.82v5.4h-12.82zM515.11 632.43h6.41v5.4h-6.41zM521.52 627.02h6.41v5.4h-6.41zM553.57 627.02h6.41v5.4h-6.41zM508.7 621.62h25.64v5.4h-25.64zM559.98 621.62h12.82v5.4h-12.82zM508.7 616.22h12.82v5.4h-12.82zM527.93 616.22h12.82v5.4h-12.82zM553.57 616.22h12.82v5.4h-12.82zM508.7 610.81h12.82v5.4h-12.82zM534.34 610.81h12.82v5.4h-12.82zM559.98 610.81h12.82v5.4h-12.82zM521.52 605.41h12.82v5.4h-12.82zM540.75 605.41h6.41v5.4h-6.41zM559.98 605.41h12.82v5.4h-12.82zM508.7 600.01h6.41v5.4h-6.41zM547.16 600.01h12.82v5.4h-12.82zM515.11 594.6h12.82v5.4h-12.82zM547.16 594.6h12.82v5.4h-12.82zM527.93 589.2h6.41v5.4h-6.41zM547.16 589.2h6.41v5.4h-6.41z" fill="#461062"/><path d="M508.7 729.69h6.41v5.4h-6.41zM521.52 729.69h6.41v5.4h-6.41zM579.21 729.69h6.41v5.4h-6.41zM617.67 729.69h12.82v5.4h-12.82zM656.13 729.69h6.41v5.4h-6.41zM668.95 729.69h12.82v5.4h-12.82zM515.11 724.28h19.23v5.4h-19.23zM579.21 724.28h6.41v5.4h-6.41zM662.54 724.28h12.82v5.4h-12.82zM515.11 718.88h12.82v5.4h-12.82zM656.13 718.88h19.23v5.4h-19.23zM624.08 713.48h6.41v5.4h-6.41zM662.54 713.48h12.82v5.4h-12.82zM572.8 708.07h6.41v5.4h-6.41zM624.08 708.07h6.41v5.4h-6.41zM668.95 708.07h6.41v5.4h-6.41zM508.7 702.67h6.41v5.4h-6.41zM624.08 702.67h6.41v5.4h-6.41zM515.11 697.27h6.41v5.4h-6.41zM624.08 697.27h12.82v5.4h-12.82zM649.72 697.27h6.41v5.4h-6.41zM508.7 691.86h12.82v5.4h-12.82zM572.8 691.86h6.41v5.4h-6.41zM643.31 691.86h6.41v5.4h-6.41zM508.7 686.46h19.23v5.4h-19.23zM624.08 686.46h6.41v5.4h-6.41zM521.52 681.06h6.41v5.4h-6.41zM572.8 681.06h12.82v5.4h-12.82zM624.08 681.06h6.41v5.4h-6.41zM515.11 675.65h6.41v5.4h-6.41zM566.39 675.65h19.23v5.4h-19.23zM636.9 675.65h6.41v5.4h-6.41zM572.8 670.25h12.82v5.4h-12.82zM624.08 670.25h6.41v5.4h-6.41zM547.16 664.85h6.41v5.4h-6.41zM566.39 664.85h12.82v5.4h-12.82zM630.49 659.44h6.41v5.4h-6.41zM572.8 654.04h6.41v5.4h-6.41zM515.11 648.64h6.41v5.4h-6.41zM540.75 648.64h19.23v5.4h-19.23zM572.8 648.64h6.41v5.4h-6.41zM515.11 643.23h19.23v5.4h-19.23zM559.98 643.23h19.23v5.4h-19.23zM521.52 637.83h6.41v5.4h-6.41zM534.34 637.83h12.82v5.4h-12.82zM521.52 632.43h12.82v5.4h-12.82zM540.75 632.43h12.82v5.4h-12.82zM508.7 627.02h6.41v5.4h-6.41zM527.93 627.02h25.64v5.4h-25.64zM534.34 621.62h25.64v5.4h-25.64zM579.21 621.62h6.41v5.4h-6.41zM540.75 616.22h6.41v5.4h-6.41zM547.16 610.81h12.82v5.4h-12.82zM547.16 605.41h12.82v5.4h-12.82zM508.7 589.2h6.41v5.4h-6.41zM521.52 589.2h6.41v5.4h-6.41z" fill="#471f71"/><path d="M540.75 735.09h25.64v5.4h-25.64zM688.18 735.09h6.41v5.4h-6.41zM585.62 729.69h6.41v5.4h-6.41zM611.26 729.69h6.41v5.4h-6.41zM630.49 729.69h6.41v5.4h-6.41zM662.54 729.69h6.41v5.4h-6.41zM617.67 724.28h6.41v5.4h-6.41zM527.93 718.88h6.41v5.4h-6.41zM579.21 713.48h6.41v5.4h-6.41zM617.67 708.07h6.41v5.4h-6.41zM617.67 697.27h6.41v5.4h-6.41zM579.21 691.86h6.41v5.4h-6.41zM579.21 686.46h6.41v5.4h-6.41zM515.11 681.06h6.41v5.4h-6.41zM617.67 681.06h6.41v5.4h-6.41zM508.7 675.65h6.41v5.4h-6.41zM617.67 675.65h6.41v5.4h-6.41zM617.67 670.25h6.41v5.4h-6.41zM579.21 664.85h6.41v5.4h-6.41zM572.8 659.44h6.41v5.4h-6.41zM624.08 659.44h6.41v5.4h-6.41zM624.08 654.04h6.41v5.4h-6.41zM579.21 648.64h6.41v5.4h-6.41zM547.16 643.23h6.41v5.4h-6.41zM579.21 643.23h6.41v5.4h-6.41zM527.93 637.83h6.41v5.4h-6.41zM547.16 637.83h6.41v5.4h-6.41zM559.98 637.83h12.82v5.4h-12.82zM534.34 632.43h6.41v5.4h-6.41zM553.57 632.43h6.41v5.4h-6.41zM559.98 627.02h12.82v5.4h-12.82zM547.16 616.22h6.41v5.4h-6.41zM508.7 594.6h6.41v5.4h-6.41zM515.11 589.2h6.41v5.4h-6.41z" fill="#462e7a"/><path d="M521.52 735.09h19.23v5.4h-19.23zM617.67 735.09h6.41v5.4h-6.41zM636.9 735.09h19.23v5.4h-19.23zM675.36 735.09h6.41v5.4h-6.41zM694.59 735.09h6.41v5.4h-6.41zM617.67 713.48h6.41v5.4h-6.41zM579.21 708.07h6.41v5.4h-6.41zM579.21 702.67h6.41v5.4h-6.41zM617.67 702.67h6.41v5.4h-6.41zM579.21 697.27h6.41v5.4h-6.41zM617.67 691.86h6.41v5.4h-6.41zM617.67 686.46h6.41v5.4h-6.41zM585.62 681.06h6.41v5.4h-6.41zM585.62 675.65h6.41v5.4h-6.41zM579.21 659.44h6.41v5.4h-6.41zM579.21 654.04h6.41v5.4h-6.41zM617.67 654.04h6.41v5.4h-6.41zM553.57 643.23h6.41v5.4h-6.41zM553.57 637.83h6.41v5.4h-6.41zM572.8 637.83h12.82v5.4h-12.82zM559.98 632.43h6.41v5.4h-6.41zM572.8 627.02h6.41v5.4h-6.41zM585.62 621.62h6.41v5.4h-6.41z" fill="#433c82"/><path d="M508.7 735.09h12.82v5.4h-12.82zM566.39 735.09h19.23v5.4h-19.23zM630.49 735.09h6.41v5.4h-6.41zM656.13 735.09h6.41v5.4h-6.41zM668.95 735.09h6.41v5.4h-6.41zM681.77 735.09h6.41v5.4h-6.41zM585.62 724.28h6.41v5.4h-6.41zM585.62 718.88h6.41v5.4h-6.41zM617.67 718.88h6.41v5.4h-6.41zM585.62 713.48h6.41v5.4h-6.41zM585.62 686.46h6.41v5.4h-6.41zM585.62 670.25h6.41v5.4h-6.41zM617.67 664.85h6.41v5.4h-6.41zM617.67 659.44h6.41v5.4h-6.41zM617.67 648.64h6.41v5.4h-6.41zM566.39 632.43h6.41v5.4h-6.41zM579.21 627.02h6.41v5.4h-6.41z" fill="#3f4988"/><path d="M585.62 735.09h6.41v5.4h-6.41zM611.26 735.09h6.41v5.4h-6.41zM624.08 735.09h6.41v5.4h-6.41zM662.54 735.09h6.41v5.4h-6.41zM592.03 729.69h6.41v5.4h-6.41zM604.85 729.69h6.41v5.4h-6.41zM611.26 724.28h6.41v5.4h-6.41zM585.62 708.07h6.41v5.4h-6.41zM585.62 697.27h6.41v5.4h-6.41zM585.62 691.86h6.41v5.4h-6.41zM611.26 681.06h6.41v5.4h-6.41zM585.62 659.44h6.41v5.4h-6.41zM585.62 654.04h6.41v5.4h-6.41zM585.62 648.64h6.41v5.4h-6.41zM585.62 643.23h6.41v5.4h-6.41zM585.62 637.83h6.41v5.4h-6.41zM572.8 632.43h6.41v5.4h-6.41z" fill="#3a548b"/><path d="M598.44 729.69h6.41v5.4h-6.41zM611.26 702.67h6.41v5.4h-6.41zM585.62 664.85h6.41v5.4h-6.41zM579.21 632.43h6.41v5.4h-6.41zM585.62 627.02h12.82v5.4h-12.82z" fill="#35608d"/><path d="M592.03 724.28h6.41v5.4h-6.41zM611.26 718.88h6.41v5.4h-6.41zM611.26 708.07h6.41v5.4h-6.41zM585.62 702.67h6.41v5.4h-6.41zM611.26 697.27h6.41v5.4h-6.41zM611.26 691.86h6.41v5.4h-6.41zM611.26 686.46h6.41v5.4h-6.41zM611.26 675.65h6.41v5.4h-6.41zM611.26 643.23h6.41v5.4h-6.41zM585.62 632.43h6.41v5.4h-6.41z" fill="#306b8d"/><path d="M611.26 713.48h6.41v5.4h-6.41zM611.26 670.25h6.41v5.4h-6.41zM592.03 654.04h6.41v5.4h-6.41zM611.26 654.04h6.41v5.4h-6.41zM611.26 648.64h6.41v5.4h-6.41zM592.03 643.23h6.41v5.4h-6.41zM592.03 637.83h6.41v5.4h-6.41z" fill="#2b768e"/><path d="M604.85 724.28h6.41v5.4h-6.41zM592.03 718.88h6.41v5.4h-6.41zM592.03 713.48h6.41v5.4h-6.41zM592.03 708.07h6.41v5.4h-6.41zM592.03 686.46h6.41v5.4h-6.41zM592.03 681.06h6.41v5.4h-6.41zM592.03 675.65h6.41v5.4h-6.41zM611.26 659.44h6.41v5.4h-6.41zM592.03 648.64h6.41v5.4h-6.41zM604.85 637.83h6.41v5.4h-6.41zM592.03 632.43h12.82v5.4h-12.82z" fill="#27808e"/><path d="M598.44 724.28h6.41v5.4h-6.41zM592.03 702.67h6.41v5.4h-6.41zM604.85 702.67h6.41v5.4h-6.41zM592.03 691.86h6.41v5.4h-6.41zM592.03 670.25h6.41v5.4h-6.41zM611.26 664.85h6.41v5.4h-6.41z" fill="#238b8d"/><path d="M604.85 718.88h6.41v5.4h-6.41zM592.03 697.27h6.41v5.4h-6.41zM592.03 664.85h6.41v5.4h-6.41zM592.03 659.44h6.41v5.4h-6.41zM604.85 643.23h6.41v5.4h-6.41zM598.44 637.83h6.41v5.4h-6.41z" fill="#21958b"/><path d="M604.85 697.27h6.41v5.4h-6.41zM604.85 686.46h6.41v5.4h-6.41zM604.85 681.06h6.41v5.4h-6.41zM604.85 675.65h6.41v5.4h-6.41zM598.44 643.23h6.41v5.4h-6.41z" fill="#22a087"/><path d="M598.44 718.88h6.41v5.4h-6.41zM604.85 713.48h6.41v5.4h-6.41zM598.44 708.07h12.82v5.4h-12.82zM598.44 702.67h6.41v5.4h-6.41zM598.44 681.06h6.41v5.4h-6.41zM604.85 654.04h6.41v5.4h-6.41zM598.44 648.64h12.82v5.4h-12.82z" fill="#25aa82"/><path d="M598.44 713.48h6.41v5.4h-6.41zM604.85 691.86h6.41v5.4h-6.41zM598.44 686.46h6.41v5.4h-6.41zM598.44 675.65h6.41v5.4h-6.41zM598.44 654.04h6.41v5.4h-6.41z" fill="#33b37a"/><path d="M598.44 697.27h6.41v5.4h-6.41zM598.44 691.86h6.41v5.4h-6.41zM604.85 670.25h6.41v5.4h-6.41zM598.44 659.44h12.82v5.4h-12.82z" fill="#41bd72"/><path d="M598.44 670.25h6.41v5.4h-6.41z" fill="#58c564"/><path d="M604.85 664.85h6.41v5.4h-6.41z" fill="#8bd546"/><path d="M598.44 664.85h6.41v5.4h-6.41z" fill="#a9db33"/><path d="M508.7 745.9h192.3v5.4h-192.3zM508.7 740.49h192.3v5.4h-192.3zM592.03 735.09h19.23v5.4h-19.23z" fill="#fde725"/></g><path d="M508.7 751.3V738.9H586L591 735.6H610.5L615.5 738.9H701.0V751.3Z" fill="#fde725"/><rect x="508.7" y="589.2" width="192.3" height="162.1" fill="none" stroke="#262626" stroke-width="1.9"/><text x="508.7" y="777.6" font-size="18.3" text-anchor="middle" fill="#1a1a1a">1.2</text><text x="572.9" y="777.6" font-size="18.3" text-anchor="middle" fill="#1a1a1a">1.4</text><text x="637" y="777.6" font-size="18.3" text-anchor="middle" fill="#1a1a1a">1.6</text><text x="501.7" y="758.7" font-size="18.3" text-anchor="end" fill="#1a1a1a">0</text><text x="501.7" y="704.5" font-size="18.3" text-anchor="end" fill="#1a1a1a">1</text><text x="501.7" y="650.3" font-size="18.3" text-anchor="end" fill="#1a1a1a">2</text><text x="501.7" y="596.1" font-size="18.3" text-anchor="end" fill="#1a1a1a">3</text><path d="M508.7 751.3v-2.5M508.7 589.2v2.5M572.9 751.3v-2.5M572.9 589.2v2.5M637 751.3v-2.5M637 589.2v2.5M508.7 751.3h2.5M701 751.3h-2.5M508.7 697.1h2.5M701 697.1h-2.5M508.7 642.9h2.5M701 642.9h-2.5M508.7 588.7h2.5M701 588.7h-2.5" stroke="#262626" stroke-width="1" fill="none"/><text x="605" y="806" font-size="21.5" text-anchor="middle" fill="#1a1a1a">[<tspan font-style="italic">H</tspan>, 0, 0] (r.l.u.)</text><text x="479" y="668.5" font-size="21.9" text-anchor="middle" fill="#1a1a1a" transform="rotate(-90 479 668.5)">Energy (meV)</text><text x="659" y="617.8" font-size="17" fill="#1a1a1a">5 K</text><path d="M527.8 731.8H558" stroke="#c1272d" stroke-width="2.7" fill="none"/><path d="M567.2 731.8l-10.5 -5v10z" fill="#c1272d"/><rect x="507.5" y="565.8" width="193" height="14.2" fill="url(#virg)" stroke="#262626" stroke-width="0.8"/><path d="M571.8 565.8v2.2M636 565.8v2.2M571.8 580v-2.2M636 580v-2.2" stroke="#262626" stroke-width="0.9"/><text x="507" y="556" font-size="17.5" text-anchor="middle" fill="#1a1a1a">0</text><text x="571.5" y="556" font-size="17.5" text-anchor="middle" fill="#1a1a1a">0.2</text><text x="636" y="556" font-size="17.5" text-anchor="middle" fill="#1a1a1a">0.4</text><text x="700" y="556" font-size="17.5" text-anchor="middle" fill="#1a1a1a">0.6</text><text x="602" y="529.7" font-size="19.5" text-anchor="middle" fill="#1a1a1a">Intensity (arb. units)</text><text x="467.9" y="566.9" font-size="29.2" font-weight="bold" fill="#000">i</text>
</svg>
</body></html>
